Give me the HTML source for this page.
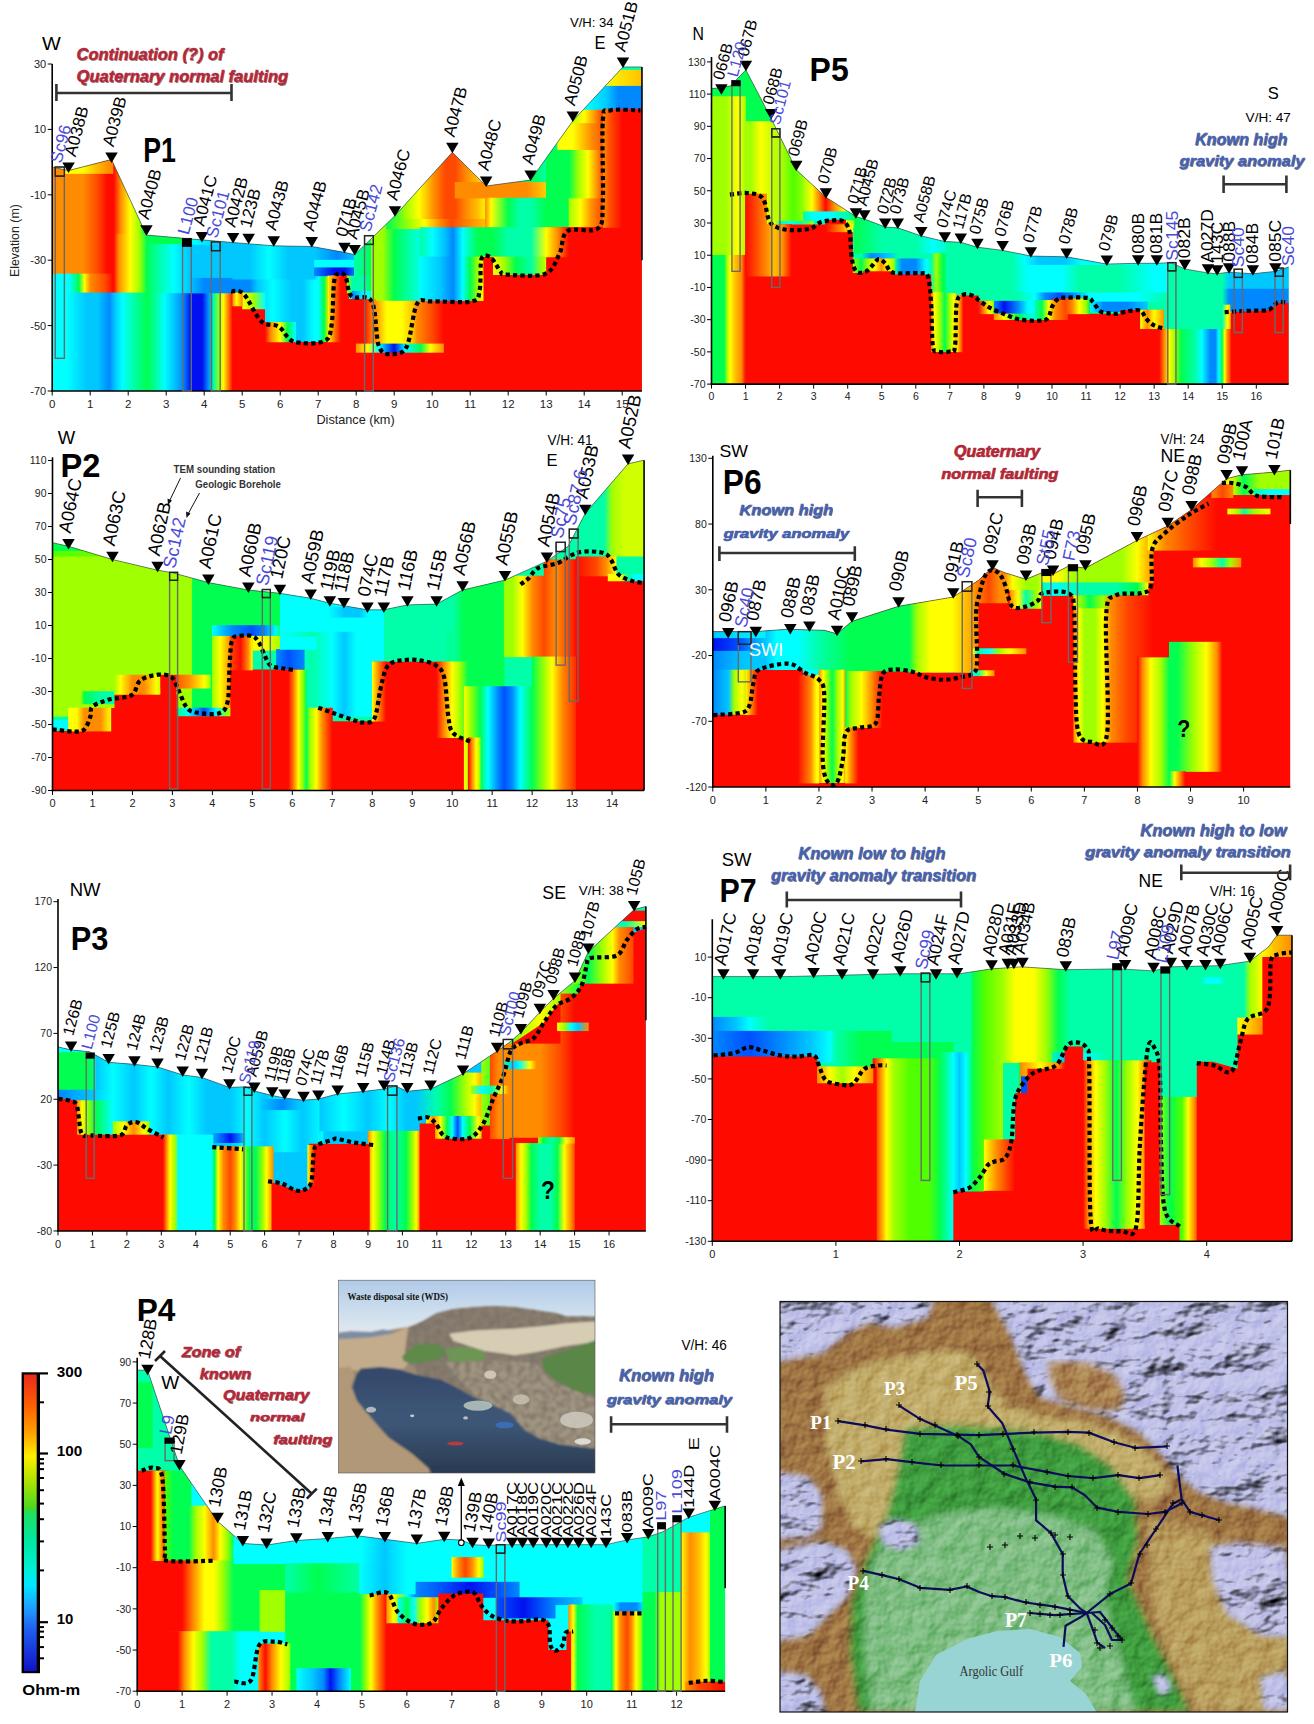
<!DOCTYPE html>
<html><head><meta charset="utf-8"><style>
html,body{margin:0;padding:0;background:#fff;}
body{width:1314px;height:1724px;overflow:hidden;}
svg{display:block;}
text{font-family:"Liberation Sans",sans-serif;}
</style></head><body>
<svg width="1314" height="1724" viewBox="0 0 1314 1724">
<rect width="1314" height="1724" fill="#fff"/>
<defs><linearGradient id="p1_g1" gradientUnits="userSpaceOnUse" x1="52.20" y1="0" x2="144.16" y2="0"><stop offset="0.0000" stop-color="#ff8c00"/><stop offset="0.3306" stop-color="#ff8c00"/><stop offset="0.4959" stop-color="#ff4800"/><stop offset="0.5992" stop-color="#ff0a00"/><stop offset="0.6694" stop-color="#ff0a00"/><stop offset="0.7438" stop-color="#ff8c00"/><stop offset="0.8471" stop-color="#ffff00"/><stop offset="0.9504" stop-color="#a0ff00"/><stop offset="1.0000" stop-color="#00ff50"/></linearGradient><linearGradient id="p1_g2" gradientUnits="userSpaceOnUse" x1="65.50" y1="0" x2="109.20" y2="0"><stop offset="0.0000" stop-color="#ffff00"/><stop offset="0.3913" stop-color="#ffff00"/><stop offset="0.6957" stop-color="#ffc000"/><stop offset="1.0000" stop-color="#ff8c00"/></linearGradient><linearGradient id="p1_g3" gradientUnits="userSpaceOnUse" x1="52.20" y1="0" x2="113.76" y2="0"><stop offset="0.0000" stop-color="#ff8c00"/><stop offset="0.4938" stop-color="#ff8c00"/><stop offset="0.7407" stop-color="#ff4800"/><stop offset="0.8951" stop-color="#ff0a00"/><stop offset="1.0000" stop-color="#ff0a00"/></linearGradient><linearGradient id="p1_g4" gradientUnits="userSpaceOnUse" x1="113.76" y1="0" x2="147.20" y2="0"><stop offset="0.0000" stop-color="#ff0a00"/><stop offset="0.1477" stop-color="#ff8c00"/><stop offset="0.4886" stop-color="#ffff00"/><stop offset="0.7727" stop-color="#a0ff00"/><stop offset="1.0000" stop-color="#00ff50"/></linearGradient><linearGradient id="p1_g5" gradientUnits="userSpaceOnUse" x1="52.20" y1="0" x2="113.00" y2="0"><stop offset="0.0000" stop-color="#00ffff"/><stop offset="0.2812" stop-color="#00ffff"/><stop offset="0.4375" stop-color="#00ff50"/><stop offset="0.5312" stop-color="#ffff00"/><stop offset="0.6250" stop-color="#ff8c00"/><stop offset="0.8750" stop-color="#ff4800"/><stop offset="1.0000" stop-color="#ff0a00"/></linearGradient><linearGradient id="p1_g6" gradientUnits="userSpaceOnUse" x1="52.20" y1="0" x2="232.70" y2="0"><stop offset="0.0000" stop-color="#00ffff"/><stop offset="0.0842" stop-color="#00ffff"/><stop offset="0.1895" stop-color="#00c8ff"/><stop offset="0.2526" stop-color="#00c8ff"/><stop offset="0.3158" stop-color="#0088ff"/><stop offset="0.3474" stop-color="#00c8ff"/><stop offset="0.3895" stop-color="#00ffff"/><stop offset="0.4526" stop-color="#00ffa8"/><stop offset="0.5263" stop-color="#00ff50"/><stop offset="0.5789" stop-color="#00ffa8"/><stop offset="0.6211" stop-color="#00ffff"/><stop offset="0.6737" stop-color="#00c8ff"/><stop offset="0.7263" stop-color="#0088ff"/><stop offset="0.7684" stop-color="#0010f0"/><stop offset="0.8316" stop-color="#0010f0"/><stop offset="0.8632" stop-color="#0088ff"/><stop offset="0.8947" stop-color="#00ffa8"/><stop offset="0.9263" stop-color="#a0ff00"/><stop offset="0.9474" stop-color="#ffff00"/><stop offset="0.9726" stop-color="#ff8c00"/><stop offset="1.0000" stop-color="#ff0a00"/></linearGradient><linearGradient id="p1_g7" gradientUnits="userSpaceOnUse" x1="146.44" y1="0" x2="192.80" y2="0"><stop offset="0.0000" stop-color="#00ff50"/><stop offset="0.7541" stop-color="#00ff50"/><stop offset="1.0000" stop-color="#00ffa8"/></linearGradient><linearGradient id="p1_g8" gradientUnits="userSpaceOnUse" x1="146.44" y1="0" x2="232.70" y2="0"><stop offset="0.0000" stop-color="#00ff50"/><stop offset="0.1410" stop-color="#00ffa8"/><stop offset="0.3172" stop-color="#00ffff"/><stop offset="0.4934" stop-color="#00c8ff"/><stop offset="0.7577" stop-color="#00c8ff"/><stop offset="1.0000" stop-color="#00c8ff"/></linearGradient><linearGradient id="p1_g9" gradientUnits="userSpaceOnUse" x1="189.00" y1="0" x2="232.70" y2="0"><stop offset="0.0000" stop-color="#00c8ff"/><stop offset="0.3478" stop-color="#0088ff"/><stop offset="1.0000" stop-color="#0088ff"/></linearGradient><linearGradient id="p1_g10" gradientUnits="userSpaceOnUse" x1="192.80" y1="0" x2="318.20" y2="0"><stop offset="0.0000" stop-color="#00ffff"/><stop offset="0.2424" stop-color="#00c8ff"/><stop offset="0.5455" stop-color="#00c8ff"/><stop offset="0.8485" stop-color="#00c8ff"/><stop offset="1.0000" stop-color="#0088ff"/></linearGradient><linearGradient id="p1_g11" gradientUnits="userSpaceOnUse" x1="232.70" y1="0" x2="318.20" y2="0"><stop offset="0.0000" stop-color="#00c8ff"/><stop offset="0.2000" stop-color="#00c8ff"/><stop offset="0.4222" stop-color="#00ffff"/><stop offset="0.6444" stop-color="#00c8ff"/><stop offset="0.9556" stop-color="#00c8ff"/><stop offset="1.0000" stop-color="#00ffff"/></linearGradient><linearGradient id="p1_g12" gradientUnits="userSpaceOnUse" x1="232.70" y1="0" x2="257.40" y2="0"><stop offset="0.0000" stop-color="#0088ff"/><stop offset="0.6923" stop-color="#0088ff"/><stop offset="1.0000" stop-color="#00c8ff"/></linearGradient><linearGradient id="p1_g13" gradientUnits="userSpaceOnUse" x1="257.40" y1="0" x2="318.20" y2="0"><stop offset="0.0000" stop-color="#00c8ff"/><stop offset="0.2500" stop-color="#00ffff"/><stop offset="0.5625" stop-color="#00c8ff"/><stop offset="0.7500" stop-color="#00c8ff"/><stop offset="0.9375" stop-color="#00ffff"/><stop offset="1.0000" stop-color="#00ffff"/></linearGradient><linearGradient id="p1_g14" gradientUnits="userSpaceOnUse" x1="232.70" y1="0" x2="265.00" y2="0"><stop offset="0.0000" stop-color="#ff0a00"/><stop offset="0.1176" stop-color="#ff8c00"/><stop offset="0.2941" stop-color="#ffff00"/><stop offset="0.6471" stop-color="#a0ff00"/><stop offset="1.0000" stop-color="#00ffff"/></linearGradient><linearGradient id="p1_g15" gradientUnits="userSpaceOnUse" x1="261.20" y1="0" x2="295.40" y2="0"><stop offset="0.0000" stop-color="#ff8c00"/><stop offset="0.3333" stop-color="#ffff00"/><stop offset="0.6667" stop-color="#00ff50"/><stop offset="1.0000" stop-color="#00ffff"/></linearGradient><linearGradient id="p1_g16" gradientUnits="userSpaceOnUse" x1="318.20" y1="0" x2="331.50" y2="0"><stop offset="0.0000" stop-color="#00ffff"/><stop offset="0.4286" stop-color="#00ff50"/><stop offset="0.7143" stop-color="#a0ff00"/><stop offset="1.0000" stop-color="#ffff00"/></linearGradient><linearGradient id="p1_g17" gradientUnits="userSpaceOnUse" x1="314.40" y1="0" x2="356.20" y2="0"><stop offset="0.0000" stop-color="#00c8ff"/><stop offset="0.5455" stop-color="#0088ff"/><stop offset="1.0000" stop-color="#00c8ff"/></linearGradient><linearGradient id="p1_g18" gradientUnits="userSpaceOnUse" x1="314.40" y1="0" x2="371.40" y2="0"><stop offset="0.0000" stop-color="#00ffff"/><stop offset="0.6667" stop-color="#00ffff"/><stop offset="0.8000" stop-color="#00ffa8"/><stop offset="1.0000" stop-color="#00ffa8"/></linearGradient><linearGradient id="p1_g19" gradientUnits="userSpaceOnUse" x1="314.40" y1="0" x2="356.20" y2="0"><stop offset="0.0000" stop-color="#0088ff"/><stop offset="0.4545" stop-color="#0010f0"/><stop offset="0.7273" stop-color="#0010f0"/><stop offset="1.0000" stop-color="#0088ff"/></linearGradient><linearGradient id="p1_g20" gradientUnits="userSpaceOnUse" x1="354.30" y1="0" x2="373.30" y2="0"><stop offset="0.0000" stop-color="#00ffa8"/><stop offset="1.0000" stop-color="#00ff50"/></linearGradient><linearGradient id="p1_g21" gradientUnits="userSpaceOnUse" x1="331.50" y1="0" x2="348.60" y2="0"><stop offset="0.0000" stop-color="#ffff00"/><stop offset="0.2222" stop-color="#ff8c00"/><stop offset="0.5556" stop-color="#ff0a00"/><stop offset="1.0000" stop-color="#ff0a00"/></linearGradient><linearGradient id="p1_g22" gradientUnits="userSpaceOnUse" x1="346.70" y1="0" x2="373.30" y2="0"><stop offset="0.0000" stop-color="#a0ff00"/><stop offset="0.2143" stop-color="#00ffa8"/><stop offset="0.6429" stop-color="#00ffa8"/><stop offset="1.0000" stop-color="#00ff50"/></linearGradient><linearGradient id="p1_g23" gradientUnits="userSpaceOnUse" x1="352.40" y1="0" x2="373.30" y2="0"><stop offset="0.0000" stop-color="#0088ff"/><stop offset="0.5455" stop-color="#00ffff"/><stop offset="1.0000" stop-color="#00ffff"/></linearGradient><linearGradient id="p1_g24" gradientUnits="userSpaceOnUse" x1="371.40" y1="0" x2="485.40" y2="0"><stop offset="0.0000" stop-color="#a0ff00"/><stop offset="0.1000" stop-color="#a0ff00"/><stop offset="0.2000" stop-color="#00ff50"/><stop offset="0.3333" stop-color="#00ffa8"/><stop offset="0.4667" stop-color="#00ffff"/><stop offset="0.5667" stop-color="#00c8ff"/><stop offset="0.6833" stop-color="#0088ff"/><stop offset="0.7833" stop-color="#00ffff"/><stop offset="0.8667" stop-color="#00ff50"/><stop offset="0.9500" stop-color="#a0ff00"/><stop offset="1.0000" stop-color="#ffff00"/></linearGradient><linearGradient id="p1_g25" gradientUnits="userSpaceOnUse" x1="386.60" y1="0" x2="485.40" y2="0"><stop offset="0.0000" stop-color="#00ff50"/><stop offset="0.2308" stop-color="#a0ff00"/><stop offset="0.3846" stop-color="#ffff00"/><stop offset="0.5385" stop-color="#ff8c00"/><stop offset="0.6538" stop-color="#ff4800"/><stop offset="0.8462" stop-color="#ff8c00"/><stop offset="1.0000" stop-color="#ffc000"/></linearGradient><linearGradient id="p1_g26" gradientUnits="userSpaceOnUse" x1="371.40" y1="0" x2="487.30" y2="0"><stop offset="0.0000" stop-color="#a0ff00"/><stop offset="0.1639" stop-color="#00ff50"/><stop offset="0.2951" stop-color="#a0ff00"/><stop offset="0.4098" stop-color="#ffff00"/><stop offset="0.5410" stop-color="#ff8c00"/><stop offset="0.6393" stop-color="#ff4800"/><stop offset="0.7213" stop-color="#ff4800"/><stop offset="0.8197" stop-color="#ff8c00"/><stop offset="0.9180" stop-color="#ffc000"/><stop offset="1.0000" stop-color="#ffff00"/></linearGradient><linearGradient id="p1_g27" gradientUnits="userSpaceOnUse" x1="485.40" y1="0" x2="569.00" y2="0"><stop offset="0.0000" stop-color="#a0ff00"/><stop offset="0.2727" stop-color="#00ff50"/><stop offset="0.5455" stop-color="#00ff50"/><stop offset="0.7273" stop-color="#00ffa8"/><stop offset="1.0000" stop-color="#00ff50"/></linearGradient><linearGradient id="p1_g28" gradientUnits="userSpaceOnUse" x1="455.00" y1="0" x2="567.86" y2="0"><stop offset="0.0000" stop-color="#ff8c00"/><stop offset="0.6397" stop-color="#ff8c00"/><stop offset="0.7744" stop-color="#ffc000"/><stop offset="0.9091" stop-color="#ffff00"/><stop offset="1.0000" stop-color="#a0ff00"/></linearGradient><linearGradient id="p1_g29" gradientUnits="userSpaceOnUse" x1="485.40" y1="0" x2="580.40" y2="0"><stop offset="0.0000" stop-color="#ff8c00"/><stop offset="0.0600" stop-color="#ffff00"/><stop offset="0.2400" stop-color="#00ff50"/><stop offset="0.3600" stop-color="#00ffa8"/><stop offset="0.4800" stop-color="#00ffa8"/><stop offset="0.6400" stop-color="#00ff50"/><stop offset="0.8800" stop-color="#00ff50"/><stop offset="1.0000" stop-color="#a0ff00"/></linearGradient><linearGradient id="p1_g30" gradientUnits="userSpaceOnUse" x1="569.00" y1="0" x2="603.20" y2="0"><stop offset="0.0000" stop-color="#a0ff00"/><stop offset="0.3333" stop-color="#ffff00"/><stop offset="0.6667" stop-color="#ff8c00"/><stop offset="1.0000" stop-color="#ff4800"/></linearGradient><linearGradient id="p1_g31" gradientUnits="userSpaceOnUse" x1="546.20" y1="0" x2="607.00" y2="0"><stop offset="0.0000" stop-color="#00ff50"/><stop offset="0.3750" stop-color="#00ff50"/><stop offset="0.5312" stop-color="#a0ff00"/><stop offset="0.6875" stop-color="#ffff00"/><stop offset="0.8438" stop-color="#ff8c00"/><stop offset="1.0000" stop-color="#ff0a00"/></linearGradient><linearGradient id="p1_g32" gradientUnits="userSpaceOnUse" x1="557.60" y1="0" x2="622.20" y2="0"><stop offset="0.0000" stop-color="#ffff00"/><stop offset="0.2353" stop-color="#ffff00"/><stop offset="0.5294" stop-color="#ff8c00"/><stop offset="0.7647" stop-color="#ff4800"/><stop offset="1.0000" stop-color="#ff0a00"/></linearGradient><linearGradient id="p1_g33" gradientUnits="userSpaceOnUse" x1="569.00" y1="0" x2="607.00" y2="0"><stop offset="0.0000" stop-color="#a0ff00"/><stop offset="0.4000" stop-color="#ffff00"/><stop offset="0.7000" stop-color="#ff8c00"/><stop offset="1.0000" stop-color="#ff0a00"/></linearGradient><linearGradient id="p1_g34" gradientUnits="userSpaceOnUse" x1="576.60" y1="0" x2="641.96" y2="0"><stop offset="0.0000" stop-color="#00ffa8"/><stop offset="0.1744" stop-color="#00ffff"/><stop offset="0.4651" stop-color="#00c8ff"/><stop offset="0.6395" stop-color="#0088ff"/><stop offset="1.0000" stop-color="#0088ff"/></linearGradient><linearGradient id="p1_g35" gradientUnits="userSpaceOnUse" x1="603.20" y1="0" x2="641.96" y2="0"><stop offset="0.0000" stop-color="#ffff00"/><stop offset="1.0000" stop-color="#ffc000"/></linearGradient><linearGradient id="p1_g36" gradientUnits="userSpaceOnUse" x1="420.04" y1="0" x2="569.00" y2="0"><stop offset="0.0000" stop-color="#00ffa8"/><stop offset="0.0816" stop-color="#00ffff"/><stop offset="0.1582" stop-color="#00c8ff"/><stop offset="0.2219" stop-color="#0088ff"/><stop offset="0.2857" stop-color="#00ffff"/><stop offset="0.3878" stop-color="#00ff50"/><stop offset="0.4898" stop-color="#00ff50"/><stop offset="0.5918" stop-color="#00ffa8"/><stop offset="0.7449" stop-color="#00ffa8"/><stop offset="0.8469" stop-color="#ffff00"/><stop offset="0.9490" stop-color="#ff8c00"/><stop offset="1.0000" stop-color="#ff0a00"/></linearGradient><linearGradient id="p1_g37" gradientUnits="userSpaceOnUse" x1="420.04" y1="0" x2="483.50" y2="0"><stop offset="0.0000" stop-color="#00ffff"/><stop offset="0.3114" stop-color="#00c8ff"/><stop offset="0.5210" stop-color="#0088ff"/><stop offset="0.6707" stop-color="#00ffff"/><stop offset="0.7904" stop-color="#00ff50"/><stop offset="0.9102" stop-color="#a0ff00"/><stop offset="1.0000" stop-color="#ffff00"/></linearGradient><linearGradient id="p1_g38" gradientUnits="userSpaceOnUse" x1="483.50" y1="0" x2="561.40" y2="0"><stop offset="0.0000" stop-color="#ff8c00"/><stop offset="0.1220" stop-color="#ffff00"/><stop offset="0.2683" stop-color="#a0ff00"/><stop offset="0.4146" stop-color="#00ff50"/><stop offset="0.6098" stop-color="#00ffa8"/><stop offset="0.7561" stop-color="#a0ff00"/><stop offset="0.8537" stop-color="#ffff00"/><stop offset="1.0000" stop-color="#ff8c00"/></linearGradient><linearGradient id="p1_g39" gradientUnits="userSpaceOnUse" x1="232.70" y1="0" x2="242.20" y2="0"><stop offset="0.0000" stop-color="#ff8c00"/><stop offset="0.4000" stop-color="#ffff00"/><stop offset="1.0000" stop-color="#ff8c00"/></linearGradient><linearGradient id="p1_g40" gradientUnits="userSpaceOnUse" x1="327.70" y1="0" x2="341.00" y2="0"><stop offset="0.0000" stop-color="#ffff00"/><stop offset="0.4286" stop-color="#ff8c00"/><stop offset="1.0000" stop-color="#ff0a00"/></linearGradient><linearGradient id="p1_g41" gradientUnits="userSpaceOnUse" x1="265.00" y1="0" x2="295.40" y2="0"><stop offset="0.0000" stop-color="#ff0a00"/><stop offset="0.1875" stop-color="#ff8c00"/><stop offset="0.5000" stop-color="#ffff00"/><stop offset="0.7500" stop-color="#00ff50"/><stop offset="1.0000" stop-color="#00ffff"/></linearGradient><linearGradient id="p1_g42" gradientUnits="userSpaceOnUse" x1="346.70" y1="0" x2="375.20" y2="0"><stop offset="0.0000" stop-color="#ff0a00"/><stop offset="0.6000" stop-color="#ff0a00"/><stop offset="0.9333" stop-color="#ff8c00"/><stop offset="1.0000" stop-color="#ff8c00"/></linearGradient><linearGradient id="p1_g43" gradientUnits="userSpaceOnUse" x1="375.20" y1="0" x2="417.00" y2="0"><stop offset="0.0000" stop-color="#ff8c00"/><stop offset="0.2727" stop-color="#ffff00"/><stop offset="0.6364" stop-color="#ffff00"/><stop offset="0.9091" stop-color="#ffc000"/><stop offset="1.0000" stop-color="#ff8c00"/></linearGradient><linearGradient id="p1_g44" gradientUnits="userSpaceOnUse" x1="417.00" y1="0" x2="443.60" y2="0"><stop offset="0.0000" stop-color="#ff8c00"/><stop offset="0.5714" stop-color="#ff4800"/><stop offset="1.0000" stop-color="#ff0a00"/></linearGradient><linearGradient id="p1_g45" gradientUnits="userSpaceOnUse" x1="356.20" y1="0" x2="443.60" y2="0"><stop offset="0.0000" stop-color="#ff8c00"/><stop offset="0.1304" stop-color="#ffff00"/><stop offset="0.2609" stop-color="#00ffff"/><stop offset="0.4348" stop-color="#0010f0"/><stop offset="0.5652" stop-color="#00ffff"/><stop offset="0.7391" stop-color="#00ff50"/><stop offset="0.8478" stop-color="#ffff00"/><stop offset="1.0000" stop-color="#ff8c00"/></linearGradient><linearGradient id="p1_g46" gradientUnits="userSpaceOnUse" x1="546.20" y1="0" x2="569.00" y2="0"><stop offset="0.0000" stop-color="#ffff00"/><stop offset="0.5000" stop-color="#ff8c00"/><stop offset="1.0000" stop-color="#ff0a00"/></linearGradient><linearGradient id="p1_g47" gradientUnits="userSpaceOnUse" x1="603.20" y1="0" x2="622.20" y2="0"><stop offset="0.0000" stop-color="#ff8c00"/><stop offset="0.4000" stop-color="#ff4800"/><stop offset="1.0000" stop-color="#ff0a00"/></linearGradient><clipPath id="p1_clip"><polygon points="52.20,391.00 52.20,167.00 68.54,170.60 111.48,159.48 146.44,235.02 187.10,238.62 233.08,242.54 273.74,245.81 311.74,246.47 344.42,252.35 354.68,254.64 394.96,215.73 452.34,152.29 486.16,185.97 530.62,180.08 572.80,120.90 622.96,66.94 641.96,66.94 641.96,391.00"/></clipPath></defs><g clip-path="url(#p1_clip)"><rect x="51.90" y="47.35" width="590.36" height="343.95" fill="#00ffff"/><rect x="51.90" y="47.35" width="95.60" height="186.99" fill="url(#p1_g1)"/><rect x="65.20" y="47.35" width="48.10" height="126.50" fill="url(#p1_g2)"/><rect x="51.90" y="233.74" width="62.16" height="40.49" fill="url(#p1_g3)"/><rect x="113.46" y="233.74" width="34.04" height="59.46" fill="url(#p1_g4)"/><rect x="51.90" y="273.63" width="62.16" height="19.57" fill="url(#p1_g5)"/><rect x="51.90" y="292.60" width="181.10" height="98.70" fill="url(#p1_g6)"/><rect x="146.14" y="233.74" width="46.96" height="11.06" fill="url(#p1_g7)"/><rect x="146.14" y="244.20" width="86.86" height="49.00" fill="url(#p1_g8)"/><rect x="188.70" y="277.88" width="44.30" height="15.31" fill="url(#p1_g9)"/><rect x="192.50" y="227.20" width="126.00" height="17.60" fill="url(#p1_g10)"/><rect x="232.40" y="244.20" width="86.10" height="35.92" fill="url(#p1_g11)"/><rect x="232.40" y="279.52" width="25.30" height="13.68" fill="url(#p1_g12)"/><rect x="257.10" y="279.52" width="61.40" height="62.73" fill="url(#p1_g13)"/><rect x="232.40" y="292.60" width="32.90" height="30.03" fill="url(#p1_g14)"/><rect x="260.90" y="322.03" width="34.80" height="20.22" fill="url(#p1_g15)"/><rect x="317.90" y="272.98" width="13.90" height="69.27" fill="url(#p1_g16)"/><rect x="314.10" y="233.74" width="42.40" height="26.76" fill="url(#p1_g17)"/><rect x="314.10" y="259.90" width="57.60" height="8.12" fill="url(#p1_g18)"/><rect x="314.10" y="267.42" width="42.40" height="8.77" fill="url(#p1_g19)"/><rect x="354.00" y="227.20" width="19.60" height="66.00" fill="url(#p1_g20)"/><rect x="331.20" y="275.60" width="17.70" height="24.14" fill="url(#p1_g21)"/><rect x="346.40" y="275.60" width="27.20" height="17.60" fill="url(#p1_g22)"/><rect x="352.10" y="290.96" width="21.50" height="8.78" fill="url(#p1_g23)"/><rect x="371.10" y="220.01" width="114.60" height="81.37" fill="url(#p1_g24)"/><rect x="386.30" y="218.37" width="99.40" height="10.74" fill="url(#p1_g25)"/><rect x="371.10" y="47.35" width="116.50" height="171.62" fill="url(#p1_g26)"/><rect x="485.10" y="47.35" width="84.20" height="135.32" fill="url(#p1_g27)"/><rect x="454.70" y="182.07" width="113.46" height="16.30" fill="url(#p1_g28)"/><rect x="485.10" y="197.77" width="95.60" height="30.03" fill="url(#p1_g29)"/><rect x="568.70" y="197.77" width="34.80" height="30.03" fill="url(#p1_g30)"/><rect x="545.90" y="149.37" width="96.36" height="49.00" fill="url(#p1_g31)"/><rect x="557.30" y="122.56" width="84.96" height="27.41" fill="url(#p1_g32)"/><rect x="568.70" y="109.15" width="73.56" height="14.01" fill="url(#p1_g33)"/><rect x="576.30" y="85.28" width="65.96" height="24.47" fill="url(#p1_g34)"/><rect x="602.90" y="69.26" width="39.36" height="16.62" fill="url(#p1_g35)"/><rect x="602.90" y="47.35" width="39.36" height="22.51" fill="#00ffa8"/><rect x="419.74" y="227.20" width="149.56" height="30.03" fill="url(#p1_g36)"/><rect x="419.74" y="256.63" width="65.96" height="44.09" fill="url(#p1_g37)"/><rect x="483.20" y="256.63" width="63.30" height="18.58" fill="url(#p1_g38)"/><polygon points="232.70,292.90 242.20,292.90 242.20,309.25 265.00,309.25 265.00,341.95 327.70,341.95 327.70,275.90 346.70,275.90 346.70,299.44 375.20,299.44 375.20,351.76 413.20,351.76 413.20,301.07 483.50,301.07 483.50,256.93 493.00,256.93 493.00,274.91 546.20,274.91 546.20,227.50 603.20,227.50 603.20,109.45 641.96,109.45 641.96,391.00 232.70,391.00" fill="#ff0a00"/><rect x="232.40" y="292.60" width="10.10" height="13.68" fill="url(#p1_g39)"/><rect x="327.40" y="275.60" width="13.90" height="66.65" fill="url(#p1_g40)"/><rect x="264.70" y="322.03" width="31.00" height="20.22" fill="url(#p1_g41)"/><rect x="346.40" y="299.14" width="29.10" height="45.07" fill="url(#p1_g42)"/><rect x="374.90" y="300.77" width="42.40" height="43.44" fill="url(#p1_g43)"/><rect x="416.70" y="300.77" width="27.20" height="43.44" fill="url(#p1_g44)"/><rect x="355.90" y="343.61" width="88.00" height="9.10" fill="url(#p1_g45)"/><rect x="545.90" y="227.20" width="57.60" height="30.03" fill="url(#p1_g46)"/><rect x="602.90" y="109.15" width="39.36" height="118.65" fill="url(#p1_g47)"/></g><path d="M231.18,291.26 C233.27,291.70 238.72,288.87 243.72,293.88 C248.72,298.89 255.37,315.90 261.20,321.35 C267.03,326.80 273.23,323.20 278.68,326.58 C284.13,329.96 286.34,339.17 293.88,341.62 C301.42,344.08 317.63,343.97 323.90,341.30 C330.17,338.63 329.79,335.57 331.50,325.60 C333.21,315.63 332.89,290.18 334.16,281.46 C335.43,272.74 337.20,274.10 339.10,273.28 C341.00,272.46 343.47,272.74 345.56,276.55 C347.65,280.37 347.27,292.03 351.64,296.17 C356.01,300.31 367.22,293.01 371.78,301.40 C376.34,309.80 375.64,337.75 379.00,346.53 C382.36,355.30 387.30,354.05 391.92,354.05 C396.54,354.05 402.56,354.87 406.74,346.53 C410.92,338.19 412.82,311.54 417.00,304.02 C421.18,296.50 422.64,301.84 431.82,301.40 C441.00,300.97 464.12,303.36 472.10,301.40 C480.08,299.44 478.12,296.77 479.70,289.63 C481.28,282.49 479.70,263.85 481.60,258.56 C483.50,253.28 487.93,255.73 491.10,257.91 C494.27,260.09 498.07,268.87 500.60,271.64 C503.13,274.42 498.89,274.21 506.30,274.59 C513.71,274.97 536.19,277.42 545.06,273.93 C553.93,270.45 555.76,260.80 559.50,253.66 C563.24,246.52 561.08,235.29 567.48,231.10 C573.88,226.90 591.99,233.44 597.88,228.48 C603.77,223.52 602.00,219.32 602.82,201.34 C603.64,183.36 601.62,135.72 602.82,120.57 C604.02,105.42 603.77,112.12 610.04,110.43 C616.31,108.74 635.37,110.43 640.44,110.43" fill="none" stroke="#000" stroke-width="4.2" stroke-dasharray="4.2 3.2"/><polyline points="52.20,167.00 68.54,170.60 111.48,159.48 146.44,235.02 187.10,238.62 233.08,242.54 273.74,245.81 311.74,246.47 344.42,252.35 354.68,254.64 394.96,215.73 452.34,152.29 486.16,185.97 530.62,180.08 572.80,120.90 622.96,66.94 641.96,66.94" fill="none" stroke="#333" stroke-width="0.6"/><line x1="52.20" y1="64.00" x2="52.20" y2="391.80" stroke="#000" stroke-width="1.6"/><line x1="51.40" y1="391.00" x2="641.96" y2="391.00" stroke="#000" stroke-width="1.6"/><line x1="641.96" y1="66.94" x2="641.96" y2="260.20" stroke="#000" stroke-width="1.6"/><line x1="47.70" y1="64.00" x2="52.20" y2="64.00" stroke="#000" stroke-width="1"/><text x="46.20" y="67.96" font-size="11.00" text-anchor="end" fill="#222" font-weight="normal" >30</text><line x1="47.70" y1="129.40" x2="52.20" y2="129.40" stroke="#000" stroke-width="1"/><text x="46.20" y="133.36" font-size="11.00" text-anchor="end" fill="#222" font-weight="normal" >10</text><line x1="47.70" y1="194.80" x2="52.20" y2="194.80" stroke="#000" stroke-width="1"/><text x="46.20" y="198.76" font-size="11.00" text-anchor="end" fill="#222" font-weight="normal" >-10</text><line x1="47.70" y1="260.20" x2="52.20" y2="260.20" stroke="#000" stroke-width="1"/><text x="46.20" y="264.16" font-size="11.00" text-anchor="end" fill="#222" font-weight="normal" >-30</text><line x1="47.70" y1="325.60" x2="52.20" y2="325.60" stroke="#000" stroke-width="1"/><text x="46.20" y="329.56" font-size="11.00" text-anchor="end" fill="#222" font-weight="normal" >-50</text><line x1="47.70" y1="391.00" x2="52.20" y2="391.00" stroke="#000" stroke-width="1"/><text x="46.20" y="394.96" font-size="11.00" text-anchor="end" fill="#222" font-weight="normal" >-70</text><line x1="52.20" y1="391.00" x2="52.20" y2="395.50" stroke="#000" stroke-width="1"/><text x="52.20" y="408.03" font-size="11.50" text-anchor="middle" fill="#222" font-weight="normal" >0</text><line x1="90.20" y1="391.00" x2="90.20" y2="395.50" stroke="#000" stroke-width="1"/><text x="90.20" y="408.03" font-size="11.50" text-anchor="middle" fill="#222" font-weight="normal" >1</text><line x1="128.20" y1="391.00" x2="128.20" y2="395.50" stroke="#000" stroke-width="1"/><text x="128.20" y="408.03" font-size="11.50" text-anchor="middle" fill="#222" font-weight="normal" >2</text><line x1="166.20" y1="391.00" x2="166.20" y2="395.50" stroke="#000" stroke-width="1"/><text x="166.20" y="408.03" font-size="11.50" text-anchor="middle" fill="#222" font-weight="normal" >3</text><line x1="204.20" y1="391.00" x2="204.20" y2="395.50" stroke="#000" stroke-width="1"/><text x="204.20" y="408.03" font-size="11.50" text-anchor="middle" fill="#222" font-weight="normal" >4</text><line x1="242.20" y1="391.00" x2="242.20" y2="395.50" stroke="#000" stroke-width="1"/><text x="242.20" y="408.03" font-size="11.50" text-anchor="middle" fill="#222" font-weight="normal" >5</text><line x1="280.20" y1="391.00" x2="280.20" y2="395.50" stroke="#000" stroke-width="1"/><text x="280.20" y="408.03" font-size="11.50" text-anchor="middle" fill="#222" font-weight="normal" >6</text><line x1="318.20" y1="391.00" x2="318.20" y2="395.50" stroke="#000" stroke-width="1"/><text x="318.20" y="408.03" font-size="11.50" text-anchor="middle" fill="#222" font-weight="normal" >7</text><line x1="356.20" y1="391.00" x2="356.20" y2="395.50" stroke="#000" stroke-width="1"/><text x="356.20" y="408.03" font-size="11.50" text-anchor="middle" fill="#222" font-weight="normal" >8</text><line x1="394.20" y1="391.00" x2="394.20" y2="395.50" stroke="#000" stroke-width="1"/><text x="394.20" y="408.03" font-size="11.50" text-anchor="middle" fill="#222" font-weight="normal" >9</text><line x1="432.20" y1="391.00" x2="432.20" y2="395.50" stroke="#000" stroke-width="1"/><text x="432.20" y="408.03" font-size="11.50" text-anchor="middle" fill="#222" font-weight="normal" >10</text><line x1="470.20" y1="391.00" x2="470.20" y2="395.50" stroke="#000" stroke-width="1"/><text x="470.20" y="408.03" font-size="11.50" text-anchor="middle" fill="#222" font-weight="normal" >11</text><line x1="508.20" y1="391.00" x2="508.20" y2="395.50" stroke="#000" stroke-width="1"/><text x="508.20" y="408.03" font-size="11.50" text-anchor="middle" fill="#222" font-weight="normal" >12</text><line x1="546.20" y1="391.00" x2="546.20" y2="395.50" stroke="#000" stroke-width="1"/><text x="546.20" y="408.03" font-size="11.50" text-anchor="middle" fill="#222" font-weight="normal" >13</text><line x1="584.20" y1="391.00" x2="584.20" y2="395.50" stroke="#000" stroke-width="1"/><text x="584.20" y="408.03" font-size="11.50" text-anchor="middle" fill="#222" font-weight="normal" >14</text><line x1="622.20" y1="391.00" x2="622.20" y2="395.50" stroke="#000" stroke-width="1"/><text x="622.20" y="408.03" font-size="11.50" text-anchor="middle" fill="#222" font-weight="normal" >15</text><rect x="55.24" y="167.00" width="9.12" height="191.30" fill="none" stroke="#6a6a6a" stroke-width="1.4"/><line x1="55.24" y1="176.12" x2="64.36" y2="176.12" stroke="#222" stroke-width="1.3"/><rect x="55.24" y="167.00" width="9.12" height="9.12" fill="none" stroke="#222" stroke-width="1.3"/><rect x="182.54" y="238.62" width="8.74" height="152.38" fill="none" stroke="#6a6a6a" stroke-width="1.4"/><rect x="182.04" y="238.12" width="9.74" height="8.74" fill="#000"/><rect x="211.42" y="241.89" width="8.74" height="149.11" fill="none" stroke="#6a6a6a" stroke-width="1.4"/><line x1="211.42" y1="250.63" x2="220.16" y2="250.63" stroke="#222" stroke-width="1.3"/><rect x="211.42" y="241.89" width="8.74" height="8.74" fill="none" stroke="#222" stroke-width="1.3"/><rect x="364.56" y="235.68" width="8.74" height="155.32" fill="none" stroke="#6a6a6a" stroke-width="1.4"/><line x1="364.56" y1="244.41" x2="373.30" y2="244.41" stroke="#222" stroke-width="1.3"/><rect x="364.56" y="235.68" width="8.74" height="8.74" fill="none" stroke="#222" stroke-width="1.3"/><polygon points="62.29,162.39 74.79,162.39 68.54,172.89" fill="#000"/><text transform="translate(75.54 157.39) scale(1 1.000) rotate(-75.0)" font-size="17.00" font-weight="normal" fill="#000" text-anchor="start">A038B</text><polygon points="105.23,152.58 117.73,152.58 111.48,163.08" fill="#000"/><text transform="translate(113.48 147.58) scale(1 1.000) rotate(-75.0)" font-size="17.00" font-weight="normal" fill="#000" text-anchor="start">A039B</text><polygon points="140.19,225.18 152.69,225.18 146.44,235.68" fill="#000"/><text transform="translate(148.44 220.18) scale(1 1.000) rotate(-75.0)" font-size="17.00" font-weight="normal" fill="#000" text-anchor="start">A040B</text><polygon points="195.67,232.04 208.17,232.04 201.92,242.54" fill="#000"/><text transform="translate(203.92 227.04) scale(1 1.000) rotate(-75.0)" font-size="17.00" font-weight="normal" fill="#000" text-anchor="start">A041C</text><polygon points="226.83,233.02 239.33,233.02 233.08,243.52" fill="#000"/><text transform="translate(235.08 228.02) scale(1 1.000) rotate(-75.0)" font-size="17.00" font-weight="normal" fill="#000" text-anchor="start">A042B</text><polygon points="242.41,233.68 254.91,233.68 248.66,244.18" fill="#000"/><text transform="translate(250.66 228.68) scale(1 1.000) rotate(-75.0)" font-size="17.00" font-weight="normal" fill="#000" text-anchor="start">123B</text><polygon points="267.49,236.29 279.99,236.29 273.74,246.79" fill="#000"/><text transform="translate(275.74 231.29) scale(1 1.000) rotate(-75.0)" font-size="17.00" font-weight="normal" fill="#000" text-anchor="start">A043B</text><polygon points="305.49,236.95 317.99,236.95 311.74,247.45" fill="#000"/><text transform="translate(313.74 231.95) scale(1 1.000) rotate(-75.0)" font-size="17.00" font-weight="normal" fill="#000" text-anchor="start">A044B</text><polygon points="338.17,242.83 350.67,242.83 344.42,253.33" fill="#000"/><text transform="translate(346.42 237.83) scale(1 1.000) rotate(-75.0)" font-size="17.00" font-weight="normal" fill="#000" text-anchor="start">071B</text><polygon points="348.43,245.12 360.93,245.12 354.68,255.62" fill="#000"/><text transform="translate(356.68 240.12) scale(1 1.000) rotate(-75.0)" font-size="17.00" font-weight="normal" fill="#000" text-anchor="start">A045B</text><polygon points="388.71,206.21 401.21,206.21 394.96,216.71" fill="#000"/><text transform="translate(396.96 201.21) scale(1 1.000) rotate(-75.0)" font-size="17.00" font-weight="normal" fill="#000" text-anchor="start">A046C</text><polygon points="446.09,142.77 458.59,142.77 452.34,153.27" fill="#000"/><text transform="translate(454.34 137.77) scale(1 1.000) rotate(-75.0)" font-size="17.00" font-weight="normal" fill="#000" text-anchor="start">A047B</text><polygon points="479.91,176.45 492.41,176.45 486.16,186.95" fill="#000"/><text transform="translate(488.16 171.45) scale(1 1.000) rotate(-75.0)" font-size="17.00" font-weight="normal" fill="#000" text-anchor="start">A048C</text><polygon points="524.37,170.40 536.87,170.40 530.62,180.90" fill="#000"/><text transform="translate(532.62 165.40) scale(1 1.000) rotate(-75.0)" font-size="17.00" font-weight="normal" fill="#000" text-anchor="start">A049B</text><polygon points="566.55,111.38 579.05,111.38 572.80,121.88" fill="#000"/><text transform="translate(574.80 106.38) scale(1 1.000) rotate(-75.0)" font-size="17.00" font-weight="normal" fill="#000" text-anchor="start">A050B</text><polygon points="616.71,57.42 629.21,57.42 622.96,67.92" fill="#000"/><text transform="translate(624.96 52.42) scale(1 1.000) rotate(-75.0)" font-size="17.00" font-weight="normal" fill="#000" text-anchor="start">A051B</text><text transform="translate(61.30 164.00) scale(1 1.000) rotate(-75.0)" font-size="17.00" font-weight="normal" fill="#4a4ad8" text-anchor="start">Sc96</text><text transform="translate(188.60 235.62) scale(1 1.000) rotate(-75.0)" font-size="17.00" font-weight="normal" fill="#4a4ad8" text-anchor="start">L100</text><text transform="translate(217.10 238.89) scale(1 1.000) rotate(-75.0)" font-size="17.00" font-weight="normal" fill="#4a4ad8" text-anchor="start">Sc101</text><text transform="translate(370.24 232.68) scale(1 1.000) rotate(-75.0)" font-size="17.00" font-weight="normal" fill="#4a4ad8" text-anchor="start">Sc142</text><text transform="translate(42.00 49.80) scale(1.0724 1)" font-size="18.55" font-weight="normal" fill="#000">W</text><text transform="translate(594.50 49.30) scale(0.9279 1)" font-size="17.83" font-weight="normal" fill="#000">E</text><text transform="translate(569.90 27.40) scale(0.9918 1)" font-size="13.24" font-weight="normal" fill="#000">V/H: 34</text><text transform="translate(143.20 161.60) scale(0.7518 1)" font-size="35.51" font-weight="bold" fill="#000">P1</text><text opacity="0.45" transform="translate(77.40 60.50) scale(0.9687 1)" font-size="16.97" font-weight="bold" font-style="italic" fill="#000">Continuation (?) of</text><text stroke="#b3263c" stroke-width="0.5" transform="translate(76.60 59.70) scale(0.9687 1)" font-size="16.97" font-weight="bold" font-style="italic" fill="#b3263c">Continuation (?) of</text><text opacity="0.45" transform="translate(77.40 82.60) scale(1.0309 1)" font-size="16.00" font-weight="bold" font-style="italic" fill="#000">Quaternary normal faulting</text><text stroke="#b3263c" stroke-width="0.5" transform="translate(76.60 81.80) scale(1.0309 1)" font-size="16.00" font-weight="bold" font-style="italic" fill="#b3263c">Quaternary normal faulting</text><path d="M56.4,84 V101 M56.4,93 H231.5 M231.5,84 V101" stroke="#333" stroke-width="2.6" fill="none"/><text transform="translate(316.40 423.60) scale(0.9729 1)" font-size="13.04" font-weight="normal" fill="#222">Distance (km)</text><text x="19.30" y="240.60" font-size="12.40" text-anchor="middle" fill="#222" font-weight="normal" transform="rotate(-90.0 19.30 240.60)" >Elevation (m)</text>
<defs><linearGradient id="p5_g1" gradientUnits="userSpaceOnUse" x1="725.80" y1="0" x2="745.55" y2="0"><stop offset="0.0000" stop-color="#a0ff00"/><stop offset="0.3103" stop-color="#d0ff00"/><stop offset="0.5690" stop-color="#ffff00"/><stop offset="0.8276" stop-color="#d0ff00"/><stop offset="1.0000" stop-color="#a0ff00"/></linearGradient><linearGradient id="p5_g2" gradientUnits="userSpaceOnUse" x1="711.50" y1="0" x2="745.55" y2="0"><stop offset="0.0000" stop-color="#00ff50"/><stop offset="0.3800" stop-color="#00ff50"/><stop offset="0.4500" stop-color="#a0ff00"/><stop offset="0.5500" stop-color="#ffff00"/><stop offset="0.7000" stop-color="#ffc000"/><stop offset="0.8800" stop-color="#ff8c00"/><stop offset="1.0000" stop-color="#ff0a00"/></linearGradient><linearGradient id="p5_g3" gradientUnits="userSpaceOnUse" x1="745.55" y1="0" x2="805.14" y2="0"><stop offset="0.0000" stop-color="#a0ff00"/><stop offset="0.0857" stop-color="#a0ff00"/><stop offset="0.2571" stop-color="#ffff00"/><stop offset="0.4000" stop-color="#d0ff00"/><stop offset="0.6286" stop-color="#a0ff00"/><stop offset="0.8000" stop-color="#50ff00"/><stop offset="1.0000" stop-color="#a0ff00"/></linearGradient><linearGradient id="p5_g4" gradientUnits="userSpaceOnUse" x1="803.43" y1="0" x2="857.91" y2="0"><stop offset="0.0000" stop-color="#a0ff00"/><stop offset="0.1563" stop-color="#ffff00"/><stop offset="0.2812" stop-color="#ff8c00"/><stop offset="0.4063" stop-color="#ff0a00"/><stop offset="0.5625" stop-color="#ff8c00"/><stop offset="0.7500" stop-color="#ffff00"/><stop offset="0.9375" stop-color="#a0ff00"/><stop offset="1.0000" stop-color="#00ff50"/></linearGradient><linearGradient id="p5_g5" gradientUnits="userSpaceOnUse" x1="774.49" y1="0" x2="813.65" y2="0"><stop offset="0.0000" stop-color="#ffff00"/><stop offset="0.1304" stop-color="#00ffa8"/><stop offset="0.3913" stop-color="#00ffff"/><stop offset="0.6522" stop-color="#00ffa8"/><stop offset="1.0000" stop-color="#a0ff00"/></linearGradient><linearGradient id="p5_g6" gradientUnits="userSpaceOnUse" x1="803.43" y1="0" x2="856.21" y2="0"><stop offset="0.0000" stop-color="#00ffa8"/><stop offset="0.1935" stop-color="#00ffff"/><stop offset="0.5161" stop-color="#00ffff"/><stop offset="0.8387" stop-color="#00ffa8"/><stop offset="1.0000" stop-color="#00ff50"/></linearGradient><linearGradient id="p5_g7" gradientUnits="userSpaceOnUse" x1="825.57" y1="0" x2="854.51" y2="0"><stop offset="0.0000" stop-color="#ff0a00"/><stop offset="0.2941" stop-color="#ff8c00"/><stop offset="0.6471" stop-color="#ffff00"/><stop offset="1.0000" stop-color="#a0ff00"/></linearGradient><linearGradient id="p5_g8" gradientUnits="userSpaceOnUse" x1="825.57" y1="0" x2="856.21" y2="0"><stop offset="0.0000" stop-color="#ffff00"/><stop offset="0.3889" stop-color="#a0ff00"/><stop offset="0.7222" stop-color="#00ffff"/><stop offset="1.0000" stop-color="#00ffa8"/></linearGradient><linearGradient id="p5_g9" gradientUnits="userSpaceOnUse" x1="854.51" y1="0" x2="956.66" y2="0"><stop offset="0.0000" stop-color="#00ff50"/><stop offset="0.2667" stop-color="#00ffa8"/><stop offset="0.6000" stop-color="#00ffa8"/><stop offset="0.7667" stop-color="#00ffff"/><stop offset="1.0000" stop-color="#00ffa8"/></linearGradient><linearGradient id="p5_g10" gradientUnits="userSpaceOnUse" x1="861.32" y1="0" x2="898.77" y2="0"><stop offset="0.0000" stop-color="#00ffa8"/><stop offset="0.2727" stop-color="#0088ff"/><stop offset="0.7273" stop-color="#00c8ff"/><stop offset="1.0000" stop-color="#00ffa8"/></linearGradient><linearGradient id="p5_g11" gradientUnits="userSpaceOnUse" x1="852.81" y1="0" x2="898.77" y2="0"><stop offset="0.0000" stop-color="#a0ff00"/><stop offset="0.1852" stop-color="#00ff50"/><stop offset="0.3333" stop-color="#a0ff00"/><stop offset="0.4815" stop-color="#ffff00"/><stop offset="0.6296" stop-color="#ff8c00"/><stop offset="0.7407" stop-color="#ffff00"/><stop offset="0.8889" stop-color="#a0ff00"/><stop offset="1.0000" stop-color="#00ff50"/></linearGradient><linearGradient id="p5_g12" gradientUnits="userSpaceOnUse" x1="895.37" y1="0" x2="932.83" y2="0"><stop offset="0.0000" stop-color="#00ffa8"/><stop offset="0.1818" stop-color="#0088ff"/><stop offset="0.5455" stop-color="#0088ff"/><stop offset="0.8182" stop-color="#00ffff"/><stop offset="1.0000" stop-color="#00ffa8"/></linearGradient><linearGradient id="p5_g13" gradientUnits="userSpaceOnUse" x1="931.12" y1="0" x2="960.06" y2="0"><stop offset="0.0000" stop-color="#00ffa8"/><stop offset="0.1765" stop-color="#a0ff00"/><stop offset="0.4118" stop-color="#00ff50"/><stop offset="0.6471" stop-color="#00ffa8"/><stop offset="1.0000" stop-color="#00ffa8"/></linearGradient><linearGradient id="p5_g14" gradientUnits="userSpaceOnUse" x1="931.12" y1="0" x2="958.36" y2="0"><stop offset="0.0000" stop-color="#ff8c00"/><stop offset="0.1250" stop-color="#ffff00"/><stop offset="0.3125" stop-color="#a0ff00"/><stop offset="0.5000" stop-color="#00ff50"/><stop offset="0.6875" stop-color="#a0ff00"/><stop offset="0.8375" stop-color="#ffff00"/><stop offset="1.0000" stop-color="#ff8c00"/></linearGradient><linearGradient id="p5_g15" gradientUnits="userSpaceOnUse" x1="946.44" y1="0" x2="1171.17" y2="0"><stop offset="0.0000" stop-color="#00ffa8"/><stop offset="0.2879" stop-color="#00ffa8"/><stop offset="0.3485" stop-color="#00ffff"/><stop offset="0.4091" stop-color="#00c8ff"/><stop offset="0.5303" stop-color="#00c8ff"/><stop offset="0.6061" stop-color="#00ffff"/><stop offset="0.8485" stop-color="#00ffff"/><stop offset="1.0000" stop-color="#00ffff"/></linearGradient><linearGradient id="p5_g16" gradientUnits="userSpaceOnUse" x1="946.44" y1="0" x2="1167.77" y2="0"><stop offset="0.0000" stop-color="#00ffa8"/><stop offset="0.2923" stop-color="#00ffa8"/><stop offset="0.3692" stop-color="#00ffff"/><stop offset="0.5231" stop-color="#00ffff"/><stop offset="0.6000" stop-color="#00ffa8"/><stop offset="0.7846" stop-color="#00ffa8"/><stop offset="0.9385" stop-color="#00ffff"/><stop offset="1.0000" stop-color="#00ffff"/></linearGradient><linearGradient id="p5_g17" gradientUnits="userSpaceOnUse" x1="956.66" y1="0" x2="1034.97" y2="0"><stop offset="0.0000" stop-color="#00ffa8"/><stop offset="0.7826" stop-color="#00ffa8"/><stop offset="1.0000" stop-color="#00ffff"/></linearGradient><linearGradient id="p5_g18" gradientUnits="userSpaceOnUse" x1="1034.97" y1="0" x2="1089.45" y2="0"><stop offset="0.0000" stop-color="#00ffff"/><stop offset="0.1875" stop-color="#0088ff"/><stop offset="0.4375" stop-color="#0050ff"/><stop offset="0.6875" stop-color="#0088ff"/><stop offset="1.0000" stop-color="#00ffff"/></linearGradient><linearGradient id="p5_g19" gradientUnits="userSpaceOnUse" x1="1089.45" y1="0" x2="1167.77" y2="0"><stop offset="0.0000" stop-color="#00ffff"/><stop offset="0.6087" stop-color="#00ffff"/><stop offset="1.0000" stop-color="#00ffa8"/></linearGradient><linearGradient id="p5_g20" gradientUnits="userSpaceOnUse" x1="1089.45" y1="0" x2="1147.34" y2="0"><stop offset="0.0000" stop-color="#00ffff"/><stop offset="0.2353" stop-color="#0088ff"/><stop offset="0.6471" stop-color="#0088ff"/><stop offset="1.0000" stop-color="#00c8ff"/></linearGradient><linearGradient id="p5_g21" gradientUnits="userSpaceOnUse" x1="745.55" y1="0" x2="766.66" y2="0"><stop offset="0.0000" stop-color="#ff0a00"/><stop offset="0.4839" stop-color="#ff4800"/><stop offset="1.0000" stop-color="#ff8c00"/></linearGradient><linearGradient id="p5_g22" gradientUnits="userSpaceOnUse" x1="766.66" y1="0" x2="791.52" y2="0"><stop offset="0.0000" stop-color="#ff8c00"/><stop offset="0.3151" stop-color="#ffc000"/><stop offset="0.6575" stop-color="#ff8c00"/><stop offset="1.0000" stop-color="#ff0a00"/></linearGradient><linearGradient id="p5_g23" gradientUnits="userSpaceOnUse" x1="825.57" y1="0" x2="852.81" y2="0"><stop offset="0.0000" stop-color="#ff0a00"/><stop offset="0.5625" stop-color="#ff8c00"/><stop offset="1.0000" stop-color="#ffff00"/></linearGradient><linearGradient id="p5_g24" gradientUnits="userSpaceOnUse" x1="956.66" y1="0" x2="963.47" y2="0"><stop offset="0.0000" stop-color="#ffff00"/><stop offset="0.5000" stop-color="#ff8c00"/><stop offset="1.0000" stop-color="#ff0a00"/></linearGradient><linearGradient id="p5_g25" gradientUnits="userSpaceOnUse" x1="978.79" y1="0" x2="994.12" y2="0"><stop offset="0.0000" stop-color="#ff0a00"/><stop offset="0.3333" stop-color="#ff8c00"/><stop offset="0.6667" stop-color="#ffff00"/><stop offset="1.0000" stop-color="#a0ff00"/></linearGradient><linearGradient id="p5_g26" gradientUnits="userSpaceOnUse" x1="994.12" y1="0" x2="1036.68" y2="0"><stop offset="0.0000" stop-color="#0088ff"/><stop offset="0.2400" stop-color="#0010f0"/><stop offset="0.5600" stop-color="#0088ff"/><stop offset="0.8000" stop-color="#00ffff"/><stop offset="1.0000" stop-color="#00ffff"/></linearGradient><linearGradient id="p5_g27" gradientUnits="userSpaceOnUse" x1="994.12" y1="0" x2="1034.97" y2="0"><stop offset="0.0000" stop-color="#ff8c00"/><stop offset="0.2500" stop-color="#ffff00"/><stop offset="0.5833" stop-color="#00ff50"/><stop offset="1.0000" stop-color="#00ffff"/></linearGradient><linearGradient id="p5_g28" gradientUnits="userSpaceOnUse" x1="1034.97" y1="0" x2="1067.32" y2="0"><stop offset="0.0000" stop-color="#00ffa8"/><stop offset="0.2105" stop-color="#00ff50"/><stop offset="0.4211" stop-color="#ffff00"/><stop offset="0.6316" stop-color="#ff8c00"/><stop offset="0.9474" stop-color="#ff4800"/><stop offset="1.0000" stop-color="#ff4800"/></linearGradient><linearGradient id="p5_g29" gradientUnits="userSpaceOnUse" x1="1065.62" y1="0" x2="1089.45" y2="0"><stop offset="0.0000" stop-color="#ff4800"/><stop offset="0.2857" stop-color="#ff8c00"/><stop offset="0.5714" stop-color="#ffff00"/><stop offset="0.8571" stop-color="#a0ff00"/><stop offset="1.0000" stop-color="#00ff50"/></linearGradient><linearGradient id="p5_g30" gradientUnits="userSpaceOnUse" x1="1140.53" y1="0" x2="1164.37" y2="0"><stop offset="0.0000" stop-color="#ffff00"/><stop offset="0.2857" stop-color="#ff8c00"/><stop offset="0.5714" stop-color="#ffff00"/><stop offset="1.0000" stop-color="#ff8c00"/></linearGradient><linearGradient id="p5_g31" gradientUnits="userSpaceOnUse" x1="1164.37" y1="0" x2="1232.47" y2="0"><stop offset="0.0000" stop-color="#00ffa8"/><stop offset="0.3500" stop-color="#00ffa8"/><stop offset="0.8500" stop-color="#00ffa8"/><stop offset="0.9250" stop-color="#ffff00"/><stop offset="1.0000" stop-color="#ff8c00"/></linearGradient><linearGradient id="p5_g32" gradientUnits="userSpaceOnUse" x1="1159.26" y1="0" x2="1232.47" y2="0"><stop offset="0.0000" stop-color="#ff0a00"/><stop offset="0.0698" stop-color="#ff8c00"/><stop offset="0.1395" stop-color="#ffff00"/><stop offset="0.2093" stop-color="#a0ff00"/><stop offset="0.3023" stop-color="#00ff50"/><stop offset="0.4884" stop-color="#00ffa8"/><stop offset="0.5814" stop-color="#00ffff"/><stop offset="0.6977" stop-color="#0088ff"/><stop offset="0.7674" stop-color="#0088ff"/><stop offset="0.8140" stop-color="#00ffff"/><stop offset="0.8605" stop-color="#00ff50"/><stop offset="0.8930" stop-color="#ffff00"/><stop offset="0.9302" stop-color="#ff8c00"/><stop offset="1.0000" stop-color="#ff0a00"/></linearGradient><linearGradient id="p5_g33" gradientUnits="userSpaceOnUse" x1="1222.25" y1="0" x2="1288.65" y2="0"><stop offset="0.0000" stop-color="#00ffa8"/><stop offset="0.1026" stop-color="#00c8ff"/><stop offset="1.0000" stop-color="#00c8ff"/></linearGradient><linearGradient id="p5_g34" gradientUnits="userSpaceOnUse" x1="1222.25" y1="0" x2="1288.65" y2="0"><stop offset="0.0000" stop-color="#00ffa8"/><stop offset="0.1026" stop-color="#0088ff"/><stop offset="1.0000" stop-color="#0088ff"/></linearGradient><linearGradient id="p5_g35" gradientUnits="userSpaceOnUse" x1="1230.76" y1="0" x2="1288.65" y2="0"><stop offset="0.0000" stop-color="#0088ff"/><stop offset="1.0000" stop-color="#0088ff"/></linearGradient><clipPath id="p5_clip"><polygon points="711.50,384.10 711.50,88.80 730.23,86.06 745.89,69.95 771.09,118.28 796.28,169.84 825.91,197.22 855.87,216.56 864.38,218.97 885.15,227.03 897.75,227.83 921.25,235.89 944.74,241.53 960.75,242.33 977.43,247.16 1002.63,250.39 1030.89,256.03 1066.64,256.83 1106.82,264.08 1138.15,263.27 1156.87,263.27 1171.17,262.63 1184.80,268.91 1207.95,272.94 1217.14,273.75 1229.06,272.14 1252.89,273.75 1275.37,271.33 1288.65,266.98 1288.65,384.10"/></clipPath></defs><g clip-path="url(#p5_clip)"><rect x="711.20" y="45.49" width="577.75" height="338.91" fill="#00ffa8"/><rect x="711.20" y="45.49" width="68.70" height="76.32" fill="#00ff50"/><rect x="711.20" y="96.24" width="14.90" height="159.28" fill="#a0ff00"/><rect x="725.50" y="96.24" width="20.35" height="159.28" fill="url(#p5_g1)"/><rect x="711.20" y="254.92" width="34.65" height="129.48" fill="url(#p5_g2)"/><rect x="745.25" y="121.21" width="60.19" height="103.70" fill="url(#p5_g3)"/><rect x="803.13" y="142.15" width="55.08" height="69.87" fill="url(#p5_g4)"/><rect x="774.19" y="221.09" width="39.76" height="10.27" fill="url(#p5_g5)"/><rect x="803.13" y="211.42" width="53.38" height="9.46" fill="url(#p5_g6)"/><rect x="825.27" y="220.28" width="29.54" height="7.85" fill="url(#p5_g7)"/><rect x="825.27" y="227.53" width="31.24" height="4.63" fill="url(#p5_g8)"/><rect x="854.21" y="206.59" width="102.75" height="47.00" fill="url(#p5_g9)"/><rect x="861.02" y="252.99" width="38.05" height="6.08" fill="url(#p5_g10)"/><rect x="852.51" y="258.46" width="46.57" height="18.00" fill="url(#p5_g11)"/><rect x="895.07" y="258.46" width="38.05" height="18.00" fill="url(#p5_g12)"/><rect x="930.82" y="252.99" width="29.54" height="39.59" fill="url(#p5_g13)"/><rect x="930.82" y="291.97" width="27.84" height="60.21" fill="url(#p5_g14)"/><rect x="946.14" y="230.75" width="225.33" height="34.75" fill="url(#p5_g15)"/><rect x="946.14" y="264.91" width="221.92" height="28.15" fill="url(#p5_g16)"/><rect x="956.36" y="292.46" width="78.91" height="8.98" fill="url(#p5_g17)"/><rect x="1034.67" y="292.46" width="55.08" height="8.17" fill="url(#p5_g18)"/><rect x="1089.15" y="292.46" width="78.91" height="9.78" fill="url(#p5_g19)"/><rect x="1089.15" y="301.64" width="58.48" height="10.27" fill="url(#p5_g20)"/><polygon points="745.55,194.00 766.66,194.00 766.66,224.61 825.57,224.61 825.57,219.78 846.00,219.78 846.00,231.86 852.81,231.86 852.81,272.94 863.02,272.94 863.02,271.33 891.96,271.33 891.96,274.55 931.12,274.55 931.12,351.88 956.66,351.88 956.66,295.50 978.79,295.50 978.79,313.86 1004.33,313.86 1004.33,319.66 1052.00,319.66 1052.00,298.72 1089.45,298.72 1089.45,313.86 1120.10,313.86 1120.10,309.99 1140.53,309.99 1140.53,328.68 1164.37,328.68 1164.37,384.10 745.55,384.10" fill="#ff0a00"/><polygon points="1230.76,384.10 1230.76,311.60 1273.32,308.38 1273.32,302.74 1288.65,302.74 1288.65,384.10" fill="#ff0a00"/><rect x="745.25" y="193.70" width="21.71" height="82.76" fill="url(#p5_g21)"/><rect x="766.36" y="224.31" width="25.46" height="52.15" fill="url(#p5_g22)"/><rect x="825.27" y="224.31" width="27.84" height="7.85" fill="url(#p5_g23)"/><rect x="956.36" y="295.19" width="7.41" height="56.99" fill="url(#p5_g24)"/><rect x="978.49" y="300.83" width="15.92" height="13.33" fill="url(#p5_g25)"/><rect x="993.82" y="300.83" width="43.16" height="13.33" fill="url(#p5_g26)"/><rect x="993.82" y="313.56" width="41.46" height="6.40" fill="url(#p5_g27)"/><rect x="1034.67" y="300.03" width="32.95" height="19.93" fill="url(#p5_g28)"/><rect x="1065.32" y="298.42" width="24.43" height="15.74" fill="url(#p5_g29)"/><rect x="1140.23" y="309.69" width="24.43" height="19.29" fill="url(#p5_g30)"/><rect x="1164.07" y="301.64" width="68.70" height="27.99" fill="url(#p5_g31)"/><rect x="1158.96" y="329.03" width="73.81" height="55.37" fill="url(#p5_g32)"/><rect x="1221.95" y="258.14" width="67.00" height="31.21" fill="url(#p5_g33)"/><rect x="1221.95" y="288.75" width="67.00" height="15.90" fill="url(#p5_g34)"/><rect x="1230.46" y="304.06" width="58.49" height="7.85" fill="url(#p5_g35)"/><polygon points="1230.76,384.10 1230.76,312.41 1269.92,309.99 1276.73,302.74 1288.65,302.74 1288.65,384.10" fill="#ff0a00"/></g><path d="M729.89,194.65 C732.84,194.38 742.14,192.47 747.59,193.04 C753.04,193.60 759.11,193.84 762.58,198.03 C766.04,202.22 766.38,213.47 768.36,218.17 C770.35,222.87 770.92,224.24 774.49,226.22 C778.07,228.21 783.86,229.69 789.81,230.09 C795.77,230.49 805.14,229.95 810.25,228.64 C815.35,227.32 817.06,223.54 820.46,222.19 C823.87,220.85 826.99,220.77 830.67,220.58 C834.36,220.40 839.47,219.32 842.59,221.07 C845.71,222.81 847.87,224.83 849.40,231.06 C850.93,237.28 850.65,251.73 851.79,258.44 C852.92,265.15 854.06,269.05 856.21,271.33 C858.37,273.61 862.17,272.94 864.73,272.14 C867.28,271.33 869.26,268.64 871.53,266.50 C873.80,264.35 876.08,259.78 878.35,259.25 C880.62,258.71 883.17,261.26 885.15,263.27 C887.14,265.29 887.99,269.67 890.26,271.33 C892.53,272.99 893.95,272.94 898.77,273.26 C903.60,273.59 914.38,272.78 919.20,273.26 C924.03,273.75 925.73,271.12 927.72,276.16 C929.70,281.21 930.27,292.00 931.12,303.55 C931.97,315.10 931.69,337.43 932.83,345.44 C933.96,353.44 935.10,350.54 937.93,351.56 C940.77,352.58 947.01,352.31 949.85,351.56 C952.69,350.81 953.82,355.05 954.96,347.05 C956.09,339.05 955.35,312.25 956.66,303.55 C957.97,294.85 960.24,296.19 962.79,294.85 C965.34,293.51 968.97,294.34 971.98,295.50 C974.99,296.65 977.83,299.71 980.84,301.78 C983.84,303.85 986.23,305.89 990.03,307.90 C993.83,309.91 998.83,311.95 1003.65,313.86 C1008.47,315.77 1013.41,318.18 1018.97,319.34 C1024.53,320.49 1032.25,320.92 1037.02,320.79 C1041.79,320.65 1045.02,320.95 1047.57,318.53 C1050.13,316.12 1050.52,309.59 1052.34,306.29 C1054.16,302.99 1056.09,300.17 1058.47,298.72 C1060.85,297.27 1061.76,297.72 1066.64,297.59 C1071.52,297.46 1083.38,297.19 1087.75,297.91 C1092.12,298.64 1090.87,299.79 1092.86,301.94 C1094.85,304.09 1097.40,308.97 1099.67,310.80 C1101.94,312.63 1103.76,312.38 1106.48,312.89 C1109.20,313.40 1112.16,314.18 1116.01,313.86 C1119.87,313.54 1125.55,311.50 1129.63,310.96 C1133.72,310.42 1137.75,309.32 1140.53,310.64 C1143.31,311.95 1144.05,316.38 1146.32,318.85 C1148.59,321.32 1151.03,323.82 1154.15,325.46 C1157.27,327.10 1163.23,328.14 1165.05,328.68" fill="none" stroke="#000" stroke-width="4.2" stroke-dasharray="4.2 3.2"/><path d="M1224.63,312.25 C1226.79,312.09 1232.86,311.55 1237.57,311.28 C1242.28,311.01 1247.67,310.91 1252.89,310.64 C1258.12,310.37 1264.76,311.07 1268.90,309.67 C1273.04,308.28 1274.74,303.42 1277.75,302.26 C1280.76,301.11 1285.41,302.66 1286.94,302.74" fill="none" stroke="#000" stroke-width="4.2" stroke-dasharray="4.2 3.2"/><polyline points="711.50,88.80 730.23,86.06 745.89,69.95 771.09,118.28 796.28,169.84 825.91,197.22 855.87,216.56 864.38,218.97 885.15,227.03 897.75,227.83 921.25,235.89 944.74,241.53 960.75,242.33 977.43,247.16 1002.63,250.39 1030.89,256.03 1066.64,256.83 1106.82,264.08 1138.15,263.27 1156.87,263.27 1171.17,262.63 1184.80,268.91 1207.95,272.94 1217.14,273.75 1229.06,272.14 1252.89,273.75 1275.37,271.33 1288.65,266.98" fill="none" stroke="#333" stroke-width="0.6"/><line x1="711.50" y1="57.07" x2="711.50" y2="384.90" stroke="#000" stroke-width="1.6"/><line x1="710.70" y1="384.10" x2="1288.65" y2="384.10" stroke="#000" stroke-width="1.6"/><line x1="707.00" y1="61.90" x2="711.50" y2="61.90" stroke="#000" stroke-width="1"/><text x="705.50" y="65.68" font-size="10.50" text-anchor="end" fill="#222" font-weight="normal" >130</text><line x1="707.00" y1="94.12" x2="711.50" y2="94.12" stroke="#000" stroke-width="1"/><text x="705.50" y="97.90" font-size="10.50" text-anchor="end" fill="#222" font-weight="normal" >110</text><line x1="707.00" y1="126.34" x2="711.50" y2="126.34" stroke="#000" stroke-width="1"/><text x="705.50" y="130.12" font-size="10.50" text-anchor="end" fill="#222" font-weight="normal" >90</text><line x1="707.00" y1="158.56" x2="711.50" y2="158.56" stroke="#000" stroke-width="1"/><text x="705.50" y="162.34" font-size="10.50" text-anchor="end" fill="#222" font-weight="normal" >70</text><line x1="707.00" y1="190.78" x2="711.50" y2="190.78" stroke="#000" stroke-width="1"/><text x="705.50" y="194.56" font-size="10.50" text-anchor="end" fill="#222" font-weight="normal" >50</text><line x1="707.00" y1="223.00" x2="711.50" y2="223.00" stroke="#000" stroke-width="1"/><text x="705.50" y="226.78" font-size="10.50" text-anchor="end" fill="#222" font-weight="normal" >30</text><line x1="707.00" y1="255.22" x2="711.50" y2="255.22" stroke="#000" stroke-width="1"/><text x="705.50" y="259.00" font-size="10.50" text-anchor="end" fill="#222" font-weight="normal" >10</text><line x1="707.00" y1="287.44" x2="711.50" y2="287.44" stroke="#000" stroke-width="1"/><text x="705.50" y="291.22" font-size="10.50" text-anchor="end" fill="#222" font-weight="normal" >-10</text><line x1="707.00" y1="319.66" x2="711.50" y2="319.66" stroke="#000" stroke-width="1"/><text x="705.50" y="323.44" font-size="10.50" text-anchor="end" fill="#222" font-weight="normal" >-30</text><line x1="707.00" y1="351.88" x2="711.50" y2="351.88" stroke="#000" stroke-width="1"/><text x="705.50" y="355.66" font-size="10.50" text-anchor="end" fill="#222" font-weight="normal" >-50</text><line x1="707.00" y1="384.10" x2="711.50" y2="384.10" stroke="#000" stroke-width="1"/><text x="705.50" y="387.88" font-size="10.50" text-anchor="end" fill="#222" font-weight="normal" >-70</text><line x1="711.50" y1="384.10" x2="711.50" y2="388.60" stroke="#000" stroke-width="1"/><text x="711.50" y="400.18" font-size="10.50" text-anchor="middle" fill="#222" font-weight="normal" >0</text><line x1="745.55" y1="384.10" x2="745.55" y2="388.60" stroke="#000" stroke-width="1"/><text x="745.55" y="400.18" font-size="10.50" text-anchor="middle" fill="#222" font-weight="normal" >1</text><line x1="779.60" y1="384.10" x2="779.60" y2="388.60" stroke="#000" stroke-width="1"/><text x="779.60" y="400.18" font-size="10.50" text-anchor="middle" fill="#222" font-weight="normal" >2</text><line x1="813.65" y1="384.10" x2="813.65" y2="388.60" stroke="#000" stroke-width="1"/><text x="813.65" y="400.18" font-size="10.50" text-anchor="middle" fill="#222" font-weight="normal" >3</text><line x1="847.70" y1="384.10" x2="847.70" y2="388.60" stroke="#000" stroke-width="1"/><text x="847.70" y="400.18" font-size="10.50" text-anchor="middle" fill="#222" font-weight="normal" >4</text><line x1="881.75" y1="384.10" x2="881.75" y2="388.60" stroke="#000" stroke-width="1"/><text x="881.75" y="400.18" font-size="10.50" text-anchor="middle" fill="#222" font-weight="normal" >5</text><line x1="915.80" y1="384.10" x2="915.80" y2="388.60" stroke="#000" stroke-width="1"/><text x="915.80" y="400.18" font-size="10.50" text-anchor="middle" fill="#222" font-weight="normal" >6</text><line x1="949.85" y1="384.10" x2="949.85" y2="388.60" stroke="#000" stroke-width="1"/><text x="949.85" y="400.18" font-size="10.50" text-anchor="middle" fill="#222" font-weight="normal" >7</text><line x1="983.90" y1="384.10" x2="983.90" y2="388.60" stroke="#000" stroke-width="1"/><text x="983.90" y="400.18" font-size="10.50" text-anchor="middle" fill="#222" font-weight="normal" >8</text><line x1="1017.95" y1="384.10" x2="1017.95" y2="388.60" stroke="#000" stroke-width="1"/><text x="1017.95" y="400.18" font-size="10.50" text-anchor="middle" fill="#222" font-weight="normal" >9</text><line x1="1052.00" y1="384.10" x2="1052.00" y2="388.60" stroke="#000" stroke-width="1"/><text x="1052.00" y="400.18" font-size="10.50" text-anchor="middle" fill="#222" font-weight="normal" >10</text><line x1="1086.05" y1="384.10" x2="1086.05" y2="388.60" stroke="#000" stroke-width="1"/><text x="1086.05" y="400.18" font-size="10.50" text-anchor="middle" fill="#222" font-weight="normal" >11</text><line x1="1120.10" y1="384.10" x2="1120.10" y2="388.60" stroke="#000" stroke-width="1"/><text x="1120.10" y="400.18" font-size="10.50" text-anchor="middle" fill="#222" font-weight="normal" >12</text><line x1="1154.15" y1="384.10" x2="1154.15" y2="388.60" stroke="#000" stroke-width="1"/><text x="1154.15" y="400.18" font-size="10.50" text-anchor="middle" fill="#222" font-weight="normal" >13</text><line x1="1188.20" y1="384.10" x2="1188.20" y2="388.60" stroke="#000" stroke-width="1"/><text x="1188.20" y="400.18" font-size="10.50" text-anchor="middle" fill="#222" font-weight="normal" >14</text><line x1="1222.25" y1="384.10" x2="1222.25" y2="388.60" stroke="#000" stroke-width="1"/><text x="1222.25" y="400.18" font-size="10.50" text-anchor="middle" fill="#222" font-weight="normal" >15</text><line x1="1256.30" y1="384.10" x2="1256.30" y2="388.60" stroke="#000" stroke-width="1"/><text x="1256.30" y="400.18" font-size="10.50" text-anchor="middle" fill="#222" font-weight="normal" >16</text><rect x="731.93" y="80.75" width="8.17" height="190.58" fill="none" stroke="#6a6a6a" stroke-width="1.4"/><rect x="731.43" y="80.25" width="9.17" height="6.00" fill="#000"/><rect x="771.77" y="128.76" width="8.17" height="158.68" fill="none" stroke="#6a6a6a" stroke-width="1.4"/><line x1="771.77" y1="136.93" x2="779.94" y2="136.93" stroke="#222" stroke-width="1.3"/><rect x="771.77" y="128.76" width="8.17" height="8.17" fill="none" stroke="#222" stroke-width="1.3"/><rect x="1167.77" y="262.63" width="8.17" height="121.47" fill="none" stroke="#6a6a6a" stroke-width="1.4"/><line x1="1167.77" y1="270.80" x2="1175.94" y2="270.80" stroke="#222" stroke-width="1.3"/><rect x="1167.77" y="262.63" width="8.17" height="8.17" fill="none" stroke="#222" stroke-width="1.3"/><rect x="1234.17" y="269.24" width="8.17" height="63.31" fill="none" stroke="#6a6a6a" stroke-width="1.4"/><line x1="1234.17" y1="277.41" x2="1242.34" y2="277.41" stroke="#222" stroke-width="1.3"/><rect x="1234.17" y="269.24" width="8.17" height="8.17" fill="none" stroke="#222" stroke-width="1.3"/><rect x="1275.03" y="268.11" width="8.17" height="64.44" fill="none" stroke="#6a6a6a" stroke-width="1.4"/><line x1="1275.03" y1="276.28" x2="1283.20" y2="276.28" stroke="#222" stroke-width="1.3"/><rect x="1275.03" y="268.11" width="8.17" height="8.17" fill="none" stroke="#222" stroke-width="1.3"/><polygon points="715.12,84.26 727.62,84.26 721.37,94.76" fill="#000"/><text transform="translate(723.37 80.76) scale(1 1.000) rotate(-75.0)" font-size="16.00" font-weight="normal" fill="#000" text-anchor="start">066B</text><polygon points="739.64,60.74 752.14,60.74 745.89,71.24" fill="#000"/><text transform="translate(747.89 57.24) scale(1 1.000) rotate(-75.0)" font-size="16.00" font-weight="normal" fill="#000" text-anchor="start">067B</text><polygon points="764.84,108.91 777.34,108.91 771.09,119.41" fill="#000"/><text transform="translate(773.09 105.41) scale(1 1.000) rotate(-75.0)" font-size="16.00" font-weight="normal" fill="#000" text-anchor="start">068B</text><polygon points="790.03,160.63 802.53,160.63 796.28,171.13" fill="#000"/><text transform="translate(798.28 157.13) scale(1 1.000) rotate(-75.0)" font-size="16.00" font-weight="normal" fill="#000" text-anchor="start">069B</text><polygon points="819.66,188.17 832.16,188.17 825.91,198.67" fill="#000"/><text transform="translate(827.91 184.67) scale(1 1.000) rotate(-75.0)" font-size="16.00" font-weight="normal" fill="#000" text-anchor="start">070B</text><polygon points="849.62,208.15 862.12,208.15 855.87,218.65" fill="#000"/><text transform="translate(857.87 204.65) scale(1 1.000) rotate(-75.0)" font-size="16.00" font-weight="normal" fill="#000" text-anchor="start">071B</text><polygon points="858.13,210.24 870.63,210.24 864.38,220.74" fill="#000"/><text transform="translate(866.38 206.74) scale(1 1.000) rotate(-75.0)" font-size="16.00" font-weight="normal" fill="#000" text-anchor="start">A045B</text><polygon points="878.90,218.46 891.40,218.46 885.15,228.96" fill="#000"/><text transform="translate(887.15 214.96) scale(1 1.000) rotate(-75.0)" font-size="16.00" font-weight="normal" fill="#000" text-anchor="start">072B</text><polygon points="891.50,218.46 904.00,218.46 897.75,228.96" fill="#000"/><text transform="translate(899.75 214.96) scale(1 1.000) rotate(-75.0)" font-size="16.00" font-weight="normal" fill="#000" text-anchor="start">073B</text><polygon points="915.00,227.00 927.50,227.00 921.25,237.50" fill="#000"/><text transform="translate(923.25 223.50) scale(1 1.000) rotate(-75.0)" font-size="16.00" font-weight="normal" fill="#000" text-anchor="start">A058B</text><polygon points="938.49,232.15 950.99,232.15 944.74,242.65" fill="#000"/><text transform="translate(946.74 228.65) scale(1 1.000) rotate(-75.0)" font-size="16.00" font-weight="normal" fill="#000" text-anchor="start">074C</text><polygon points="954.50,233.44 967.00,233.44 960.75,243.94" fill="#000"/><text transform="translate(962.75 229.94) scale(1 1.000) rotate(-75.0)" font-size="16.00" font-weight="normal" fill="#000" text-anchor="start">117B</text><polygon points="971.18,238.76 983.68,238.76 977.43,249.26" fill="#000"/><text transform="translate(979.43 235.26) scale(1 1.000) rotate(-75.0)" font-size="16.00" font-weight="normal" fill="#000" text-anchor="start">075B</text><polygon points="996.38,241.01 1008.88,241.01 1002.63,251.51" fill="#000"/><text transform="translate(1004.63 237.51) scale(1 1.000) rotate(-75.0)" font-size="16.00" font-weight="normal" fill="#000" text-anchor="start">076B</text><polygon points="1024.64,247.14 1037.14,247.14 1030.89,257.64" fill="#000"/><text transform="translate(1032.89 243.64) scale(1 1.000) rotate(-75.0)" font-size="16.00" font-weight="normal" fill="#000" text-anchor="start">077B</text><polygon points="1060.39,248.59 1072.89,248.59 1066.64,259.09" fill="#000"/><text transform="translate(1068.64 245.09) scale(1 1.000) rotate(-75.0)" font-size="16.00" font-weight="normal" fill="#000" text-anchor="start">078B</text><polygon points="1100.57,255.51 1113.07,255.51 1106.82,266.01" fill="#000"/><text transform="translate(1108.82 252.01) scale(1 1.000) rotate(-75.0)" font-size="16.00" font-weight="normal" fill="#000" text-anchor="start">079B</text><polygon points="1131.90,255.35 1144.40,255.35 1138.15,265.85" fill="#000"/><text transform="translate(1143.65 253.85) scale(1 1.100) rotate(-90.0)" font-size="16.00" font-weight="normal" fill="#000" text-anchor="start">080B</text><polygon points="1150.62,255.35 1163.12,255.35 1156.87,265.85" fill="#000"/><text transform="translate(1162.37 253.85) scale(1 1.100) rotate(-90.0)" font-size="16.00" font-weight="normal" fill="#000" text-anchor="start">081B</text><polygon points="1178.55,259.86 1191.05,259.86 1184.80,270.36" fill="#000"/><text transform="translate(1190.30 258.36) scale(1 1.100) rotate(-90.0)" font-size="16.00" font-weight="normal" fill="#000" text-anchor="start">082B</text><polygon points="1201.70,264.21 1214.20,264.21 1207.95,274.71" fill="#000"/><text transform="translate(1213.45 262.71) scale(1 1.100) rotate(-90.0)" font-size="16.00" font-weight="normal" fill="#000" text-anchor="start">A027D</text><polygon points="1210.89,265.34 1223.39,265.34 1217.14,275.84" fill="#000"/><text transform="translate(1222.64 263.84) scale(1 1.100) rotate(-90.0)" font-size="16.00" font-weight="normal" fill="#000" text-anchor="start">143C</text><polygon points="1222.81,263.25 1235.31,263.25 1229.06,273.75" fill="#000"/><text transform="translate(1234.56 261.75) scale(1 1.100) rotate(-90.0)" font-size="16.00" font-weight="normal" fill="#000" text-anchor="start">088B</text><polygon points="1246.64,265.34 1259.14,265.34 1252.89,275.84" fill="#000"/><text transform="translate(1258.39 263.84) scale(1 1.100) rotate(-90.0)" font-size="16.00" font-weight="normal" fill="#000" text-anchor="start">084B</text><polygon points="1269.12,263.25 1281.62,263.25 1275.37,273.75" fill="#000"/><text transform="translate(1280.87 261.75) scale(1 1.100) rotate(-90.0)" font-size="16.00" font-weight="normal" fill="#000" text-anchor="start">085C</text><text transform="translate(737.52 77.75) scale(1 1.000) rotate(-75.0)" font-size="16.00" font-weight="normal" fill="#4a4ad8" text-anchor="start">L120</text><text transform="translate(779.40 125.76) scale(1 1.000) rotate(-75.0)" font-size="16.00" font-weight="normal" fill="#4a4ad8" text-anchor="start">Sc101</text><text transform="translate(1177.88 260.63) scale(1 1.100) rotate(-90.0)" font-size="16.00" font-weight="normal" fill="#4a4ad8" text-anchor="start">Sc145</text><text transform="translate(1244.28 267.24) scale(1 1.100) rotate(-90.0)" font-size="16.00" font-weight="normal" fill="#4a4ad8" text-anchor="start">Sc40</text><text transform="translate(1293.65 266.11) scale(1 1.100) rotate(-90.0)" font-size="16.00" font-weight="normal" fill="#4a4ad8" text-anchor="start">Sc40</text><text transform="translate(692.40 39.80) scale(0.8810 1)" font-size="17.97" font-weight="normal" fill="#000">N</text><text transform="translate(809.60 80.70) scale(0.9876 1)" font-size="32.32" font-weight="bold" fill="#000">P5</text><text transform="translate(1267.70 99.40) scale(0.9569 1)" font-size="17.29" font-weight="normal" fill="#000">S</text><text transform="translate(1245.60 121.90) scale(1.0566 1)" font-size="12.83" font-weight="normal" fill="#000">V/H: 47</text><text opacity="0.45" transform="translate(1195.70 146.00) scale(1.0118 1)" font-size="16.00" font-weight="bold" font-style="italic" fill="#000">Known high</text><text stroke="#4262b4" stroke-width="0.5" transform="translate(1194.90 145.20) scale(1.0118 1)" font-size="16.00" font-weight="bold" font-style="italic" fill="#4262b4">Known high</text><text opacity="0.45" transform="translate(1180.38 166.80) scale(1.0899 1)" font-size="15.03" font-weight="bold" font-style="italic" fill="#000">gravity anomaly</text><text stroke="#4262b4" stroke-width="0.5" transform="translate(1179.58 166.00) scale(1.0899 1)" font-size="15.03" font-weight="bold" font-style="italic" fill="#4262b4">gravity anomaly</text><path d="M1223.6,175.5 V193.1 M1223.6,184.3 H1286.4 M1286.4,175.5 V193.1" stroke="#333" stroke-width="2.6" fill="none"/>
<defs><linearGradient id="p2_g1" gradientUnits="userSpaceOnUse" x1="52.50" y1="0" x2="194.39" y2="0"><stop offset="0.0000" stop-color="#00ff50"/><stop offset="1.0000" stop-color="#00ff50"/></linearGradient><linearGradient id="p2_g2" gradientUnits="userSpaceOnUse" x1="52.50" y1="0" x2="194.39" y2="0"><stop offset="0.0000" stop-color="#50ff00"/><stop offset="1.0000" stop-color="#a0ff00"/></linearGradient><linearGradient id="p2_g3" gradientUnits="userSpaceOnUse" x1="280.33" y1="0" x2="384.25" y2="0"><stop offset="0.0000" stop-color="#00ffff"/><stop offset="0.3077" stop-color="#00ffa8"/><stop offset="0.5000" stop-color="#00ffff"/><stop offset="0.6154" stop-color="#00c8ff"/><stop offset="0.7308" stop-color="#00ffff"/><stop offset="1.0000" stop-color="#00ffff"/></linearGradient><linearGradient id="p2_g4" gradientUnits="userSpaceOnUse" x1="328.29" y1="0" x2="368.26" y2="0"><stop offset="0.0000" stop-color="#00ffff"/><stop offset="0.4000" stop-color="#00c8ff"/><stop offset="0.8000" stop-color="#00c8ff"/><stop offset="1.0000" stop-color="#00ffff"/></linearGradient><linearGradient id="p2_g5" gradientUnits="userSpaceOnUse" x1="384.25" y1="0" x2="468.19" y2="0"><stop offset="0.0000" stop-color="#00ffa8"/><stop offset="0.7143" stop-color="#00ffa8"/><stop offset="1.0000" stop-color="#00ff50"/></linearGradient><linearGradient id="p2_g6" gradientUnits="userSpaceOnUse" x1="452.20" y1="0" x2="504.16" y2="0"><stop offset="0.0000" stop-color="#00ffa8"/><stop offset="0.2308" stop-color="#00ff50"/><stop offset="1.0000" stop-color="#00ff50"/></linearGradient><linearGradient id="p2_g7" gradientUnits="userSpaceOnUse" x1="192.39" y1="0" x2="216.38" y2="0"><stop offset="0.0000" stop-color="#00ff50"/><stop offset="0.8333" stop-color="#00ff50"/><stop offset="1.0000" stop-color="#a0ff00"/></linearGradient><linearGradient id="p2_g8" gradientUnits="userSpaceOnUse" x1="212.38" y1="0" x2="276.33" y2="0"><stop offset="0.0000" stop-color="#00ffff"/><stop offset="0.3125" stop-color="#0088ff"/><stop offset="0.6250" stop-color="#0050ff"/><stop offset="0.8125" stop-color="#0088ff"/><stop offset="1.0000" stop-color="#00ffff"/></linearGradient><linearGradient id="p2_g9" gradientUnits="userSpaceOnUse" x1="212.38" y1="0" x2="252.35" y2="0"><stop offset="0.0000" stop-color="#a0ff00"/><stop offset="0.2000" stop-color="#ffff00"/><stop offset="0.4500" stop-color="#ff8c00"/><stop offset="0.7000" stop-color="#ff4800"/><stop offset="0.8500" stop-color="#ff8c00"/><stop offset="1.0000" stop-color="#ffff00"/></linearGradient><linearGradient id="p2_g10" gradientUnits="userSpaceOnUse" x1="252.35" y1="0" x2="280.33" y2="0"><stop offset="0.0000" stop-color="#ffff00"/><stop offset="0.4286" stop-color="#ffff00"/><stop offset="1.0000" stop-color="#a0ff00"/></linearGradient><linearGradient id="p2_g11" gradientUnits="userSpaceOnUse" x1="276.33" y1="0" x2="304.31" y2="0"><stop offset="0.0000" stop-color="#0088ff"/><stop offset="0.4286" stop-color="#0050ff"/><stop offset="1.0000" stop-color="#0088ff"/></linearGradient><linearGradient id="p2_g12" gradientUnits="userSpaceOnUse" x1="280.33" y1="0" x2="316.30" y2="0"><stop offset="0.0000" stop-color="#00ffff"/><stop offset="1.0000" stop-color="#00ffff"/></linearGradient><linearGradient id="p2_g13" gradientUnits="userSpaceOnUse" x1="52.50" y1="0" x2="74.48" y2="0"><stop offset="0.0000" stop-color="#00ffff"/><stop offset="0.7273" stop-color="#00ffff"/><stop offset="1.0000" stop-color="#a0ff00"/></linearGradient><linearGradient id="p2_g14" gradientUnits="userSpaceOnUse" x1="80.48" y1="0" x2="130.44" y2="0"><stop offset="0.0000" stop-color="#a0ff00"/><stop offset="0.0800" stop-color="#00ff50"/><stop offset="0.4000" stop-color="#00ffa8"/><stop offset="0.7200" stop-color="#00ffa8"/><stop offset="1.0000" stop-color="#00ff50"/></linearGradient><linearGradient id="p2_g15" gradientUnits="userSpaceOnUse" x1="114.45" y1="0" x2="162.42" y2="0"><stop offset="0.0000" stop-color="#a0ff00"/><stop offset="0.1250" stop-color="#ffff00"/><stop offset="0.3750" stop-color="#ff8c00"/><stop offset="0.6250" stop-color="#ff8c00"/><stop offset="0.8750" stop-color="#ffff00"/><stop offset="1.0000" stop-color="#a0ff00"/></linearGradient><linearGradient id="p2_g16" gradientUnits="userSpaceOnUse" x1="160.42" y1="0" x2="210.38" y2="0"><stop offset="0.0000" stop-color="#ff8c00"/><stop offset="0.2400" stop-color="#ff4800"/><stop offset="0.5600" stop-color="#ff8c00"/><stop offset="0.8800" stop-color="#ffff00"/><stop offset="1.0000" stop-color="#a0ff00"/></linearGradient><linearGradient id="p2_g17" gradientUnits="userSpaceOnUse" x1="160.42" y1="0" x2="248.35" y2="0"><stop offset="0.0000" stop-color="#ffff00"/><stop offset="0.1364" stop-color="#00ff50"/><stop offset="0.3182" stop-color="#00ffff"/><stop offset="0.5000" stop-color="#0050ff"/><stop offset="0.6364" stop-color="#00ffff"/><stop offset="0.7727" stop-color="#a0ff00"/><stop offset="0.9091" stop-color="#ffff00"/><stop offset="1.0000" stop-color="#a0ff00"/></linearGradient><linearGradient id="p2_g18" gradientUnits="userSpaceOnUse" x1="68.49" y1="0" x2="110.86" y2="0"><stop offset="0.0000" stop-color="#ffff00"/><stop offset="0.1887" stop-color="#ffff00"/><stop offset="0.3774" stop-color="#ff8c00"/><stop offset="0.5660" stop-color="#ff8c00"/><stop offset="0.7547" stop-color="#ff8c00"/><stop offset="1.0000" stop-color="#ffff00"/></linearGradient><linearGradient id="p2_g19" gradientUnits="userSpaceOnUse" x1="160.42" y1="0" x2="176.41" y2="0"><stop offset="0.0000" stop-color="#ff0a00"/><stop offset="1.0000" stop-color="#ff0a00"/></linearGradient><linearGradient id="p2_g20" gradientUnits="userSpaceOnUse" x1="230.37" y1="0" x2="252.35" y2="0"><stop offset="0.0000" stop-color="#ff4800"/><stop offset="0.4545" stop-color="#ff0a00"/><stop offset="0.8182" stop-color="#ff8c00"/><stop offset="1.0000" stop-color="#ffff00"/></linearGradient><linearGradient id="p2_g21" gradientUnits="userSpaceOnUse" x1="288.32" y1="0" x2="306.31" y2="0"><stop offset="0.0000" stop-color="#ff0a00"/><stop offset="0.3333" stop-color="#ff8c00"/><stop offset="0.5556" stop-color="#ffff00"/><stop offset="0.7778" stop-color="#a0ff00"/><stop offset="1.0000" stop-color="#00ff50"/></linearGradient><linearGradient id="p2_g22" gradientUnits="userSpaceOnUse" x1="306.31" y1="0" x2="332.29" y2="0"><stop offset="0.0000" stop-color="#00ff50"/><stop offset="0.1538" stop-color="#a0ff00"/><stop offset="0.3846" stop-color="#ffff00"/><stop offset="0.6154" stop-color="#ff8c00"/><stop offset="1.0000" stop-color="#ff0a00"/></linearGradient><linearGradient id="p2_g23" gradientUnits="userSpaceOnUse" x1="372.26" y1="0" x2="386.25" y2="0"><stop offset="0.0000" stop-color="#ffff00"/><stop offset="0.4286" stop-color="#ff8c00"/><stop offset="1.0000" stop-color="#ff0a00"/></linearGradient><linearGradient id="p2_g24" gradientUnits="userSpaceOnUse" x1="436.21" y1="0" x2="468.19" y2="0"><stop offset="0.0000" stop-color="#ff0a00"/><stop offset="0.2500" stop-color="#ff8c00"/><stop offset="0.5000" stop-color="#ffff00"/><stop offset="0.7500" stop-color="#a0ff00"/><stop offset="1.0000" stop-color="#00ff50"/></linearGradient><linearGradient id="p2_g25" gradientUnits="userSpaceOnUse" x1="464.19" y1="0" x2="544.13" y2="0"><stop offset="0.0000" stop-color="#ffff00"/><stop offset="0.0750" stop-color="#a0ff00"/><stop offset="0.2000" stop-color="#00ff50"/><stop offset="0.3000" stop-color="#00ffff"/><stop offset="0.4250" stop-color="#0088ff"/><stop offset="0.5000" stop-color="#0050ff"/><stop offset="0.6000" stop-color="#0088ff"/><stop offset="0.7000" stop-color="#00ffff"/><stop offset="0.8500" stop-color="#00ff50"/><stop offset="1.0000" stop-color="#a0ff00"/></linearGradient><linearGradient id="p2_g26" gradientUnits="userSpaceOnUse" x1="468.19" y1="0" x2="480.18" y2="0"><stop offset="0.0000" stop-color="#ff0a00"/><stop offset="0.3333" stop-color="#ff8c00"/><stop offset="0.6667" stop-color="#ffff00"/><stop offset="1.0000" stop-color="#a0ff00"/></linearGradient><linearGradient id="p2_g27" gradientUnits="userSpaceOnUse" x1="504.16" y1="0" x2="544.13" y2="0"><stop offset="0.0000" stop-color="#a0ff00"/><stop offset="0.2000" stop-color="#a0ff00"/><stop offset="0.4500" stop-color="#ffff00"/><stop offset="0.7000" stop-color="#ff8c00"/><stop offset="1.0000" stop-color="#ff4800"/></linearGradient><linearGradient id="p2_g28" gradientUnits="userSpaceOnUse" x1="544.13" y1="0" x2="576.11" y2="0"><stop offset="0.0000" stop-color="#ff4800"/><stop offset="0.3750" stop-color="#ff8c00"/><stop offset="0.7500" stop-color="#ff4800"/><stop offset="1.0000" stop-color="#ff0a00"/></linearGradient><linearGradient id="p2_g29" gradientUnits="userSpaceOnUse" x1="532.14" y1="0" x2="580.10" y2="0"><stop offset="0.0000" stop-color="#00ff50"/><stop offset="0.2500" stop-color="#a0ff00"/><stop offset="0.4167" stop-color="#ffff00"/><stop offset="0.6250" stop-color="#ff8c00"/><stop offset="0.8333" stop-color="#ff4800"/><stop offset="1.0000" stop-color="#ff0a00"/></linearGradient><linearGradient id="p2_g30" gradientUnits="userSpaceOnUse" x1="576.11" y1="0" x2="616.08" y2="0"><stop offset="0.0000" stop-color="#ff0a00"/><stop offset="0.5000" stop-color="#ff4800"/><stop offset="0.7500" stop-color="#ff8c00"/><stop offset="1.0000" stop-color="#ffff00"/></linearGradient><linearGradient id="p2_g31" gradientUnits="userSpaceOnUse" x1="556.12" y1="0" x2="644.06" y2="0"><stop offset="0.0000" stop-color="#00ffa8"/><stop offset="0.5455" stop-color="#00ffa8"/><stop offset="0.6364" stop-color="#a0ff00"/><stop offset="0.7727" stop-color="#d0ff00"/><stop offset="1.0000" stop-color="#d0ff00"/></linearGradient><linearGradient id="p2_g32" gradientUnits="userSpaceOnUse" x1="608.08" y1="0" x2="644.06" y2="0"><stop offset="0.0000" stop-color="#ffff00"/><stop offset="0.3333" stop-color="#ffff00"/><stop offset="0.5556" stop-color="#00ffa8"/><stop offset="0.7778" stop-color="#00ffff"/><stop offset="1.0000" stop-color="#00ffff"/></linearGradient><clipPath id="p2_clip"><polygon points="52.50,790.50 52.50,542.67 68.49,546.30 112.45,559.50 157.62,570.23 172.41,572.70 208.38,582.60 248.35,590.02 279.93,593.33 310.71,598.27 329.89,603.23 343.88,605.70 367.46,609.83 383.85,609.83 407.43,604.88 436.61,604.05 462.59,590.02 504.96,580.12 546.93,561.15 568.11,546.30 585.30,513.30 628.07,463.80 644.06,460.17 644.06,790.50"/></clipPath></defs><g clip-path="url(#p2_clip)"><rect x="52.20" y="443.70" width="592.16" height="347.10" fill="#00ffa8"/><rect x="52.20" y="443.70" width="142.49" height="272.85" fill="#a0ff00"/><rect x="52.20" y="443.70" width="142.49" height="107.85" fill="url(#p2_g1)"/><rect x="52.20" y="550.95" width="142.49" height="5.55" fill="url(#p2_g2)"/><rect x="192.09" y="443.70" width="88.53" height="182.10" fill="#00ff50"/><rect x="280.03" y="443.70" width="104.52" height="272.85" fill="#00ffff"/><rect x="280.03" y="631.80" width="104.52" height="84.75" fill="url(#p2_g3)"/><rect x="327.99" y="607.05" width="40.57" height="10.50" fill="url(#p2_g4)"/><rect x="383.95" y="443.70" width="84.54" height="188.70" fill="#00ffa8"/><rect x="383.95" y="631.80" width="84.54" height="30.30" fill="url(#p2_g5)"/><rect x="451.90" y="443.70" width="52.56" height="243.15" fill="url(#p2_g6)"/><rect x="192.09" y="625.20" width="24.58" height="83.10" fill="url(#p2_g7)"/><rect x="212.08" y="625.20" width="64.55" height="11.32" fill="url(#p2_g8)"/><rect x="212.08" y="635.93" width="40.57" height="72.37" fill="url(#p2_g9)"/><rect x="252.05" y="635.93" width="28.58" height="14.62" fill="url(#p2_g10)"/><rect x="276.03" y="649.12" width="28.58" height="20.56" fill="url(#p2_g11)"/><rect x="280.03" y="636.75" width="36.57" height="12.97" fill="url(#p2_g12)"/><rect x="52.20" y="720.08" width="22.58" height="9.67" fill="url(#p2_g13)"/><rect x="80.18" y="691.20" width="50.56" height="12.97" fill="url(#p2_g14)"/><rect x="114.15" y="674.70" width="48.56" height="20.40" fill="url(#p2_g15)"/><rect x="160.12" y="674.70" width="50.56" height="13.80" fill="url(#p2_g16)"/><rect x="160.12" y="707.70" width="88.53" height="8.85" fill="url(#p2_g17)"/><polygon points="52.50,731.10 110.86,731.10 110.86,708.00 114.45,708.00 114.45,694.80 160.42,694.80 160.42,675.00 176.41,675.00 176.41,716.25 230.37,716.25 230.37,636.23 252.35,636.23 252.35,669.39 304.31,669.39 304.31,708.00 332.29,708.00 332.29,721.20 372.26,721.20 372.26,661.80 436.21,661.80 436.21,737.70 468.19,737.70 468.19,790.50 52.50,790.50" fill="#ff0a00"/><rect x="68.19" y="707.70" width="42.97" height="23.70" fill="url(#p2_g18)"/><rect x="160.12" y="694.50" width="16.59" height="22.05" fill="url(#p2_g19)"/><rect x="230.07" y="635.93" width="22.58" height="34.42" fill="url(#p2_g20)"/><rect x="288.02" y="669.75" width="18.59" height="121.05" fill="url(#p2_g21)"/><rect x="306.01" y="707.70" width="26.58" height="83.10" fill="url(#p2_g22)"/><rect x="371.96" y="661.50" width="14.59" height="60.00" fill="url(#p2_g23)"/><rect x="435.91" y="661.50" width="32.58" height="76.50" fill="url(#p2_g24)"/><rect x="463.89" y="686.25" width="80.54" height="104.55" fill="url(#p2_g25)"/><rect x="467.89" y="737.40" width="12.59" height="53.40" fill="url(#p2_g26)"/><rect x="503.86" y="575.70" width="40.57" height="81.45" fill="url(#p2_g27)"/><rect x="543.83" y="559.20" width="32.58" height="97.95" fill="url(#p2_g28)"/><rect x="531.84" y="656.55" width="48.56" height="134.25" fill="url(#p2_g29)"/><polygon points="576.11,790.50 576.11,556.20 608.08,556.20 608.08,576.00 644.06,576.00 644.06,790.50" fill="#ff0a00"/><rect x="575.81" y="555.90" width="40.57" height="20.40" fill="url(#p2_g30)"/><rect x="555.82" y="443.70" width="88.53" height="112.80" fill="url(#p2_g31)"/><rect x="607.78" y="574.05" width="36.57" height="7.20" fill="url(#p2_g32)"/></g><path d="M52.50,729.28 C56.16,729.67 69.15,731.60 74.48,731.60 C79.81,731.60 81.81,731.84 84.48,729.28 C87.14,726.73 89.14,720.04 90.47,716.25 C91.80,712.46 89.41,709.29 92.47,706.51 C95.53,703.74 102.33,701.48 108.86,699.59 C115.39,697.69 126.38,698.35 131.64,695.13 C136.90,691.91 135.97,683.69 140.43,680.28 C144.90,676.87 153.29,675.22 158.42,674.67 C163.55,674.12 168.15,675.08 171.21,676.98 C174.28,678.88 174.34,681.13 176.81,686.05 C179.27,690.98 182.94,702.14 186.00,706.51 C189.06,710.89 189.80,711.13 195.19,712.29 C200.59,713.44 212.98,715.15 218.38,713.44 C223.77,711.74 225.70,710.03 227.57,702.06 C229.43,694.08 228.83,675.85 229.57,665.60 C230.30,655.34 230.43,645.44 231.97,640.51 C233.50,635.59 235.36,636.80 238.76,636.06 C242.16,635.32 248.95,634.93 252.35,636.06 C255.75,637.19 257.01,639.42 259.14,642.83 C261.28,646.24 263.21,652.73 265.14,656.52 C267.07,660.31 267.94,663.64 270.74,665.60 C273.53,667.55 277.80,667.47 281.93,668.24 C286.06,669.00 293.25,669.88 295.52,670.21" fill="none" stroke="#000" stroke-width="4.2" stroke-dasharray="4.2 3.2"/><path d="M318.30,707.67 C321.10,708.69 329.43,711.79 335.09,713.77 C340.75,715.75 347.68,718.09 352.27,719.55 C356.87,721.01 359.00,722.66 362.67,722.52 C366.33,722.38 371.33,724.11 374.26,718.72 C377.19,713.33 378.39,698.29 380.25,690.18 C382.12,682.07 383.45,674.64 385.45,670.05 C387.45,665.46 389.31,664.27 392.25,662.62 C395.18,660.98 398.71,660.56 403.04,660.15 C407.37,659.74 412.83,659.32 418.23,660.15 C423.62,660.98 431.08,662.19 435.41,665.10 C439.74,668.01 442.07,669.25 444.21,677.64 C446.34,686.03 446.74,706.21 448.20,715.42 C449.67,724.64 449.27,728.54 453.00,732.91 C456.73,737.29 467.66,740.20 470.59,741.66" fill="none" stroke="#000" stroke-width="4.2" stroke-dasharray="4.2 3.2"/><path d="M520.55,584.41 C521.81,583.48 525.21,581.53 528.14,578.80 C531.07,576.08 533.14,570.72 538.14,568.08 C543.13,565.44 552.66,565.08 558.12,562.97 C563.58,560.85 566.71,557.27 570.91,555.38 C575.11,553.48 577.91,551.99 583.30,551.58 C588.70,551.17 598.69,551.58 603.29,552.90 C607.88,554.22 608.35,555.92 610.88,559.50 C613.41,563.08 615.08,570.83 618.48,574.35 C621.87,577.87 627.00,579.13 631.27,580.62 C635.53,582.11 641.92,582.82 644.06,583.26" fill="none" stroke="#000" stroke-width="4.2" stroke-dasharray="4.2 3.2"/><polyline points="52.50,542.67 68.49,546.30 112.45,559.50 157.62,570.23 172.41,572.70 208.38,582.60 248.35,590.02 279.93,593.33 310.71,598.27 329.89,603.23 343.88,605.70 367.46,609.83 383.85,609.83 407.43,604.88 436.61,604.05 462.59,590.02 504.96,580.12 546.93,561.15 568.11,546.30 585.30,513.30 628.07,463.80 644.06,460.17" fill="none" stroke="#333" stroke-width="0.6"/><line x1="52.50" y1="457.20" x2="52.50" y2="791.30" stroke="#000" stroke-width="1.6"/><line x1="51.70" y1="790.50" x2="644.06" y2="790.50" stroke="#000" stroke-width="1.6"/><line x1="644.06" y1="460.17" x2="644.06" y2="790.50" stroke="#000" stroke-width="1.6"/><line x1="48.00" y1="460.50" x2="52.50" y2="460.50" stroke="#000" stroke-width="1"/><text x="46.50" y="464.28" font-size="10.50" text-anchor="end" fill="#222" font-weight="normal" >110</text><line x1="48.00" y1="493.50" x2="52.50" y2="493.50" stroke="#000" stroke-width="1"/><text x="46.50" y="497.28" font-size="10.50" text-anchor="end" fill="#222" font-weight="normal" >90</text><line x1="48.00" y1="526.50" x2="52.50" y2="526.50" stroke="#000" stroke-width="1"/><text x="46.50" y="530.28" font-size="10.50" text-anchor="end" fill="#222" font-weight="normal" >70</text><line x1="48.00" y1="559.50" x2="52.50" y2="559.50" stroke="#000" stroke-width="1"/><text x="46.50" y="563.28" font-size="10.50" text-anchor="end" fill="#222" font-weight="normal" >50</text><line x1="48.00" y1="592.50" x2="52.50" y2="592.50" stroke="#000" stroke-width="1"/><text x="46.50" y="596.28" font-size="10.50" text-anchor="end" fill="#222" font-weight="normal" >30</text><line x1="48.00" y1="625.50" x2="52.50" y2="625.50" stroke="#000" stroke-width="1"/><text x="46.50" y="629.28" font-size="10.50" text-anchor="end" fill="#222" font-weight="normal" >10</text><line x1="48.00" y1="658.50" x2="52.50" y2="658.50" stroke="#000" stroke-width="1"/><text x="46.50" y="662.28" font-size="10.50" text-anchor="end" fill="#222" font-weight="normal" >-10</text><line x1="48.00" y1="691.50" x2="52.50" y2="691.50" stroke="#000" stroke-width="1"/><text x="46.50" y="695.28" font-size="10.50" text-anchor="end" fill="#222" font-weight="normal" >-30</text><line x1="48.00" y1="724.50" x2="52.50" y2="724.50" stroke="#000" stroke-width="1"/><text x="46.50" y="728.28" font-size="10.50" text-anchor="end" fill="#222" font-weight="normal" >-50</text><line x1="48.00" y1="757.50" x2="52.50" y2="757.50" stroke="#000" stroke-width="1"/><text x="46.50" y="761.28" font-size="10.50" text-anchor="end" fill="#222" font-weight="normal" >-70</text><line x1="48.00" y1="790.50" x2="52.50" y2="790.50" stroke="#000" stroke-width="1"/><text x="46.50" y="794.28" font-size="10.50" text-anchor="end" fill="#222" font-weight="normal" >-90</text><line x1="52.50" y1="790.50" x2="52.50" y2="795.00" stroke="#000" stroke-width="1"/><text x="52.50" y="807.05" font-size="11.00" text-anchor="middle" fill="#222" font-weight="normal" >0</text><line x1="92.47" y1="790.50" x2="92.47" y2="795.00" stroke="#000" stroke-width="1"/><text x="92.47" y="807.05" font-size="11.00" text-anchor="middle" fill="#222" font-weight="normal" >1</text><line x1="132.44" y1="790.50" x2="132.44" y2="795.00" stroke="#000" stroke-width="1"/><text x="132.44" y="807.05" font-size="11.00" text-anchor="middle" fill="#222" font-weight="normal" >2</text><line x1="172.41" y1="790.50" x2="172.41" y2="795.00" stroke="#000" stroke-width="1"/><text x="172.41" y="807.05" font-size="11.00" text-anchor="middle" fill="#222" font-weight="normal" >3</text><line x1="212.38" y1="790.50" x2="212.38" y2="795.00" stroke="#000" stroke-width="1"/><text x="212.38" y="807.05" font-size="11.00" text-anchor="middle" fill="#222" font-weight="normal" >4</text><line x1="252.35" y1="790.50" x2="252.35" y2="795.00" stroke="#000" stroke-width="1"/><text x="252.35" y="807.05" font-size="11.00" text-anchor="middle" fill="#222" font-weight="normal" >5</text><line x1="292.32" y1="790.50" x2="292.32" y2="795.00" stroke="#000" stroke-width="1"/><text x="292.32" y="807.05" font-size="11.00" text-anchor="middle" fill="#222" font-weight="normal" >6</text><line x1="332.29" y1="790.50" x2="332.29" y2="795.00" stroke="#000" stroke-width="1"/><text x="332.29" y="807.05" font-size="11.00" text-anchor="middle" fill="#222" font-weight="normal" >7</text><line x1="372.26" y1="790.50" x2="372.26" y2="795.00" stroke="#000" stroke-width="1"/><text x="372.26" y="807.05" font-size="11.00" text-anchor="middle" fill="#222" font-weight="normal" >8</text><line x1="412.23" y1="790.50" x2="412.23" y2="795.00" stroke="#000" stroke-width="1"/><text x="412.23" y="807.05" font-size="11.00" text-anchor="middle" fill="#222" font-weight="normal" >9</text><line x1="452.20" y1="790.50" x2="452.20" y2="795.00" stroke="#000" stroke-width="1"/><text x="452.20" y="807.05" font-size="11.00" text-anchor="middle" fill="#222" font-weight="normal" >10</text><line x1="492.17" y1="790.50" x2="492.17" y2="795.00" stroke="#000" stroke-width="1"/><text x="492.17" y="807.05" font-size="11.00" text-anchor="middle" fill="#222" font-weight="normal" >11</text><line x1="532.14" y1="790.50" x2="532.14" y2="795.00" stroke="#000" stroke-width="1"/><text x="532.14" y="807.05" font-size="11.00" text-anchor="middle" fill="#222" font-weight="normal" >12</text><line x1="572.11" y1="790.50" x2="572.11" y2="795.00" stroke="#000" stroke-width="1"/><text x="572.11" y="807.05" font-size="11.00" text-anchor="middle" fill="#222" font-weight="normal" >13</text><line x1="612.08" y1="790.50" x2="612.08" y2="795.00" stroke="#000" stroke-width="1"/><text x="612.08" y="807.05" font-size="11.00" text-anchor="middle" fill="#222" font-weight="normal" >14</text><rect x="169.61" y="572.37" width="7.99" height="216.48" fill="none" stroke="#6a6a6a" stroke-width="1.4"/><line x1="169.61" y1="580.36" x2="177.61" y2="580.36" stroke="#222" stroke-width="1.3"/><rect x="169.61" y="572.37" width="7.99" height="7.99" fill="none" stroke="#222" stroke-width="1.3"/><rect x="262.34" y="589.53" width="7.99" height="199.32" fill="none" stroke="#6a6a6a" stroke-width="1.4"/><line x1="262.34" y1="597.52" x2="270.34" y2="597.52" stroke="#222" stroke-width="1.3"/><rect x="262.34" y="589.53" width="7.99" height="7.99" fill="none" stroke="#222" stroke-width="1.3"/><rect x="556.12" y="542.34" width="9.19" height="122.76" fill="none" stroke="#6a6a6a" stroke-width="1.4"/><line x1="556.12" y1="551.53" x2="565.32" y2="551.53" stroke="#222" stroke-width="1.3"/><rect x="556.12" y="542.34" width="9.19" height="9.19" fill="none" stroke="#222" stroke-width="1.3"/><rect x="569.31" y="529.14" width="8.79" height="172.26" fill="none" stroke="#6a6a6a" stroke-width="1.4"/><line x1="569.31" y1="537.93" x2="578.11" y2="537.93" stroke="#222" stroke-width="1.3"/><rect x="569.31" y="529.14" width="8.79" height="8.79" fill="none" stroke="#222" stroke-width="1.3"/><polygon points="62.24,539.10 74.74,539.10 68.49,549.60" fill="#000"/><text transform="translate(70.49 534.10) scale(1 1.000) rotate(-78.0)" font-size="18.20" font-weight="normal" fill="#000" text-anchor="start">A064C</text><polygon points="106.20,551.64 118.70,551.64 112.45,562.14" fill="#000"/><text transform="translate(114.45 546.64) scale(1 1.000) rotate(-78.0)" font-size="18.20" font-weight="normal" fill="#000" text-anchor="start">A063C</text><polygon points="151.37,561.87 163.87,561.87 157.62,572.37" fill="#000"/><text transform="translate(159.62 556.87) scale(1 1.000) rotate(-78.0)" font-size="18.20" font-weight="normal" fill="#000" text-anchor="start">A062B</text><polygon points="202.13,574.58 214.63,574.58 208.38,585.08" fill="#000"/><text transform="translate(210.38 569.58) scale(1 1.000) rotate(-78.0)" font-size="18.20" font-weight="normal" fill="#000" text-anchor="start">A061C</text><polygon points="242.10,582.50 254.60,582.50 248.35,593.00" fill="#000"/><text transform="translate(250.35 577.50) scale(1 1.000) rotate(-78.0)" font-size="18.20" font-weight="normal" fill="#000" text-anchor="start">A060B</text><polygon points="273.68,584.81 286.18,584.81 279.93,595.31" fill="#000"/><text transform="translate(281.93 579.81) scale(1 1.000) rotate(-78.0)" font-size="18.20" font-weight="normal" fill="#000" text-anchor="start">120C</text><polygon points="304.46,589.42 316.96,589.42 310.71,599.92" fill="#000"/><text transform="translate(312.71 584.42) scale(1 1.000) rotate(-78.0)" font-size="18.20" font-weight="normal" fill="#000" text-anchor="start">A059B</text><polygon points="323.64,596.19 336.14,596.19 329.89,606.69" fill="#000"/><text transform="translate(331.89 591.19) scale(1 1.000) rotate(-78.0)" font-size="18.20" font-weight="normal" fill="#000" text-anchor="start">119B</text><polygon points="337.63,598.00 350.13,598.00 343.88,608.50" fill="#000"/><text transform="translate(345.88 593.00) scale(1 1.000) rotate(-78.0)" font-size="18.20" font-weight="normal" fill="#000" text-anchor="start">118B</text><polygon points="361.21,602.62 373.71,602.62 367.46,613.12" fill="#000"/><text transform="translate(369.46 597.62) scale(1 1.000) rotate(-78.0)" font-size="18.20" font-weight="normal" fill="#000" text-anchor="start">074C</text><polygon points="377.60,602.62 390.10,602.62 383.85,613.12" fill="#000"/><text transform="translate(385.85 597.62) scale(1 1.000) rotate(-78.0)" font-size="18.20" font-weight="normal" fill="#000" text-anchor="start">117B</text><polygon points="401.18,596.19 413.68,596.19 407.43,606.69" fill="#000"/><text transform="translate(409.43 591.19) scale(1 1.000) rotate(-78.0)" font-size="18.20" font-weight="normal" fill="#000" text-anchor="start">116B</text><polygon points="430.36,596.19 442.86,596.19 436.61,606.69" fill="#000"/><text transform="translate(438.61 591.19) scale(1 1.000) rotate(-78.0)" font-size="18.20" font-weight="normal" fill="#000" text-anchor="start">115B</text><polygon points="456.34,581.17 468.84,581.17 462.59,591.67" fill="#000"/><text transform="translate(464.59 576.17) scale(1 1.000) rotate(-78.0)" font-size="18.20" font-weight="normal" fill="#000" text-anchor="start">A056B</text><polygon points="498.71,571.11 511.21,571.11 504.96,581.61" fill="#000"/><text transform="translate(506.96 566.11) scale(1 1.000) rotate(-78.0)" font-size="18.20" font-weight="normal" fill="#000" text-anchor="start">A055B</text><polygon points="540.68,552.47 553.18,552.47 546.93,562.97" fill="#000"/><text transform="translate(548.93 547.47) scale(1 1.000) rotate(-78.0)" font-size="18.20" font-weight="normal" fill="#000" text-anchor="start">A054B</text><polygon points="579.05,504.78 591.55,504.78 585.30,515.28" fill="#000"/><text transform="translate(587.30 499.78) scale(1 1.000) rotate(-78.0)" font-size="18.20" font-weight="normal" fill="#000" text-anchor="start">A053B</text><polygon points="621.82,454.62 634.32,454.62 628.07,465.12" fill="#000"/><text transform="translate(630.07 449.62) scale(1 1.000) rotate(-78.0)" font-size="18.20" font-weight="normal" fill="#000" text-anchor="start">A052B</text><text transform="translate(175.11 569.37) scale(1 1.000) rotate(-78.0)" font-size="18.20" font-weight="normal" fill="#4a4ad8" text-anchor="start">Sc142</text><text transform="translate(267.84 586.53) scale(1 1.000) rotate(-78.0)" font-size="18.20" font-weight="normal" fill="#4a4ad8" text-anchor="start">Sc119</text><text transform="translate(562.42 539.34) scale(1 1.000) rotate(-78.0)" font-size="18.20" font-weight="normal" fill="#4a4ad8" text-anchor="start">Sc75</text><text transform="translate(575.21 526.14) scale(1 1.000) rotate(-78.0)" font-size="18.20" font-weight="normal" fill="#4a4ad8" text-anchor="start">Sc87.6</text><text transform="translate(57.80 443.50) scale(0.9829 1)" font-size="18.84" font-weight="normal" fill="#000">W</text><text transform="translate(60.50 476.50) scale(1.0025 1)" font-size="32.57" font-weight="bold" fill="#000">P2</text><text transform="translate(546.50 466.00) scale(0.9511 1)" font-size="17.39" font-weight="normal" fill="#000">E</text><text transform="translate(547.50 445.00) scale(0.9826 1)" font-size="13.79" font-weight="normal" fill="#000">V/H: 41</text><text transform="translate(173.60 473.10) scale(0.9194 1)" font-size="10.58" font-weight="bold" fill="#333">TEM sounding station</text><text transform="translate(195.30 487.50) scale(0.9493 1)" font-size="10.14" font-weight="bold" fill="#333">Geologic Borehole</text><path d="M180.5,478 L169,502" stroke="#111" stroke-width="1" fill="none"/><polygon points="168,505 167.5,498.5 172,500.5" fill="#111"/><path d="M199.5,493 L187.5,515" stroke="#111" stroke-width="1" fill="none"/><polygon points="186.5,518 186,511.5 190.5,513.5" fill="#111"/>
<defs><linearGradient id="p6_g1" gradientUnits="userSpaceOnUse" x1="712.80" y1="0" x2="776.50" y2="0"><stop offset="0.0000" stop-color="#00c8ff"/><stop offset="1.0000" stop-color="#00ffff"/></linearGradient><linearGradient id="p6_g2" gradientUnits="userSpaceOnUse" x1="712.80" y1="0" x2="765.88" y2="0"><stop offset="0.0000" stop-color="#0010f0"/><stop offset="0.5000" stop-color="#0050ff"/><stop offset="0.7000" stop-color="#0088ff"/><stop offset="1.0000" stop-color="#00c8ff"/></linearGradient><linearGradient id="p6_g3" gradientUnits="userSpaceOnUse" x1="712.80" y1="0" x2="765.88" y2="0"><stop offset="0.0000" stop-color="#0088ff"/><stop offset="0.6000" stop-color="#00c8ff"/><stop offset="1.0000" stop-color="#00c8ff"/></linearGradient><linearGradient id="p6_g4" gradientUnits="userSpaceOnUse" x1="765.88" y1="0" x2="818.96" y2="0"><stop offset="0.0000" stop-color="#00c8ff"/><stop offset="0.2000" stop-color="#00ffff"/><stop offset="0.6000" stop-color="#00ffff"/><stop offset="1.0000" stop-color="#00ffa8"/></linearGradient><linearGradient id="p6_g5" gradientUnits="userSpaceOnUse" x1="712.80" y1="0" x2="728.72" y2="0"><stop offset="0.0000" stop-color="#0088ff"/><stop offset="1.0000" stop-color="#00c8ff"/></linearGradient><linearGradient id="p6_g6" gradientUnits="userSpaceOnUse" x1="728.72" y1="0" x2="755.26" y2="0"><stop offset="0.0000" stop-color="#00c8ff"/><stop offset="0.2000" stop-color="#a0ff00"/><stop offset="0.5000" stop-color="#ffff00"/><stop offset="0.7000" stop-color="#a0ff00"/><stop offset="1.0000" stop-color="#00ff50"/></linearGradient><linearGradient id="p6_g7" gradientUnits="userSpaceOnUse" x1="818.96" y1="0" x2="911.85" y2="0"><stop offset="0.0000" stop-color="#00ffa8"/><stop offset="0.3429" stop-color="#00ff50"/><stop offset="0.5714" stop-color="#00ff50"/><stop offset="0.8571" stop-color="#00ff50"/><stop offset="1.0000" stop-color="#00ff50"/></linearGradient><linearGradient id="p6_g8" gradientUnits="userSpaceOnUse" x1="909.20" y1="0" x2="978.20" y2="0"><stop offset="0.0000" stop-color="#00ff50"/><stop offset="0.1154" stop-color="#a0ff00"/><stop offset="0.3077" stop-color="#ffff00"/><stop offset="0.6154" stop-color="#ffff00"/><stop offset="0.8077" stop-color="#ffc000"/><stop offset="1.0000" stop-color="#ff8c00"/></linearGradient><linearGradient id="p6_g9" gradientUnits="userSpaceOnUse" x1="803.04" y1="0" x2="824.27" y2="0"><stop offset="0.0000" stop-color="#00ffff"/><stop offset="0.7500" stop-color="#00ffff"/><stop offset="1.0000" stop-color="#00ff50"/></linearGradient><linearGradient id="p6_g10" gradientUnits="userSpaceOnUse" x1="818.96" y1="0" x2="845.50" y2="0"><stop offset="0.0000" stop-color="#ff8c00"/><stop offset="0.1600" stop-color="#ffff00"/><stop offset="0.3000" stop-color="#a0ff00"/><stop offset="0.5000" stop-color="#00ff50"/><stop offset="0.7000" stop-color="#a0ff00"/><stop offset="0.9000" stop-color="#ffff00"/><stop offset="1.0000" stop-color="#ff8c00"/></linearGradient><linearGradient id="p6_g11" gradientUnits="userSpaceOnUse" x1="845.50" y1="0" x2="882.66" y2="0"><stop offset="0.0000" stop-color="#00ff50"/><stop offset="0.1429" stop-color="#a0ff00"/><stop offset="0.4286" stop-color="#ffff00"/><stop offset="0.7143" stop-color="#ff8c00"/><stop offset="1.0000" stop-color="#ff0a00"/></linearGradient><linearGradient id="p6_g12" gradientUnits="userSpaceOnUse" x1="911.85" y1="0" x2="972.89" y2="0"><stop offset="0.0000" stop-color="#ff8c00"/><stop offset="0.3913" stop-color="#ffff00"/><stop offset="0.6522" stop-color="#00ffff"/><stop offset="0.9130" stop-color="#a0ff00"/><stop offset="1.0000" stop-color="#ff8c00"/></linearGradient><linearGradient id="p6_g13" gradientUnits="userSpaceOnUse" x1="975.55" y1="0" x2="1007.39" y2="0"><stop offset="0.0000" stop-color="#ff8c00"/><stop offset="0.4167" stop-color="#ff4800"/><stop offset="0.7500" stop-color="#ff8c00"/><stop offset="1.0000" stop-color="#ff8c00"/></linearGradient><linearGradient id="p6_g14" gradientUnits="userSpaceOnUse" x1="1004.74" y1="0" x2="1047.20" y2="0"><stop offset="0.0000" stop-color="#ff8c00"/><stop offset="0.1875" stop-color="#ffff00"/><stop offset="0.5000" stop-color="#a0ff00"/><stop offset="0.7500" stop-color="#a0ff00"/><stop offset="1.0000" stop-color="#ffff00"/></linearGradient><linearGradient id="p6_g15" gradientUnits="userSpaceOnUse" x1="1010.05" y1="0" x2="1041.90" y2="0"><stop offset="0.0000" stop-color="#ff8c00"/><stop offset="0.2500" stop-color="#ffff00"/><stop offset="0.5000" stop-color="#00ffa8"/><stop offset="0.8333" stop-color="#a0ff00"/><stop offset="1.0000" stop-color="#ffff00"/></linearGradient><linearGradient id="p6_g16" gradientUnits="userSpaceOnUse" x1="1041.90" y1="0" x2="1153.36" y2="0"><stop offset="0.0000" stop-color="#ffff00"/><stop offset="0.1429" stop-color="#ffff00"/><stop offset="0.2857" stop-color="#a0ff00"/><stop offset="0.5238" stop-color="#a0ff00"/><stop offset="0.7143" stop-color="#a0ff00"/><stop offset="0.8571" stop-color="#ffff00"/><stop offset="1.0000" stop-color="#ff8c00"/></linearGradient><linearGradient id="p6_g17" gradientUnits="userSpaceOnUse" x1="1041.90" y1="0" x2="1148.06" y2="0"><stop offset="0.0000" stop-color="#00ffa8"/><stop offset="0.1000" stop-color="#00ffff"/><stop offset="0.4000" stop-color="#00ffa8"/><stop offset="0.7000" stop-color="#00ffa8"/><stop offset="0.9000" stop-color="#00ff50"/><stop offset="1.0000" stop-color="#ffff00"/></linearGradient><linearGradient id="p6_g18" gradientUnits="userSpaceOnUse" x1="1073.74" y1="0" x2="1110.90" y2="0"><stop offset="0.0000" stop-color="#ffff00"/><stop offset="0.1429" stop-color="#a0ff00"/><stop offset="0.4286" stop-color="#00ff50"/><stop offset="0.7857" stop-color="#a0ff00"/><stop offset="1.0000" stop-color="#ff8c00"/></linearGradient><linearGradient id="p6_g19" gradientUnits="userSpaceOnUse" x1="1073.74" y1="0" x2="1110.90" y2="0"><stop offset="0.0000" stop-color="#ff8c00"/><stop offset="0.1429" stop-color="#ffff00"/><stop offset="0.2857" stop-color="#a0ff00"/><stop offset="0.5714" stop-color="#a0ff00"/><stop offset="0.7857" stop-color="#ffff00"/><stop offset="1.0000" stop-color="#ff8c00"/></linearGradient><linearGradient id="p6_g20" gradientUnits="userSpaceOnUse" x1="1110.90" y1="0" x2="1153.36" y2="0"><stop offset="0.0000" stop-color="#ff8c00"/><stop offset="0.3750" stop-color="#ff4800"/><stop offset="1.0000" stop-color="#ff0a00"/></linearGradient><linearGradient id="p6_g21" gradientUnits="userSpaceOnUse" x1="1148.06" y1="0" x2="1217.06" y2="0"><stop offset="0.0000" stop-color="#ffff00"/><stop offset="0.2308" stop-color="#ff8c00"/><stop offset="0.6154" stop-color="#ff4800"/><stop offset="1.0000" stop-color="#ff0a00"/></linearGradient><linearGradient id="p6_g22" gradientUnits="userSpaceOnUse" x1="1193.17" y1="0" x2="1240.95" y2="0"><stop offset="0.0000" stop-color="#ff8c00"/><stop offset="0.1667" stop-color="#ffff00"/><stop offset="0.3889" stop-color="#a0ff00"/><stop offset="0.6111" stop-color="#00ffa8"/><stop offset="0.7778" stop-color="#a0ff00"/><stop offset="1.0000" stop-color="#ff8c00"/></linearGradient><linearGradient id="p6_g23" gradientUnits="userSpaceOnUse" x1="1137.44" y1="0" x2="1169.29" y2="0"><stop offset="0.0000" stop-color="#ff0a00"/><stop offset="0.1667" stop-color="#ff8c00"/><stop offset="0.4167" stop-color="#ffff00"/><stop offset="0.7500" stop-color="#a0ff00"/><stop offset="1.0000" stop-color="#00ff50"/></linearGradient><linearGradient id="p6_g24" gradientUnits="userSpaceOnUse" x1="1169.29" y1="0" x2="1222.37" y2="0"><stop offset="0.0000" stop-color="#00ff50"/><stop offset="0.1500" stop-color="#00ff50"/><stop offset="0.4500" stop-color="#a0ff00"/><stop offset="0.7000" stop-color="#ffff00"/><stop offset="0.9000" stop-color="#ff8c00"/><stop offset="1.0000" stop-color="#ff0a00"/></linearGradient><linearGradient id="p6_g25" gradientUnits="userSpaceOnUse" x1="1169.29" y1="0" x2="1185.21" y2="0"><stop offset="0.0000" stop-color="#00ff50"/><stop offset="0.3333" stop-color="#ffff00"/><stop offset="0.6667" stop-color="#ff8c00"/><stop offset="1.0000" stop-color="#ff0a00"/></linearGradient><linearGradient id="p6_g26" gradientUnits="userSpaceOnUse" x1="972.89" y1="0" x2="1025.97" y2="0"><stop offset="0.0000" stop-color="#ffff00"/><stop offset="0.1000" stop-color="#00ffa8"/><stop offset="0.3000" stop-color="#00ffff"/><stop offset="0.5000" stop-color="#a0ff00"/><stop offset="0.7000" stop-color="#ffff00"/><stop offset="1.0000" stop-color="#ff8c00"/></linearGradient><linearGradient id="p6_g27" gradientUnits="userSpaceOnUse" x1="970.24" y1="0" x2="994.12" y2="0"><stop offset="0.0000" stop-color="#00ffff"/><stop offset="0.3333" stop-color="#00ffa8"/><stop offset="0.6667" stop-color="#ffff00"/><stop offset="1.0000" stop-color="#ff8c00"/></linearGradient><linearGradient id="p6_g28" gradientUnits="userSpaceOnUse" x1="1217.06" y1="0" x2="1290.31" y2="0"><stop offset="0.0000" stop-color="#ff8c00"/><stop offset="0.1449" stop-color="#ffff00"/><stop offset="0.2536" stop-color="#a0ff00"/><stop offset="0.3623" stop-color="#00ff50"/><stop offset="0.5797" stop-color="#a0ff00"/><stop offset="1.0000" stop-color="#a0ff00"/></linearGradient><linearGradient id="p6_g29" gradientUnits="userSpaceOnUse" x1="1254.22" y1="0" x2="1290.31" y2="0"><stop offset="0.0000" stop-color="#00ffa8"/><stop offset="0.4412" stop-color="#00ffff"/><stop offset="1.0000" stop-color="#00ffff"/></linearGradient><linearGradient id="p6_g30" gradientUnits="userSpaceOnUse" x1="1227.68" y1="0" x2="1270.14" y2="0"><stop offset="0.0000" stop-color="#ffff00"/><stop offset="0.2500" stop-color="#a0ff00"/><stop offset="0.3750" stop-color="#00ffa8"/><stop offset="0.6250" stop-color="#a0ff00"/><stop offset="1.0000" stop-color="#ffff00"/></linearGradient><linearGradient id="p6_g31" gradientUnits="userSpaceOnUse" x1="1211.75" y1="0" x2="1232.98" y2="0"><stop offset="0.0000" stop-color="#ff8c00"/><stop offset="0.5000" stop-color="#ff4800"/><stop offset="1.0000" stop-color="#ff8c00"/></linearGradient><linearGradient id="p6_g32" gradientUnits="userSpaceOnUse" x1="745.71" y1="0" x2="757.92" y2="0"><stop offset="0.0000" stop-color="#ffff00"/><stop offset="0.4348" stop-color="#ff8c00"/><stop offset="1.0000" stop-color="#ff0a00"/></linearGradient><linearGradient id="p6_g33" gradientUnits="userSpaceOnUse" x1="797.73" y1="0" x2="818.96" y2="0"><stop offset="0.0000" stop-color="#ff0a00"/><stop offset="0.6250" stop-color="#ff8c00"/><stop offset="0.8750" stop-color="#ffff00"/><stop offset="1.0000" stop-color="#ffff00"/></linearGradient><linearGradient id="p6_g34" gradientUnits="userSpaceOnUse" x1="845.50" y1="0" x2="858.77" y2="0"><stop offset="0.0000" stop-color="#ffff00"/><stop offset="0.4000" stop-color="#ff8c00"/><stop offset="1.0000" stop-color="#ff0a00"/></linearGradient><clipPath id="p6_clip"><polygon points="712.80,787.05 712.80,631.62 755.26,631.62 787.11,629.25 824.27,630.30 837.01,633.85 851.87,621.36 898.58,606.24 953.25,597.03 978.20,580.60 992.53,567.45 1004.74,572.71 1025.97,579.28 1041.90,572.71 1053.04,574.02 1068.44,566.13 1085.42,568.10 1136.91,540.49 1167.70,526.02 1191.58,509.59 1226.61,478.68 1242.01,474.74 1274.39,472.11 1290.31,470.13 1290.31,787.05"/></clipPath></defs><g clip-path="url(#p6_clip)"><rect x="712.50" y="444.85" width="578.11" height="349.07" fill="#ff0a00"/><rect x="712.50" y="615.80" width="64.30" height="22.95" fill="url(#p6_g1)"/><rect x="712.50" y="638.16" width="53.68" height="13.36" fill="url(#p6_g2)"/><rect x="712.50" y="650.91" width="53.68" height="19.40" fill="url(#p6_g3)"/><rect x="765.58" y="615.80" width="53.68" height="54.51" fill="url(#p6_g4)"/><rect x="712.50" y="669.72" width="16.52" height="46.62" fill="url(#p6_g5)"/><rect x="728.42" y="669.72" width="27.14" height="46.62" fill="url(#p6_g6)"/><rect x="818.66" y="576.35" width="93.49" height="95.28" fill="url(#p6_g7)"/><rect x="908.90" y="576.35" width="69.60" height="96.59" fill="url(#p6_g8)"/><rect x="802.74" y="669.72" width="21.83" height="5.86" fill="url(#p6_g9)"/><rect x="818.66" y="669.72" width="27.14" height="113.69" fill="url(#p6_g10)"/><rect x="845.20" y="671.03" width="37.76" height="57.14" fill="url(#p6_g11)"/><rect x="911.55" y="672.35" width="61.64" height="5.86" fill="url(#p6_g12)"/><rect x="975.25" y="550.05" width="32.45" height="53.20" fill="url(#p6_g13)"/><rect x="1004.44" y="565.83" width="43.06" height="24.80" fill="url(#p6_g14)"/><rect x="1009.75" y="590.03" width="32.45" height="18.75" fill="url(#p6_g15)"/><rect x="1041.60" y="523.75" width="112.07" height="59.25" fill="url(#p6_g16)"/><rect x="1041.60" y="582.40" width="106.76" height="13.49" fill="url(#p6_g17)"/><rect x="1073.44" y="595.29" width="37.76" height="13.49" fill="url(#p6_g18)"/><rect x="1073.44" y="608.17" width="37.76" height="134.47" fill="url(#p6_g19)"/><rect x="1110.60" y="595.29" width="43.06" height="147.35" fill="url(#p6_g20)"/><rect x="1147.76" y="497.45" width="80.22" height="53.20" fill="url(#p6_g21)"/><rect x="1192.87" y="557.81" width="48.37" height="9.54" fill="url(#p6_g22)"/><rect x="1137.14" y="657.35" width="32.45" height="136.57" fill="url(#p6_g23)"/><rect x="1168.99" y="641.84" width="53.68" height="130.00" fill="url(#p6_g24)"/><rect x="1168.99" y="771.23" width="16.52" height="22.69" fill="url(#p6_g25)"/><rect x="972.59" y="648.28" width="53.68" height="5.86" fill="url(#p6_g26)"/><rect x="969.94" y="670.24" width="24.49" height="5.86" fill="url(#p6_g27)"/><rect x="1216.76" y="464.57" width="73.85" height="30.45" fill="url(#p6_g28)"/><rect x="1253.92" y="489.17" width="36.69" height="5.86" fill="url(#p6_g29)"/><rect x="1227.38" y="508.63" width="43.06" height="5.73" fill="url(#p6_g30)"/><rect x="1211.45" y="484.30" width="21.83" height="13.75" fill="url(#p6_g31)"/><polygon points="712.80,714.73 745.71,714.73 745.71,670.01 803.04,670.01 803.04,675.27 818.96,675.27 818.96,783.11 845.50,783.11 845.50,727.88 882.66,727.88 882.66,672.64 972.89,672.64 972.89,793.62 712.80,793.62" fill="#ff0a00"/><rect x="745.41" y="669.72" width="12.81" height="45.31" fill="url(#p6_g32)"/><rect x="797.43" y="674.98" width="21.83" height="108.43" fill="url(#p6_g33)"/><rect x="845.20" y="727.58" width="13.87" height="55.83" fill="url(#p6_g34)"/></g><path d="M713.33,715.12 C717.93,714.73 734.92,714.35 740.93,712.75 C746.95,711.15 747.30,710.65 749.43,705.52 C751.55,700.39 751.99,687.99 753.67,681.98 C755.35,675.98 753.67,672.54 759.51,669.49 C765.35,666.44 781.10,663.13 788.70,663.70 C796.31,664.27 800.12,670.23 805.16,672.91 C810.20,675.58 815.78,675.95 818.96,679.75 C822.14,683.54 823.65,682.38 824.27,695.66 C824.89,708.94 822.06,744.97 822.68,759.43 C823.29,773.90 825.59,778.61 827.98,782.45 C830.37,786.28 834.53,786.28 837.01,782.45 C839.48,778.61 841.34,767.81 842.85,759.43 C844.35,751.06 843.20,737.50 846.03,732.21 C848.86,726.93 854.88,729.26 859.83,727.74 C864.79,726.23 872.57,728.09 875.76,723.14 C878.94,718.19 877.79,706.22 878.94,698.02 C880.09,689.83 880.09,678.72 882.66,673.96 C885.22,669.20 889.38,669.86 894.33,669.49 C899.29,669.12 907.07,670.41 912.38,671.72 C917.69,673.04 920.87,676.04 926.18,677.38 C931.49,678.72 938.57,679.75 944.23,679.75 C949.89,679.75 955.20,678.52 960.15,677.38 C965.11,676.24 971.12,675.93 973.95,672.91 C976.78,669.88 976.78,669.14 977.14,659.23 C977.49,649.33 975.72,624.17 976.08,613.47 C976.43,602.77 977.85,601.20 979.26,595.06 C980.68,588.92 982.53,580.81 984.57,576.65 C986.60,572.49 988.99,570.51 991.47,570.08 C993.95,569.64 997.13,571.50 999.43,574.02 C1001.73,576.54 1003.24,579.89 1005.27,585.20 C1007.31,590.50 1008.46,602.23 1011.64,605.84 C1014.83,609.46 1020.04,607.73 1024.38,606.89 C1028.71,606.06 1034.55,603.15 1037.65,600.85 C1040.75,598.54 1037.74,594.31 1042.96,593.09 C1048.18,591.86 1063.75,590.08 1068.97,593.48 C1074.19,596.88 1073.21,597.60 1074.27,613.47 C1075.34,629.34 1074.63,668.81 1075.34,688.69 C1076.04,708.57 1075.87,723.89 1078.52,732.74 C1081.18,741.59 1086.48,741.81 1091.26,741.81 C1096.04,741.81 1104.71,753.67 1107.18,732.74 C1109.66,711.81 1104.80,639.09 1106.12,616.23 C1107.45,593.37 1109.31,599.44 1115.15,595.59 C1120.99,591.73 1135.14,594.82 1141.16,593.09 C1147.17,591.36 1149.38,592.54 1151.24,585.20 C1153.10,577.86 1150.09,557.65 1152.30,549.03 C1154.51,540.42 1158.58,539.13 1164.51,533.52 C1170.44,527.91 1180.52,520.35 1187.87,515.37 C1195.21,510.40 1205.12,505.62 1208.57,503.67" fill="none" stroke="#000" stroke-width="4.2" stroke-dasharray="4.2 3.2"/><path d="M1221.84,483.02 C1223.61,483.02 1228.47,482.39 1232.45,483.02 C1236.43,483.66 1241.57,484.69 1245.72,486.84 C1249.88,488.98 1251.30,494.20 1257.40,495.91 C1263.50,497.62 1278.19,496.90 1282.35,497.09" fill="none" stroke="#000" stroke-width="4.2" stroke-dasharray="4.2 3.2"/><polyline points="712.80,631.62 755.26,631.62 787.11,629.25 824.27,630.30 837.01,633.85 851.87,621.36 898.58,606.24 953.25,597.03 978.20,580.60 992.53,567.45 1004.74,572.71 1025.97,579.28 1041.90,572.71 1053.04,574.02 1068.44,566.13 1085.42,568.10 1136.91,540.49 1167.70,526.02 1191.58,509.59 1226.61,478.68 1242.01,474.74 1274.39,472.11 1290.31,470.13" fill="none" stroke="#333" stroke-width="0.6"/><line x1="712.80" y1="455.67" x2="712.80" y2="787.85" stroke="#000" stroke-width="1.6"/><line x1="712.00" y1="787.05" x2="1290.31" y2="787.05" stroke="#000" stroke-width="1.6"/><line x1="1290.31" y1="470.13" x2="1290.31" y2="524.05" stroke="#000" stroke-width="1.6"/><line x1="708.30" y1="458.30" x2="712.80" y2="458.30" stroke="#000" stroke-width="1"/><text x="706.80" y="462.08" font-size="10.50" text-anchor="end" fill="#222" font-weight="normal" >130</text><line x1="708.30" y1="524.05" x2="712.80" y2="524.05" stroke="#000" stroke-width="1"/><text x="706.80" y="527.83" font-size="10.50" text-anchor="end" fill="#222" font-weight="normal" >80</text><line x1="708.30" y1="589.80" x2="712.80" y2="589.80" stroke="#000" stroke-width="1"/><text x="706.80" y="593.58" font-size="10.50" text-anchor="end" fill="#222" font-weight="normal" >30</text><line x1="708.30" y1="655.55" x2="712.80" y2="655.55" stroke="#000" stroke-width="1"/><text x="706.80" y="659.33" font-size="10.50" text-anchor="end" fill="#222" font-weight="normal" >-20</text><line x1="708.30" y1="721.30" x2="712.80" y2="721.30" stroke="#000" stroke-width="1"/><text x="706.80" y="725.08" font-size="10.50" text-anchor="end" fill="#222" font-weight="normal" >-70</text><line x1="708.30" y1="787.05" x2="712.80" y2="787.05" stroke="#000" stroke-width="1"/><text x="706.80" y="790.83" font-size="10.50" text-anchor="end" fill="#222" font-weight="normal" >-120</text><line x1="712.80" y1="787.05" x2="712.80" y2="791.55" stroke="#000" stroke-width="1"/><text x="712.80" y="803.60" font-size="11.00" text-anchor="middle" fill="#222" font-weight="normal" >0</text><line x1="765.88" y1="787.05" x2="765.88" y2="791.55" stroke="#000" stroke-width="1"/><text x="765.88" y="803.60" font-size="11.00" text-anchor="middle" fill="#222" font-weight="normal" >1</text><line x1="818.96" y1="787.05" x2="818.96" y2="791.55" stroke="#000" stroke-width="1"/><text x="818.96" y="803.60" font-size="11.00" text-anchor="middle" fill="#222" font-weight="normal" >2</text><line x1="872.04" y1="787.05" x2="872.04" y2="791.55" stroke="#000" stroke-width="1"/><text x="872.04" y="803.60" font-size="11.00" text-anchor="middle" fill="#222" font-weight="normal" >3</text><line x1="925.12" y1="787.05" x2="925.12" y2="791.55" stroke="#000" stroke-width="1"/><text x="925.12" y="803.60" font-size="11.00" text-anchor="middle" fill="#222" font-weight="normal" >4</text><line x1="978.20" y1="787.05" x2="978.20" y2="791.55" stroke="#000" stroke-width="1"/><text x="978.20" y="803.60" font-size="11.00" text-anchor="middle" fill="#222" font-weight="normal" >5</text><line x1="1031.28" y1="787.05" x2="1031.28" y2="791.55" stroke="#000" stroke-width="1"/><text x="1031.28" y="803.60" font-size="11.00" text-anchor="middle" fill="#222" font-weight="normal" >6</text><line x1="1084.36" y1="787.05" x2="1084.36" y2="791.55" stroke="#000" stroke-width="1"/><text x="1084.36" y="803.60" font-size="11.00" text-anchor="middle" fill="#222" font-weight="normal" >7</text><line x1="1137.44" y1="787.05" x2="1137.44" y2="791.55" stroke="#000" stroke-width="1"/><text x="1137.44" y="803.60" font-size="11.00" text-anchor="middle" fill="#222" font-weight="normal" >8</text><line x1="1190.52" y1="787.05" x2="1190.52" y2="791.55" stroke="#000" stroke-width="1"/><text x="1190.52" y="803.60" font-size="11.00" text-anchor="middle" fill="#222" font-weight="normal" >9</text><line x1="1243.60" y1="787.05" x2="1243.60" y2="791.55" stroke="#000" stroke-width="1"/><text x="1243.60" y="803.60" font-size="11.00" text-anchor="middle" fill="#222" font-weight="normal" >10</text><rect x="738.28" y="631.62" width="12.74" height="50.23" fill="none" stroke="#6a6a6a" stroke-width="1.4"/><line x1="738.28" y1="644.36" x2="751.02" y2="644.36" stroke="#222" stroke-width="1.3"/><rect x="738.28" y="631.62" width="12.74" height="12.74" fill="none" stroke="#222" stroke-width="1.3"/><rect x="962.28" y="581.65" width="9.55" height="106.78" fill="none" stroke="#6a6a6a" stroke-width="1.4"/><line x1="962.28" y1="591.20" x2="971.83" y2="591.20" stroke="#222" stroke-width="1.3"/><rect x="962.28" y="581.65" width="9.55" height="9.55" fill="none" stroke="#222" stroke-width="1.3"/><rect x="1041.90" y="569.55" width="9.02" height="53.13" fill="none" stroke="#6a6a6a" stroke-width="1.4"/><rect x="1041.40" y="569.05" width="10.02" height="7.00" fill="#000"/><rect x="1068.44" y="564.82" width="9.02" height="97.31" fill="none" stroke="#6a6a6a" stroke-width="1.4"/><rect x="1067.94" y="564.32" width="10.02" height="7.00" fill="#000"/><polygon points="721.94,628.09 734.44,628.09 728.19,638.59" fill="#000"/><text transform="translate(730.19 623.09) scale(1 1.000) rotate(-78.0)" font-size="17.80" font-weight="normal" fill="#000" text-anchor="start">096B</text><polygon points="749.54,626.64 762.04,626.64 755.79,637.14" fill="#000"/><text transform="translate(757.79 621.64) scale(1 1.000) rotate(-78.0)" font-size="17.80" font-weight="normal" fill="#000" text-anchor="start">087B</text><polygon points="784.05,623.88 796.55,623.88 790.30,634.38" fill="#000"/><text transform="translate(792.30 618.88) scale(1 1.000) rotate(-78.0)" font-size="17.80" font-weight="normal" fill="#000" text-anchor="start">088B</text><polygon points="803.16,621.38 815.66,621.38 809.41,631.88" fill="#000"/><text transform="translate(811.41 616.38) scale(1 1.000) rotate(-78.0)" font-size="17.80" font-weight="normal" fill="#000" text-anchor="start">083B</text><polygon points="830.76,625.85 843.26,625.85 837.01,636.35" fill="#000"/><text transform="translate(839.01 620.85) scale(1 1.000) rotate(-78.0)" font-size="17.80" font-weight="normal" fill="#000" text-anchor="start">A010C</text><polygon points="845.62,612.17 858.12,612.17 851.87,622.67" fill="#000"/><text transform="translate(853.87 607.17) scale(1 1.000) rotate(-78.0)" font-size="17.80" font-weight="normal" fill="#000" text-anchor="start">089B</text><polygon points="892.33,597.32 904.83,597.32 898.58,607.82" fill="#000"/><text transform="translate(900.58 592.32) scale(1 1.000) rotate(-78.0)" font-size="17.80" font-weight="normal" fill="#000" text-anchor="start">090B</text><polygon points="947.00,588.24 959.50,588.24 953.25,598.74" fill="#000"/><text transform="translate(955.25 583.24) scale(1 1.000) rotate(-78.0)" font-size="17.80" font-weight="normal" fill="#000" text-anchor="start">091B</text><polygon points="986.28,560.23 998.78,560.23 992.53,570.73" fill="#000"/><text transform="translate(994.53 555.23) scale(1 1.000) rotate(-78.0)" font-size="17.80" font-weight="normal" fill="#000" text-anchor="start">092C</text><polygon points="1019.72,570.62 1032.22,570.62 1025.97,581.12" fill="#000"/><text transform="translate(1027.97 565.62) scale(1 1.000) rotate(-78.0)" font-size="17.80" font-weight="normal" fill="#000" text-anchor="start">093B</text><polygon points="1046.79,565.49 1059.29,565.49 1053.04,575.99" fill="#000"/><text transform="translate(1055.04 560.49) scale(1 1.000) rotate(-78.0)" font-size="17.80" font-weight="normal" fill="#000" text-anchor="start">094B</text><polygon points="1079.17,560.23 1091.67,560.23 1085.42,570.73" fill="#000"/><text transform="translate(1087.42 555.23) scale(1 1.000) rotate(-78.0)" font-size="17.80" font-weight="normal" fill="#000" text-anchor="start">095B</text><polygon points="1130.66,531.96 1143.16,531.96 1136.91,542.46" fill="#000"/><text transform="translate(1138.91 526.96) scale(1 1.000) rotate(-78.0)" font-size="17.80" font-weight="normal" fill="#000" text-anchor="start">096B</text><polygon points="1161.45,517.76 1173.95,517.76 1167.70,528.26" fill="#000"/><text transform="translate(1169.70 512.76) scale(1 1.000) rotate(-78.0)" font-size="17.80" font-weight="normal" fill="#000" text-anchor="start">097C</text><polygon points="1185.33,500.93 1197.83,500.93 1191.58,511.43" fill="#000"/><text transform="translate(1193.58 495.93) scale(1 1.000) rotate(-78.0)" font-size="17.80" font-weight="normal" fill="#000" text-anchor="start">098B</text><polygon points="1220.36,470.02 1232.86,470.02 1226.61,480.52" fill="#000"/><text transform="translate(1228.61 465.02) scale(1 1.000) rotate(-78.0)" font-size="17.80" font-weight="normal" fill="#000" text-anchor="start">099B</text><polygon points="1235.76,466.21 1248.26,466.21 1242.01,476.71" fill="#000"/><text transform="translate(1244.01 461.21) scale(1 1.000) rotate(-78.0)" font-size="17.80" font-weight="normal" fill="#000" text-anchor="start">100A</text><polygon points="1268.14,464.89 1280.64,464.89 1274.39,475.39" fill="#000"/><text transform="translate(1276.39 459.89) scale(1 1.000) rotate(-78.0)" font-size="17.80" font-weight="normal" fill="#000" text-anchor="start">101B</text><text transform="translate(746.15 628.62) scale(1 1.000) rotate(-78.0)" font-size="17.80" font-weight="normal" fill="#4a4ad8" text-anchor="start">Sc40</text><text transform="translate(968.55 578.65) scale(1 1.000) rotate(-78.0)" font-size="17.80" font-weight="normal" fill="#4a4ad8" text-anchor="start">Sc80</text><text transform="translate(1047.64 566.55) scale(1 1.000) rotate(-78.0)" font-size="17.80" font-weight="normal" fill="#4a4ad8" text-anchor="start">St55</text><text transform="translate(1074.18 561.82) scale(1 1.000) rotate(-78.0)" font-size="17.80" font-weight="normal" fill="#4a4ad8" text-anchor="start">F73</text><text transform="translate(749.00 655.80) scale(1.0328 1)" font-size="17.57" font-weight="normal" fill="#ffffff">SWI</text><text transform="translate(1177.30 736.60) scale(0.8987 1)" font-size="23.71" font-weight="bold" fill="#000">?</text><text transform="translate(719.40 457.10) scale(1.0241 1)" font-size="17.29" font-weight="normal" fill="#000">SW</text><text transform="translate(722.80 493.70) scale(0.9238 1)" font-size="34.29" font-weight="bold" fill="#000">P6</text><text opacity="0.45" transform="translate(740.10 515.70) scale(1.1323 1)" font-size="14.48" font-weight="bold" font-style="italic" fill="#000">Known high</text><text stroke="#4262b4" stroke-width="0.5" transform="translate(739.30 514.90) scale(1.1323 1)" font-size="14.48" font-weight="bold" font-style="italic" fill="#4262b4">Known high</text><text opacity="0.45" transform="translate(724.18 538.30) scale(1.2709 1)" font-size="12.97" font-weight="bold" font-style="italic" fill="#000">gravity anomaly</text><text stroke="#4262b4" stroke-width="0.5" transform="translate(723.38 537.50) scale(1.2709 1)" font-size="12.97" font-weight="bold" font-style="italic" fill="#4262b4">gravity anomaly</text><path d="M719.4,546.2 V561 M719.4,553 H854.8 M854.8,546.2 V561" stroke="#333" stroke-width="2.6" fill="none"/><text opacity="0.45" transform="translate(954.50 457.30) scale(1.0302 1)" font-size="15.71" font-weight="bold" font-style="italic" fill="#000">Quaternary</text><text stroke="#b3263c" stroke-width="0.5" transform="translate(953.70 456.50) scale(1.0302 1)" font-size="15.71" font-weight="bold" font-style="italic" fill="#b3263c">Quaternary</text><text opacity="0.45" transform="translate(942.00 479.30) scale(1.0490 1)" font-size="15.45" font-weight="bold" font-style="italic" fill="#000">normal faulting</text><text stroke="#b3263c" stroke-width="0.5" transform="translate(941.20 478.50) scale(1.0490 1)" font-size="15.45" font-weight="bold" font-style="italic" fill="#b3263c">normal faulting</text><path d="M977.6,489.7 V507.1 M977.6,497.2 H1021.9 M1021.9,489.7 V507.1" stroke="#333" stroke-width="2.6" fill="none"/><text transform="translate(1160.50 444.00) scale(0.9565 1)" font-size="13.79" font-weight="normal" fill="#000">V/H: 24</text><text transform="translate(1160.50 462.30) scale(0.9466 1)" font-size="18.70" font-weight="normal" fill="#000">NE</text>
<defs><linearGradient id="p3_g1" gradientUnits="userSpaceOnUse" x1="58.00" y1="0" x2="95.88" y2="0"><stop offset="0.0000" stop-color="#00ff50"/><stop offset="0.8182" stop-color="#00ff50"/><stop offset="1.0000" stop-color="#00ffa8"/></linearGradient><linearGradient id="p3_g2" gradientUnits="userSpaceOnUse" x1="95.88" y1="0" x2="323.19" y2="0"><stop offset="0.0000" stop-color="#00c8ff"/><stop offset="0.0758" stop-color="#00ffff"/><stop offset="0.1667" stop-color="#00c8ff"/><stop offset="0.2424" stop-color="#00ffff"/><stop offset="0.3182" stop-color="#00c8ff"/><stop offset="0.4091" stop-color="#00ffff"/><stop offset="0.4848" stop-color="#00c8ff"/><stop offset="0.5909" stop-color="#00c8ff"/><stop offset="0.6667" stop-color="#00ffff"/><stop offset="0.7424" stop-color="#00c8ff"/><stop offset="0.8333" stop-color="#00ffff"/><stop offset="0.9091" stop-color="#00c8ff"/><stop offset="1.0000" stop-color="#00ffff"/></linearGradient><linearGradient id="p3_g3" gradientUnits="userSpaceOnUse" x1="58.00" y1="0" x2="113.10" y2="0"><stop offset="0.0000" stop-color="#0088ff"/><stop offset="0.6250" stop-color="#00c8ff"/><stop offset="1.0000" stop-color="#00ffff"/></linearGradient><linearGradient id="p3_g4" gradientUnits="userSpaceOnUse" x1="209.54" y1="0" x2="243.98" y2="0"><stop offset="0.0000" stop-color="#00c8ff"/><stop offset="0.4000" stop-color="#0050ff"/><stop offset="0.6000" stop-color="#0010f0"/><stop offset="0.9000" stop-color="#0088ff"/><stop offset="1.0000" stop-color="#00c8ff"/></linearGradient><linearGradient id="p3_g5" gradientUnits="userSpaceOnUse" x1="261.20" y1="0" x2="302.52" y2="0"><stop offset="0.0000" stop-color="#00c8ff"/><stop offset="0.5000" stop-color="#0088ff"/><stop offset="0.9167" stop-color="#00c8ff"/><stop offset="1.0000" stop-color="#00c8ff"/></linearGradient><linearGradient id="p3_g6" gradientUnits="userSpaceOnUse" x1="76.94" y1="0" x2="113.10" y2="0"><stop offset="0.0000" stop-color="#ff8c00"/><stop offset="0.1429" stop-color="#ffff00"/><stop offset="0.2857" stop-color="#a0ff00"/><stop offset="0.5238" stop-color="#00ff50"/><stop offset="1.0000" stop-color="#00ffff"/></linearGradient><linearGradient id="p3_g7" gradientUnits="userSpaceOnUse" x1="113.10" y1="0" x2="149.27" y2="0"><stop offset="0.0000" stop-color="#a0ff00"/><stop offset="0.2857" stop-color="#ffff00"/><stop offset="0.5714" stop-color="#ff8c00"/><stop offset="0.8571" stop-color="#ffff00"/><stop offset="1.0000" stop-color="#a0ff00"/></linearGradient><linearGradient id="p3_g8" gradientUnits="userSpaceOnUse" x1="319.74" y1="0" x2="423.06" y2="0"><stop offset="0.0000" stop-color="#00c8ff"/><stop offset="0.2333" stop-color="#00ffff"/><stop offset="0.4667" stop-color="#00c8ff"/><stop offset="0.6667" stop-color="#00ffff"/><stop offset="0.8333" stop-color="#00c8ff"/><stop offset="1.0000" stop-color="#00c8ff"/></linearGradient><linearGradient id="p3_g9" gradientUnits="userSpaceOnUse" x1="367.96" y1="0" x2="419.62" y2="0"><stop offset="0.0000" stop-color="#ff8c00"/><stop offset="0.1000" stop-color="#ffff00"/><stop offset="0.2000" stop-color="#a0ff00"/><stop offset="0.3333" stop-color="#00ff50"/><stop offset="0.5333" stop-color="#00ffa8"/><stop offset="0.7333" stop-color="#00ff50"/><stop offset="0.8667" stop-color="#a0ff00"/><stop offset="0.9333" stop-color="#ffff00"/><stop offset="1.0000" stop-color="#ff8c00"/></linearGradient><linearGradient id="p3_g10" gradientUnits="userSpaceOnUse" x1="416.18" y1="0" x2="491.94" y2="0"><stop offset="0.0000" stop-color="#00c8ff"/><stop offset="0.2727" stop-color="#00ffa8"/><stop offset="0.4545" stop-color="#00ff50"/><stop offset="0.6364" stop-color="#a0ff00"/><stop offset="0.7727" stop-color="#ffff00"/><stop offset="0.9091" stop-color="#ff8c00"/><stop offset="1.0000" stop-color="#ff8c00"/></linearGradient><linearGradient id="p3_g11" gradientUnits="userSpaceOnUse" x1="426.51" y1="0" x2="485.06" y2="0"><stop offset="0.0000" stop-color="#ffff00"/><stop offset="0.1176" stop-color="#ff8c00"/><stop offset="0.2353" stop-color="#ffff00"/><stop offset="0.3529" stop-color="#00ff50"/><stop offset="0.4412" stop-color="#00ffff"/><stop offset="0.5294" stop-color="#0050ff"/><stop offset="0.6176" stop-color="#00ffff"/><stop offset="0.7353" stop-color="#00ff50"/><stop offset="0.8824" stop-color="#ffff00"/><stop offset="1.0000" stop-color="#ff8c00"/></linearGradient><linearGradient id="p3_g12" gradientUnits="userSpaceOnUse" x1="481.61" y1="0" x2="595.26" y2="0"><stop offset="0.0000" stop-color="#a0ff00"/><stop offset="0.1515" stop-color="#00ff50"/><stop offset="0.3333" stop-color="#a0ff00"/><stop offset="0.5152" stop-color="#ffff00"/><stop offset="0.6970" stop-color="#a0ff00"/><stop offset="0.8788" stop-color="#00ff50"/><stop offset="1.0000" stop-color="#a0ff00"/></linearGradient><linearGradient id="p3_g13" gradientUnits="userSpaceOnUse" x1="163.04" y1="0" x2="178.54" y2="0"><stop offset="0.0000" stop-color="#ff0a00"/><stop offset="0.2222" stop-color="#ff8c00"/><stop offset="0.4444" stop-color="#ffff00"/><stop offset="0.7778" stop-color="#a0ff00"/><stop offset="1.0000" stop-color="#00ffff"/></linearGradient><linearGradient id="p3_g14" gradientUnits="userSpaceOnUse" x1="178.54" y1="0" x2="212.98" y2="0"><stop offset="0.0000" stop-color="#00ffff"/><stop offset="1.0000" stop-color="#00ffff"/></linearGradient><linearGradient id="p3_g15" gradientUnits="userSpaceOnUse" x1="211.26" y1="0" x2="243.98" y2="0"><stop offset="0.0000" stop-color="#00ffff"/><stop offset="0.1053" stop-color="#00ff50"/><stop offset="0.2105" stop-color="#ffff00"/><stop offset="0.3684" stop-color="#ff8c00"/><stop offset="0.5789" stop-color="#ff4800"/><stop offset="0.7368" stop-color="#ff8c00"/><stop offset="0.8947" stop-color="#ffff00"/><stop offset="1.0000" stop-color="#a0ff00"/></linearGradient><linearGradient id="p3_g16" gradientUnits="userSpaceOnUse" x1="243.98" y1="0" x2="273.25" y2="0"><stop offset="0.0000" stop-color="#a0ff00"/><stop offset="0.1765" stop-color="#00ff50"/><stop offset="0.4118" stop-color="#00ff50"/><stop offset="0.6471" stop-color="#a0ff00"/><stop offset="0.7647" stop-color="#ffff00"/><stop offset="1.0000" stop-color="#ff8c00"/></linearGradient><linearGradient id="p3_g17" gradientUnits="userSpaceOnUse" x1="309.41" y1="0" x2="319.74" y2="0"><stop offset="0.0000" stop-color="#ff0a00"/><stop offset="1.0000" stop-color="#ff0a00"/></linearGradient><linearGradient id="p3_g18" gradientUnits="userSpaceOnUse" x1="307.69" y1="0" x2="314.58" y2="0"><stop offset="0.0000" stop-color="#ffff00"/><stop offset="0.5000" stop-color="#ff8c00"/><stop offset="1.0000" stop-color="#ff0a00"/></linearGradient><linearGradient id="p3_g19" gradientUnits="userSpaceOnUse" x1="490.22" y1="0" x2="509.16" y2="0"><stop offset="0.0000" stop-color="#ff4800"/><stop offset="0.4545" stop-color="#ff8c00"/><stop offset="1.0000" stop-color="#ff8c00"/></linearGradient><linearGradient id="p3_g20" gradientUnits="userSpaceOnUse" x1="502.28" y1="0" x2="560.82" y2="0"><stop offset="0.0000" stop-color="#ff8c00"/><stop offset="0.3529" stop-color="#ff8c00"/><stop offset="0.6471" stop-color="#ff8c00"/><stop offset="1.0000" stop-color="#ff4800"/></linearGradient><linearGradient id="p3_g21" gradientUnits="userSpaceOnUse" x1="560.82" y1="0" x2="574.60" y2="0"><stop offset="0.0000" stop-color="#ff4800"/><stop offset="1.0000" stop-color="#ff0a00"/></linearGradient><linearGradient id="p3_g22" gradientUnits="userSpaceOnUse" x1="516.05" y1="0" x2="574.60" y2="0"><stop offset="0.0000" stop-color="#ff8c00"/><stop offset="0.0882" stop-color="#ffff00"/><stop offset="0.1765" stop-color="#a0ff00"/><stop offset="0.2647" stop-color="#00ff50"/><stop offset="0.4118" stop-color="#00ffa8"/><stop offset="0.5882" stop-color="#00ffa8"/><stop offset="0.7059" stop-color="#00ff50"/><stop offset="0.8235" stop-color="#ffff00"/><stop offset="0.9412" stop-color="#ff8c00"/><stop offset="1.0000" stop-color="#ff4800"/></linearGradient><linearGradient id="p3_g23" gradientUnits="userSpaceOnUse" x1="538.44" y1="0" x2="574.60" y2="0"><stop offset="0.0000" stop-color="#a0ff00"/><stop offset="0.1429" stop-color="#00ff50"/><stop offset="0.3810" stop-color="#00ffa8"/><stop offset="0.5714" stop-color="#00ff50"/><stop offset="0.7619" stop-color="#ffff00"/><stop offset="1.0000" stop-color="#ff8c00"/></linearGradient><linearGradient id="p3_g24" gradientUnits="userSpaceOnUse" x1="471.28" y1="0" x2="516.05" y2="0"><stop offset="0.0000" stop-color="#a0ff00"/><stop offset="0.2308" stop-color="#00ffff"/><stop offset="0.4615" stop-color="#00ffa8"/><stop offset="0.6923" stop-color="#ffff00"/><stop offset="0.8462" stop-color="#ff8c00"/><stop offset="1.0000" stop-color="#ff8c00"/></linearGradient><linearGradient id="p3_g25" gradientUnits="userSpaceOnUse" x1="502.28" y1="0" x2="536.72" y2="0"><stop offset="0.0000" stop-color="#ff8c00"/><stop offset="0.1000" stop-color="#00ffa8"/><stop offset="0.3000" stop-color="#00c8ff"/><stop offset="0.5000" stop-color="#00ffff"/><stop offset="0.8000" stop-color="#ffff00"/><stop offset="1.0000" stop-color="#ff8c00"/></linearGradient><linearGradient id="p3_g26" gradientUnits="userSpaceOnUse" x1="557.38" y1="0" x2="588.38" y2="0"><stop offset="0.0000" stop-color="#ffff00"/><stop offset="0.2222" stop-color="#a0ff00"/><stop offset="0.4444" stop-color="#00ffff"/><stop offset="0.6667" stop-color="#00c8ff"/><stop offset="1.0000" stop-color="#ff8c00"/></linearGradient><linearGradient id="p3_g27" gradientUnits="userSpaceOnUse" x1="584.93" y1="0" x2="626.26" y2="0"><stop offset="0.0000" stop-color="#00ffff"/><stop offset="0.1667" stop-color="#00c8ff"/><stop offset="0.4167" stop-color="#00ffa8"/><stop offset="0.5833" stop-color="#a0ff00"/><stop offset="0.7500" stop-color="#ffff00"/><stop offset="1.0000" stop-color="#ff8c00"/></linearGradient><linearGradient id="p3_g28" gradientUnits="userSpaceOnUse" x1="557.38" y1="0" x2="633.15" y2="0"><stop offset="0.0000" stop-color="#ffff00"/><stop offset="0.2273" stop-color="#a0ff00"/><stop offset="0.4091" stop-color="#00ff50"/><stop offset="0.5909" stop-color="#a0ff00"/><stop offset="0.7273" stop-color="#ffff00"/><stop offset="0.8182" stop-color="#ff8c00"/><stop offset="1.0000" stop-color="#ff4800"/></linearGradient><linearGradient id="p3_g29" gradientUnits="userSpaceOnUse" x1="598.71" y1="0" x2="645.89" y2="0"><stop offset="0.0000" stop-color="#00ffff"/><stop offset="0.5839" stop-color="#00ffa8"/><stop offset="1.0000" stop-color="#ffff00"/></linearGradient><clipPath id="p3_clip"><polygon points="58.00,1230.95 58.00,1046.97 71.09,1049.86 89.68,1051.84 108.63,1062.37 134.46,1064.35 157.53,1066.98 182.67,1074.89 201.96,1077.52 229.51,1087.40 245.70,1086.74 254.31,1090.95 272.22,1095.56 284.62,1097.93 303.56,1100.17 318.37,1098.99 337.65,1093.98 363.14,1091.48 384.15,1088.98 395.51,1086.08 407.22,1091.35 430.64,1088.98 463.01,1073.83 497.11,1051.18 510.89,1041.30 520.87,1032.35 539.82,1012.33 553.59,998.50 574.94,980.72 588.38,951.75 634.18,909.60 645.89,906.44 645.89,1230.95"/></clipPath></defs><g clip-path="url(#p3_clip)"><rect x="57.70" y="894.82" width="588.49" height="336.43" fill="#00c8ff"/><rect x="57.70" y="1033.10" width="38.48" height="57.23" fill="url(#p3_g1)"/><rect x="57.70" y="1033.10" width="38.48" height="19.04" fill="#00ffff"/><rect x="95.58" y="1033.10" width="227.90" height="119.13" fill="url(#p3_g2)"/><rect x="57.70" y="1089.73" width="55.70" height="11.14" fill="url(#p3_g3)"/><rect x="209.24" y="1133.19" width="35.04" height="9.82" fill="url(#p3_g4)"/><rect x="260.90" y="1098.95" width="41.93" height="11.14" fill="url(#p3_g5)"/><rect x="76.64" y="1100.27" width="36.76" height="34.84" fill="url(#p3_g6)"/><rect x="112.80" y="1121.34" width="36.76" height="13.77" fill="url(#p3_g7)"/><rect x="319.44" y="1072.61" width="103.92" height="58.81" fill="url(#p3_g8)"/><rect x="367.66" y="1130.82" width="52.26" height="100.43" fill="url(#p3_g9)"/><rect x="415.88" y="1072.61" width="76.37" height="44.06" fill="url(#p3_g10)"/><rect x="426.21" y="1116.07" width="59.15" height="22.99" fill="url(#p3_g11)"/><rect x="481.31" y="894.82" width="114.25" height="244.24" fill="url(#p3_g12)"/><polygon points="58.00,1097.93 76.94,1100.57 76.94,1134.81 164.76,1134.81 164.76,1230.95 58.00,1230.95" fill="#ff0a00"/><polygon points="312.86,1230.95 312.86,1144.03 369.68,1144.03 369.68,1230.95" fill="#ff0a00"/><polygon points="419.62,1230.95 419.62,1123.61 435.12,1123.61 435.12,1138.76 481.61,1138.76 481.61,1125.59 491.94,1125.59 491.94,1066.33 510.89,1043.94 519.50,1038.67 543.60,1022.86 557.38,1004.43 578.04,993.89 584.93,967.55 588.38,958.33 615.93,955.70 629.70,934.62 645.89,928.04 645.89,1230.95" fill="#ff0a00"/><rect x="162.74" y="1134.51" width="16.10" height="96.74" fill="url(#p3_g13)"/><rect x="178.24" y="1134.51" width="35.04" height="96.74" fill="url(#p3_g14)"/><rect x="210.96" y="1146.36" width="33.32" height="84.89" fill="url(#p3_g15)"/><rect x="243.68" y="1146.36" width="29.87" height="84.89" fill="url(#p3_g16)"/><polygon points="271.53,1230.95 271.53,1182.22 295.64,1190.12 311.13,1190.12 311.13,1230.95" fill="#ff0a00"/><rect x="309.11" y="1143.73" width="10.93" height="87.52" fill="url(#p3_g17)"/><rect x="307.39" y="1145.05" width="7.49" height="40.11" fill="url(#p3_g18)"/><rect x="489.92" y="1043.64" width="19.54" height="95.42" fill="url(#p3_g19)"/><rect x="501.98" y="1043.64" width="59.15" height="94.11" fill="url(#p3_g20)"/><rect x="560.52" y="993.59" width="31.60" height="237.66" fill="url(#p3_g21)"/><rect x="515.75" y="1143.07" width="59.15" height="88.18" fill="url(#p3_g22)"/><rect x="538.14" y="1137.14" width="36.76" height="6.53" fill="url(#p3_g23)"/><rect x="470.98" y="1085.65" width="45.37" height="8.24" fill="url(#p3_g24)"/><rect x="501.98" y="1060.76" width="35.04" height="8.50" fill="url(#p3_g25)"/><rect x="557.08" y="1022.56" width="31.60" height="8.50" fill="url(#p3_g26)"/><rect x="584.63" y="972.52" width="41.93" height="8.50" fill="url(#p3_g27)"/><rect x="557.08" y="926.42" width="76.37" height="57.23" fill="url(#p3_g28)"/><rect x="608.74" y="894.82" width="37.45" height="16.40" fill="#00ffa8"/><rect x="608.74" y="910.62" width="37.45" height="11.14" fill="#ff0a00"/><rect x="598.41" y="921.16" width="47.78" height="5.87" fill="url(#p3_g29)"/></g><path d="M58.34,1098.85 C60.30,1099.18 66.95,1099.62 70.05,1100.83 C73.15,1102.04 75.05,1100.72 76.94,1106.10 C78.84,1111.48 79.18,1128.22 81.42,1133.10 C83.66,1137.97 83.94,1134.96 90.37,1135.34 C96.80,1135.71 113.91,1137.05 119.99,1135.34 C126.08,1133.62 124.18,1127.28 126.88,1125.06 C129.58,1122.85 132.73,1121.38 136.18,1122.03 C139.62,1122.69 143.01,1126.42 147.54,1129.01 C152.08,1131.60 160.75,1136.15 163.39,1137.57" fill="none" stroke="#000" stroke-width="4.2" stroke-dasharray="4.2 3.2"/><path d="M212.29,1147.06 C217.46,1147.43 238.12,1148.92 243.29,1149.30" fill="none" stroke="#000" stroke-width="4.2" stroke-dasharray="4.2 3.2"/><path d="M268.08,1181.30 C270.38,1181.67 277.27,1182.02 281.86,1183.54 C286.45,1185.05 291.85,1189.38 295.64,1190.39 C299.42,1191.40 301.95,1191.11 304.59,1189.60 C307.23,1188.08 309.93,1187.66 311.48,1181.30 C313.03,1174.93 312.68,1157.55 313.89,1151.40 C315.09,1145.26 315.73,1146.29 318.71,1144.42 C321.70,1142.56 328.76,1141.15 331.80,1140.21 C334.84,1139.26 333.23,1138.36 336.96,1138.76 C340.69,1139.16 348.04,1141.53 354.18,1142.58 C360.33,1143.63 370.54,1144.66 373.81,1145.08" fill="none" stroke="#000" stroke-width="4.2" stroke-dasharray="4.2 3.2"/><path d="M417.90,1118.61 C419.62,1118.41 425.25,1116.59 428.23,1117.42 C431.21,1118.26 433.34,1120.67 435.81,1123.61 C438.27,1126.56 440.17,1132.55 443.04,1135.07 C445.91,1137.60 448.43,1138.34 453.03,1138.76 C457.62,1139.18 465.54,1140.10 470.59,1137.57 C475.64,1135.05 479.55,1130.11 483.33,1123.61 C487.12,1117.12 489.99,1106.54 493.32,1098.59 C496.65,1090.65 500.38,1083.91 503.31,1075.94 C506.24,1067.97 507.96,1056.23 510.89,1050.78 C513.81,1045.34 517.09,1045.36 520.87,1043.28 C524.66,1041.19 529.83,1041.63 533.62,1038.27 C537.40,1034.91 539.82,1028.57 543.60,1023.13 C547.39,1017.68 551.75,1009.78 556.35,1005.61 C560.94,1001.44 566.97,1001.44 571.16,998.10 C575.35,994.77 578.90,991.01 581.49,985.59 C584.07,980.17 585.16,970.16 586.65,965.57 C588.15,960.99 585.45,959.74 590.44,958.07 C595.44,956.40 610.59,958.48 616.62,955.57 C622.64,952.65 623.28,944.92 626.60,940.55 C629.93,936.18 633.38,931.66 636.59,929.36 C639.81,927.05 644.34,927.16 645.89,926.72" fill="none" stroke="#000" stroke-width="4.2" stroke-dasharray="4.2 3.2"/><polyline points="58.00,1046.97 71.09,1049.86 89.68,1051.84 108.63,1062.37 134.46,1064.35 157.53,1066.98 182.67,1074.89 201.96,1077.52 229.51,1087.40 245.70,1086.74 254.31,1090.95 272.22,1095.56 284.62,1097.93 303.56,1100.17 318.37,1098.99 337.65,1093.98 363.14,1091.48 384.15,1088.98 395.51,1086.08 407.22,1091.35 430.64,1088.98 463.01,1073.83 497.11,1051.18 510.89,1041.30 520.87,1032.35 539.82,1012.33 553.59,998.50 574.94,980.72 588.38,951.75 634.18,909.60 645.89,906.44" fill="none" stroke="#333" stroke-width="0.6"/><line x1="58.00" y1="899.07" x2="58.00" y2="1231.75" stroke="#000" stroke-width="1.6"/><line x1="57.20" y1="1230.95" x2="645.89" y2="1230.95" stroke="#000" stroke-width="1.6"/><line x1="645.89" y1="906.44" x2="645.89" y2="1020.23" stroke="#000" stroke-width="1.6"/><line x1="53.50" y1="901.70" x2="58.00" y2="901.70" stroke="#000" stroke-width="1"/><text x="52.00" y="905.48" font-size="10.50" text-anchor="end" fill="#222" font-weight="normal" >170</text><line x1="53.50" y1="967.55" x2="58.00" y2="967.55" stroke="#000" stroke-width="1"/><text x="52.00" y="971.33" font-size="10.50" text-anchor="end" fill="#222" font-weight="normal" >120</text><line x1="53.50" y1="1033.40" x2="58.00" y2="1033.40" stroke="#000" stroke-width="1"/><text x="52.00" y="1037.18" font-size="10.50" text-anchor="end" fill="#222" font-weight="normal" >70</text><line x1="53.50" y1="1099.25" x2="58.00" y2="1099.25" stroke="#000" stroke-width="1"/><text x="52.00" y="1103.03" font-size="10.50" text-anchor="end" fill="#222" font-weight="normal" >20</text><line x1="53.50" y1="1165.10" x2="58.00" y2="1165.10" stroke="#000" stroke-width="1"/><text x="52.00" y="1168.88" font-size="10.50" text-anchor="end" fill="#222" font-weight="normal" >-30</text><line x1="53.50" y1="1230.95" x2="58.00" y2="1230.95" stroke="#000" stroke-width="1"/><text x="52.00" y="1234.73" font-size="10.50" text-anchor="end" fill="#222" font-weight="normal" >-80</text><line x1="58.00" y1="1230.95" x2="58.00" y2="1235.45" stroke="#000" stroke-width="1"/><text x="58.00" y="1247.50" font-size="11.00" text-anchor="middle" fill="#222" font-weight="normal" >0</text><line x1="92.44" y1="1230.95" x2="92.44" y2="1235.45" stroke="#000" stroke-width="1"/><text x="92.44" y="1247.50" font-size="11.00" text-anchor="middle" fill="#222" font-weight="normal" >1</text><line x1="126.88" y1="1230.95" x2="126.88" y2="1235.45" stroke="#000" stroke-width="1"/><text x="126.88" y="1247.50" font-size="11.00" text-anchor="middle" fill="#222" font-weight="normal" >2</text><line x1="161.32" y1="1230.95" x2="161.32" y2="1235.45" stroke="#000" stroke-width="1"/><text x="161.32" y="1247.50" font-size="11.00" text-anchor="middle" fill="#222" font-weight="normal" >3</text><line x1="195.76" y1="1230.95" x2="195.76" y2="1235.45" stroke="#000" stroke-width="1"/><text x="195.76" y="1247.50" font-size="11.00" text-anchor="middle" fill="#222" font-weight="normal" >4</text><line x1="230.20" y1="1230.95" x2="230.20" y2="1235.45" stroke="#000" stroke-width="1"/><text x="230.20" y="1247.50" font-size="11.00" text-anchor="middle" fill="#222" font-weight="normal" >5</text><line x1="264.64" y1="1230.95" x2="264.64" y2="1235.45" stroke="#000" stroke-width="1"/><text x="264.64" y="1247.50" font-size="11.00" text-anchor="middle" fill="#222" font-weight="normal" >6</text><line x1="299.08" y1="1230.95" x2="299.08" y2="1235.45" stroke="#000" stroke-width="1"/><text x="299.08" y="1247.50" font-size="11.00" text-anchor="middle" fill="#222" font-weight="normal" >7</text><line x1="333.52" y1="1230.95" x2="333.52" y2="1235.45" stroke="#000" stroke-width="1"/><text x="333.52" y="1247.50" font-size="11.00" text-anchor="middle" fill="#222" font-weight="normal" >8</text><line x1="367.96" y1="1230.95" x2="367.96" y2="1235.45" stroke="#000" stroke-width="1"/><text x="367.96" y="1247.50" font-size="11.00" text-anchor="middle" fill="#222" font-weight="normal" >9</text><line x1="402.40" y1="1230.95" x2="402.40" y2="1235.45" stroke="#000" stroke-width="1"/><text x="402.40" y="1247.50" font-size="11.00" text-anchor="middle" fill="#222" font-weight="normal" >10</text><line x1="436.84" y1="1230.95" x2="436.84" y2="1235.45" stroke="#000" stroke-width="1"/><text x="436.84" y="1247.50" font-size="11.00" text-anchor="middle" fill="#222" font-weight="normal" >11</text><line x1="471.28" y1="1230.95" x2="471.28" y2="1235.45" stroke="#000" stroke-width="1"/><text x="471.28" y="1247.50" font-size="11.00" text-anchor="middle" fill="#222" font-weight="normal" >12</text><line x1="505.72" y1="1230.95" x2="505.72" y2="1235.45" stroke="#000" stroke-width="1"/><text x="505.72" y="1247.50" font-size="11.00" text-anchor="middle" fill="#222" font-weight="normal" >13</text><line x1="540.16" y1="1230.95" x2="540.16" y2="1235.45" stroke="#000" stroke-width="1"/><text x="540.16" y="1247.50" font-size="11.00" text-anchor="middle" fill="#222" font-weight="normal" >14</text><line x1="574.60" y1="1230.95" x2="574.60" y2="1235.45" stroke="#000" stroke-width="1"/><text x="574.60" y="1247.50" font-size="11.00" text-anchor="middle" fill="#222" font-weight="normal" >15</text><line x1="609.04" y1="1230.95" x2="609.04" y2="1235.45" stroke="#000" stroke-width="1"/><text x="609.04" y="1247.50" font-size="11.00" text-anchor="middle" fill="#222" font-weight="normal" >16</text><rect x="86.24" y="1053.15" width="7.92" height="125.12" fill="none" stroke="#6a6a6a" stroke-width="1.4"/><rect x="85.74" y="1052.65" width="8.92" height="6.00" fill="#000"/><rect x="243.98" y="1087.40" width="7.92" height="143.55" fill="none" stroke="#6a6a6a" stroke-width="1.4"/><line x1="243.98" y1="1095.32" x2="251.90" y2="1095.32" stroke="#222" stroke-width="1.3"/><rect x="243.98" y="1087.40" width="7.92" height="7.92" fill="none" stroke="#222" stroke-width="1.3"/><rect x="387.59" y="1085.95" width="9.30" height="145.00" fill="none" stroke="#6a6a6a" stroke-width="1.4"/><line x1="387.59" y1="1095.25" x2="396.89" y2="1095.25" stroke="#222" stroke-width="1.3"/><rect x="387.59" y="1085.95" width="9.30" height="9.30" fill="none" stroke="#222" stroke-width="1.3"/><rect x="503.31" y="1039.46" width="9.30" height="138.81" fill="none" stroke="#6a6a6a" stroke-width="1.4"/><line x1="503.31" y1="1048.76" x2="512.61" y2="1048.76" stroke="#222" stroke-width="1.3"/><rect x="503.31" y="1039.46" width="9.30" height="9.30" fill="none" stroke="#222" stroke-width="1.3"/><polygon points="64.84,1041.47 77.34,1041.47 71.09,1051.97" fill="#000"/><text transform="translate(73.09 1036.47) scale(1 1.000) rotate(-75.0)" font-size="15.80" font-weight="normal" fill="#000" text-anchor="start">126B</text><polygon points="102.38,1053.98 114.88,1053.98 108.63,1064.48" fill="#000"/><text transform="translate(110.63 1048.98) scale(1 1.000) rotate(-75.0)" font-size="15.80" font-weight="normal" fill="#000" text-anchor="start">125B</text><polygon points="128.21,1056.22 140.71,1056.22 134.46,1066.72" fill="#000"/><text transform="translate(136.46 1051.22) scale(1 1.000) rotate(-75.0)" font-size="15.80" font-weight="normal" fill="#000" text-anchor="start">124B</text><polygon points="151.28,1058.59 163.78,1058.59 157.53,1069.09" fill="#000"/><text transform="translate(159.53 1053.59) scale(1 1.000) rotate(-75.0)" font-size="15.80" font-weight="normal" fill="#000" text-anchor="start">123B</text><polygon points="176.42,1066.49 188.92,1066.49 182.67,1076.99" fill="#000"/><text transform="translate(184.67 1061.49) scale(1 1.000) rotate(-75.0)" font-size="15.80" font-weight="normal" fill="#000" text-anchor="start">122B</text><polygon points="195.71,1068.86 208.21,1068.86 201.96,1079.36" fill="#000"/><text transform="translate(203.96 1063.86) scale(1 1.000) rotate(-75.0)" font-size="15.80" font-weight="normal" fill="#000" text-anchor="start">121B</text><polygon points="223.26,1079.14 235.76,1079.14 229.51,1089.64" fill="#000"/><text transform="translate(231.51 1074.14) scale(1 1.000) rotate(-75.0)" font-size="15.80" font-weight="normal" fill="#000" text-anchor="start">120C</text><polygon points="248.06,1082.56 260.56,1082.56 254.31,1093.06" fill="#000"/><text transform="translate(256.31 1077.56) scale(1 1.000) rotate(-75.0)" font-size="15.80" font-weight="normal" fill="#000" text-anchor="start">A059B</text><polygon points="265.97,1087.17 278.47,1087.17 272.22,1097.67" fill="#000"/><text transform="translate(274.22 1082.17) scale(1 1.000) rotate(-75.0)" font-size="15.80" font-weight="normal" fill="#000" text-anchor="start">119B</text><polygon points="278.37,1089.41 290.87,1089.41 284.62,1099.91" fill="#000"/><text transform="translate(286.62 1084.41) scale(1 1.000) rotate(-75.0)" font-size="15.80" font-weight="normal" fill="#000" text-anchor="start">118B</text><polygon points="297.31,1091.78 309.81,1091.78 303.56,1102.28" fill="#000"/><text transform="translate(305.56 1086.78) scale(1 1.000) rotate(-75.0)" font-size="15.80" font-weight="normal" fill="#000" text-anchor="start">074C</text><polygon points="312.12,1090.59 324.62,1090.59 318.37,1101.09" fill="#000"/><text transform="translate(320.37 1085.59) scale(1 1.000) rotate(-75.0)" font-size="15.80" font-weight="normal" fill="#000" text-anchor="start">117B</text><polygon points="331.40,1085.59 343.90,1085.59 337.65,1096.09" fill="#000"/><text transform="translate(339.65 1080.59) scale(1 1.000) rotate(-75.0)" font-size="15.80" font-weight="normal" fill="#000" text-anchor="start">116B</text><polygon points="356.89,1083.09 369.39,1083.09 363.14,1093.59" fill="#000"/><text transform="translate(365.14 1078.09) scale(1 1.000) rotate(-75.0)" font-size="15.80" font-weight="normal" fill="#000" text-anchor="start">115B</text><polygon points="377.90,1080.58 390.40,1080.58 384.15,1091.08" fill="#000"/><text transform="translate(386.15 1075.58) scale(1 1.000) rotate(-75.0)" font-size="15.80" font-weight="normal" fill="#000" text-anchor="start">114B</text><polygon points="400.97,1083.09 413.47,1083.09 407.22,1093.59" fill="#000"/><text transform="translate(409.22 1078.09) scale(1 1.000) rotate(-75.0)" font-size="15.80" font-weight="normal" fill="#000" text-anchor="start">113B</text><polygon points="424.39,1080.58 436.89,1080.58 430.64,1091.08" fill="#000"/><text transform="translate(432.64 1075.58) scale(1 1.000) rotate(-75.0)" font-size="15.80" font-weight="normal" fill="#000" text-anchor="start">112C</text><polygon points="456.76,1065.44 469.26,1065.44 463.01,1075.94" fill="#000"/><text transform="translate(465.01 1060.44) scale(1 1.000) rotate(-75.0)" font-size="15.80" font-weight="normal" fill="#000" text-anchor="start">111B</text><polygon points="490.86,1042.79 503.36,1042.79 497.11,1053.29" fill="#000"/><text transform="translate(499.11 1037.79) scale(1 1.000) rotate(-75.0)" font-size="15.80" font-weight="normal" fill="#000" text-anchor="start">110B</text><polygon points="514.62,1023.95 527.12,1023.95 520.87,1034.45" fill="#000"/><text transform="translate(522.87 1018.95) scale(1 1.000) rotate(-75.0)" font-size="15.80" font-weight="normal" fill="#000" text-anchor="start">109B</text><polygon points="533.57,1003.80 546.07,1003.80 539.82,1014.30" fill="#000"/><text transform="translate(541.82 998.80) scale(1 1.000) rotate(-75.0)" font-size="15.80" font-weight="normal" fill="#000" text-anchor="start">097C</text><polygon points="547.34,989.98 559.84,989.98 553.59,1000.48" fill="#000"/><text transform="translate(555.59 984.98) scale(1 1.000) rotate(-75.0)" font-size="15.80" font-weight="normal" fill="#000" text-anchor="start">098B</text><polygon points="568.69,972.46 581.19,972.46 574.94,982.96" fill="#000"/><text transform="translate(576.94 967.46) scale(1 1.000) rotate(-75.0)" font-size="15.80" font-weight="normal" fill="#000" text-anchor="start">108B</text><polygon points="582.13,943.48 594.63,943.48 588.38,953.98" fill="#000"/><text transform="translate(590.38 938.48) scale(1 1.000) rotate(-75.0)" font-size="15.80" font-weight="normal" fill="#000" text-anchor="start">107B</text><polygon points="627.93,900.95 640.43,900.95 634.18,911.45" fill="#000"/><text transform="translate(636.18 895.95) scale(1 1.000) rotate(-75.0)" font-size="15.80" font-weight="normal" fill="#000" text-anchor="start">105B</text><text transform="translate(91.53 1050.15) scale(1 1.000) rotate(-75.0)" font-size="15.80" font-weight="normal" fill="#4a4ad8" text-anchor="start">L100</text><text transform="translate(248.92 1084.40) scale(1 1.000) rotate(-75.0)" font-size="15.80" font-weight="normal" fill="#4a4ad8" text-anchor="start">Sc119</text><text transform="translate(393.57 1082.95) scale(1 1.000) rotate(-75.0)" font-size="15.80" font-weight="normal" fill="#4a4ad8" text-anchor="start">Sc136</text><text transform="translate(509.29 1036.46) scale(1 1.000) rotate(-75.0)" font-size="15.80" font-weight="normal" fill="#4a4ad8" text-anchor="start">Sc100</text><text transform="translate(69.70 896.00) scale(1.0130 1)" font-size="18.26" font-weight="normal" fill="#000">NW</text><text transform="translate(70.80 949.60) scale(0.9449 1)" font-size="32.57" font-weight="bold" fill="#000">P3</text><text transform="translate(542.30 898.80) scale(0.9984 1)" font-size="17.86" font-weight="normal" fill="#000">SE</text><text transform="translate(578.70 894.50) scale(1.0343 1)" font-size="13.10" font-weight="normal" fill="#000">V/H: 38</text><text transform="translate(541.00 1198.90) scale(0.9049 1)" font-size="25.00" font-weight="bold" fill="#000">?</text>
<defs><linearGradient id="p7_g1" gradientUnits="userSpaceOnUse" x1="712.30" y1="0" x2="767.92" y2="0"><stop offset="0.0000" stop-color="#0088ff"/><stop offset="0.4444" stop-color="#00c8ff"/><stop offset="0.6667" stop-color="#00ffff"/><stop offset="1.0000" stop-color="#00ffa8"/></linearGradient><linearGradient id="p7_g2" gradientUnits="userSpaceOnUse" x1="712.30" y1="0" x2="835.90" y2="0"><stop offset="0.0000" stop-color="#0088ff"/><stop offset="0.3000" stop-color="#0050ff"/><stop offset="0.5500" stop-color="#0088ff"/><stop offset="0.8000" stop-color="#00c8ff"/><stop offset="0.9500" stop-color="#00ffff"/><stop offset="1.0000" stop-color="#00ffa8"/></linearGradient><linearGradient id="p7_g3" gradientUnits="userSpaceOnUse" x1="835.90" y1="0" x2="891.52" y2="0"><stop offset="0.0000" stop-color="#00ffa8"/><stop offset="0.4444" stop-color="#00ff50"/><stop offset="1.0000" stop-color="#00ff50"/></linearGradient><linearGradient id="p7_g4" gradientUnits="userSpaceOnUse" x1="885.34" y1="0" x2="953.32" y2="0"><stop offset="0.0000" stop-color="#00ff50"/><stop offset="1.0000" stop-color="#00ff50"/></linearGradient><linearGradient id="p7_g5" gradientUnits="userSpaceOnUse" x1="872.98" y1="0" x2="940.96" y2="0"><stop offset="0.0000" stop-color="#ff0a00"/><stop offset="0.1091" stop-color="#ff8c00"/><stop offset="0.2000" stop-color="#ffff00"/><stop offset="0.3091" stop-color="#a0ff00"/><stop offset="0.5455" stop-color="#50ff00"/><stop offset="0.8182" stop-color="#50ff00"/><stop offset="1.0000" stop-color="#00ff50"/></linearGradient><linearGradient id="p7_g6" gradientUnits="userSpaceOnUse" x1="939.72" y1="0" x2="974.33" y2="0"><stop offset="0.0000" stop-color="#00ff50"/><stop offset="0.2143" stop-color="#00ffa8"/><stop offset="0.3929" stop-color="#00ffff"/><stop offset="0.5714" stop-color="#00c8ff"/><stop offset="0.7500" stop-color="#00ffff"/><stop offset="1.0000" stop-color="#00ff50"/></linearGradient><linearGradient id="p7_g7" gradientUnits="userSpaceOnUse" x1="971.86" y1="0" x2="1002.76" y2="0"><stop offset="0.0000" stop-color="#00ff50"/><stop offset="0.4000" stop-color="#50ff00"/><stop offset="1.0000" stop-color="#a0ff00"/></linearGradient><linearGradient id="p7_g8" gradientUnits="userSpaceOnUse" x1="1002.76" y1="0" x2="1070.74" y2="0"><stop offset="0.0000" stop-color="#a0ff00"/><stop offset="0.1818" stop-color="#ffff00"/><stop offset="0.4545" stop-color="#ffff00"/><stop offset="0.6364" stop-color="#a0ff00"/><stop offset="0.8182" stop-color="#00ff50"/><stop offset="1.0000" stop-color="#00ffa8"/></linearGradient><linearGradient id="p7_g9" gradientUnits="userSpaceOnUse" x1="1052.20" y1="0" x2="1107.82" y2="0"><stop offset="0.0000" stop-color="#00ffa8"/><stop offset="0.2222" stop-color="#00c8ff"/><stop offset="0.5556" stop-color="#00ffff"/><stop offset="1.0000" stop-color="#00ffa8"/></linearGradient><linearGradient id="p7_g10" gradientUnits="userSpaceOnUse" x1="1018.83" y1="0" x2="1064.56" y2="0"><stop offset="0.0000" stop-color="#00ff50"/><stop offset="0.0541" stop-color="#ff8c00"/><stop offset="0.4595" stop-color="#ffff00"/><stop offset="0.8649" stop-color="#ff8c00"/><stop offset="1.0000" stop-color="#ff0a00"/></linearGradient><linearGradient id="p7_g11" gradientUnits="userSpaceOnUse" x1="1021.30" y1="0" x2="1052.20" y2="0"><stop offset="0.0000" stop-color="#0050ff"/><stop offset="0.4000" stop-color="#00c8ff"/><stop offset="1.0000" stop-color="#00ffff"/></linearGradient><linearGradient id="p7_g12" gradientUnits="userSpaceOnUse" x1="1083.10" y1="0" x2="1151.08" y2="0"><stop offset="0.0000" stop-color="#ff0a00"/><stop offset="0.0727" stop-color="#ff8c00"/><stop offset="0.1818" stop-color="#ffff00"/><stop offset="0.3273" stop-color="#a0ff00"/><stop offset="0.4909" stop-color="#00ff50"/><stop offset="0.6545" stop-color="#a0ff00"/><stop offset="0.8000" stop-color="#ffff00"/><stop offset="0.9091" stop-color="#ff8c00"/><stop offset="1.0000" stop-color="#ff0a00"/></linearGradient><linearGradient id="p7_g13" gradientUnits="userSpaceOnUse" x1="1157.26" y1="0" x2="1200.52" y2="0"><stop offset="0.0000" stop-color="#00ffa8"/><stop offset="1.0000" stop-color="#00ffa8"/></linearGradient><linearGradient id="p7_g14" gradientUnits="userSpaceOnUse" x1="1159.73" y1="0" x2="1200.52" y2="0"><stop offset="0.0000" stop-color="#a0ff00"/><stop offset="0.2424" stop-color="#00ff50"/><stop offset="0.5455" stop-color="#50ff00"/><stop offset="0.6970" stop-color="#ffff00"/><stop offset="0.8485" stop-color="#ff8c00"/><stop offset="1.0000" stop-color="#ff0a00"/></linearGradient><linearGradient id="p7_g15" gradientUnits="userSpaceOnUse" x1="1200.52" y1="0" x2="1225.24" y2="0"><stop offset="0.0000" stop-color="#00ffa8"/><stop offset="0.2500" stop-color="#00ffff"/><stop offset="0.7500" stop-color="#00ffff"/><stop offset="1.0000" stop-color="#00ffa8"/></linearGradient><linearGradient id="p7_g16" gradientUnits="userSpaceOnUse" x1="1243.78" y1="0" x2="1274.68" y2="0"><stop offset="0.0000" stop-color="#00ffa8"/><stop offset="0.2000" stop-color="#a0ff00"/><stop offset="0.6000" stop-color="#ffff00"/><stop offset="1.0000" stop-color="#ff8c00"/></linearGradient><linearGradient id="p7_g17" gradientUnits="userSpaceOnUse" x1="1262.32" y1="0" x2="1291.98" y2="0"><stop offset="0.0000" stop-color="#ffff00"/><stop offset="0.4167" stop-color="#ffc000"/><stop offset="1.0000" stop-color="#ff8c00"/></linearGradient><linearGradient id="p7_g18" gradientUnits="userSpaceOnUse" x1="817.36" y1="0" x2="872.98" y2="0"><stop offset="0.0000" stop-color="#ff8c00"/><stop offset="0.2222" stop-color="#ffff00"/><stop offset="0.4444" stop-color="#a0ff00"/><stop offset="0.6667" stop-color="#ffff00"/><stop offset="1.0000" stop-color="#ff8c00"/></linearGradient><linearGradient id="p7_g19" gradientUnits="userSpaceOnUse" x1="984.22" y1="0" x2="1015.12" y2="0"><stop offset="0.0000" stop-color="#ffff00"/><stop offset="0.4000" stop-color="#ff8c00"/><stop offset="1.0000" stop-color="#ff0a00"/></linearGradient><linearGradient id="p7_g20" gradientUnits="userSpaceOnUse" x1="1144.90" y1="0" x2="1157.26" y2="0"><stop offset="0.0000" stop-color="#ff0a00"/><stop offset="1.0000" stop-color="#ff0a00"/></linearGradient><linearGradient id="p7_g21" gradientUnits="userSpaceOnUse" x1="1237.60" y1="0" x2="1262.32" y2="0"><stop offset="0.0000" stop-color="#ffff00"/><stop offset="1.0000" stop-color="#ff8c00"/></linearGradient><clipPath id="p7_clip"><polygon points="712.30,1241.30 712.30,976.59 786.46,976.59 835.90,975.37 897.70,973.75 959.50,973.75 991.64,968.87 1021.30,966.84 1065.80,969.69 1120.18,968.87 1153.55,970.90 1169.62,966.84 1219.06,965.63 1249.96,961.16 1268.50,946.95 1277.15,935.18 1291.98,935.18 1291.98,1241.30"/></clipPath></defs><g clip-path="url(#p7_clip)"><rect x="712.00" y="916.20" width="580.28" height="325.40" fill="#00ffa8"/><rect x="712.00" y="1016.89" width="56.22" height="14.61" fill="url(#p7_g1)"/><rect x="712.00" y="1030.89" width="124.20" height="31.66" fill="url(#p7_g2)"/><rect x="835.60" y="1030.89" width="56.22" height="38.15" fill="url(#p7_g3)"/><rect x="885.04" y="1042.06" width="68.58" height="16.84" fill="url(#p7_g4)"/><rect x="872.68" y="1058.30" width="68.58" height="183.30" fill="url(#p7_g5)"/><rect x="939.42" y="1052.21" width="35.21" height="189.39" fill="url(#p7_g6)"/><rect x="971.56" y="966.95" width="31.50" height="274.65" fill="url(#p7_g7)"/><rect x="1002.46" y="956.80" width="68.58" height="106.16" fill="url(#p7_g8)"/><rect x="1051.90" y="1052.21" width="56.22" height="10.75" fill="url(#p7_g9)"/><rect x="1018.53" y="1062.36" width="46.33" height="31.05" fill="url(#p7_g10)"/><rect x="1021.00" y="1076.57" width="31.50" height="6.69" fill="url(#p7_g11)"/><rect x="1021.00" y="1076.57" width="6.78" height="22.93" fill="#0050ff"/><rect x="1082.80" y="1060.33" width="68.58" height="169.09" fill="url(#p7_g12)"/><rect x="1156.96" y="1038.00" width="43.86" height="59.47" fill="url(#p7_g13)"/><rect x="1159.43" y="1096.87" width="41.39" height="144.73" fill="url(#p7_g14)"/><rect x="1187.86" y="956.80" width="62.40" height="112.25" fill="#00ffa8"/><rect x="1200.22" y="977.10" width="25.32" height="6.69" fill="url(#p7_g15)"/><rect x="1243.48" y="936.50" width="31.50" height="116.31" fill="url(#p7_g16)"/><rect x="1262.02" y="926.35" width="30.26" height="31.05" fill="url(#p7_g17)"/><polygon points="712.30,1056.57 817.36,1056.57 817.36,1082.96 872.98,1082.96 872.98,1066.72 876.69,1066.72 876.69,1241.30 712.30,1241.30" fill="#ff0a00"/><polygon points="953.32,1241.30 953.32,1191.57 984.22,1191.57 984.22,1162.13 1002.76,1162.13 1002.76,1139.80 1015.12,1139.80 1015.12,1093.11 1027.48,1093.11 1027.48,1068.75 1064.56,1068.75 1064.56,1046.42 1083.10,1046.42 1083.10,1241.30" fill="#ff0a00"/><polygon points="1144.90,1241.30 1144.90,1062.66 1159.73,1062.66 1159.73,1225.06 1179.51,1225.06 1179.51,1241.30" fill="#ff0a00"/><polygon points="1196.81,1241.30 1196.81,1061.64 1212.88,1061.64 1237.60,1068.75 1237.60,1034.24 1262.32,1018.00 1262.32,957.10 1291.98,957.10 1291.98,1241.30" fill="#ff0a00"/><rect x="817.06" y="1066.42" width="56.22" height="16.84" fill="url(#p7_g18)"/><rect x="983.92" y="1139.50" width="31.50" height="51.35" fill="url(#p7_g19)"/><rect x="1144.60" y="1062.36" width="12.96" height="163.00" fill="url(#p7_g20)"/><rect x="1070.44" y="1228.82" width="87.12" height="14.81" fill="#ff0a00"/><rect x="1237.30" y="1017.70" width="25.32" height="16.84" fill="url(#p7_g21)"/></g><path d="M713.54,1055.35 C716.93,1054.98 728.16,1054.47 733.93,1053.12 C739.70,1051.77 743.30,1047.64 748.14,1047.23 C752.99,1046.83 757.62,1049.33 762.98,1050.68 C768.33,1052.04 774.72,1054.37 780.28,1055.35 C785.84,1056.33 790.79,1056.57 796.35,1056.57 C801.91,1056.57 809.94,1054.03 813.65,1055.35 C817.36,1056.67 816.54,1060.33 818.60,1064.49 C820.66,1068.65 822.10,1076.94 826.01,1080.32 C829.93,1083.70 837.55,1084.21 842.08,1084.79 C846.61,1085.36 849.50,1086.41 853.20,1083.77 C856.91,1081.13 860.21,1072.00 864.33,1068.95 C868.45,1065.91 874.22,1066.08 877.92,1065.50 C881.63,1064.93 885.13,1065.50 886.58,1065.50" fill="none" stroke="#000" stroke-width="4.2" stroke-dasharray="4.2 3.2"/><path d="M953.32,1192.17 C956.00,1191.43 964.86,1190.35 969.39,1187.71 C973.92,1185.07 977.42,1180.13 980.51,1176.34 C983.60,1172.55 985.66,1167.41 987.93,1164.97 C990.19,1162.54 991.22,1162.87 994.11,1161.72 C996.99,1160.57 1002.35,1161.52 1005.23,1158.07 C1008.12,1154.62 1009.97,1149.54 1011.41,1141.02 C1012.85,1132.49 1012.65,1115.44 1013.88,1106.91 C1015.12,1098.39 1015.53,1095.55 1018.83,1089.86 C1022.12,1084.18 1027.48,1076.87 1033.66,1072.81 C1039.84,1068.75 1050.35,1069.97 1055.91,1065.50 C1061.47,1061.04 1063.53,1049.87 1067.03,1046.01 C1070.53,1042.16 1073.62,1041.92 1076.92,1042.36 C1080.22,1042.80 1084.75,1043.95 1086.81,1048.65 C1088.87,1053.36 1088.66,1042.60 1089.28,1070.58 C1089.90,1098.56 1088.87,1190.18 1090.52,1216.53 C1092.16,1242.89 1094.02,1226.28 1099.17,1228.71 C1104.32,1231.15 1115.24,1231.56 1121.42,1231.15 C1127.60,1230.74 1133.16,1240.93 1136.25,1226.28 C1139.34,1211.63 1138.10,1172.48 1139.96,1143.25 C1141.81,1114.02 1144.90,1066.69 1147.37,1050.89 C1149.84,1035.09 1152.73,1045.17 1154.79,1048.45 C1156.85,1051.73 1158.70,1054.78 1159.73,1070.58 C1160.76,1086.38 1160.14,1120.14 1160.97,1143.25 C1161.79,1166.36 1161.59,1195.39 1164.68,1209.23 C1167.77,1223.06 1177.04,1223.44 1179.51,1226.28" fill="none" stroke="#000" stroke-width="4.2" stroke-dasharray="4.2 3.2"/><path d="M1196.81,1063.07 C1199.70,1063.47 1208.35,1064.08 1214.12,1065.50 C1219.88,1066.92 1227.09,1075.28 1231.42,1071.59 C1235.75,1067.90 1237.39,1052.10 1240.07,1043.38 C1242.75,1034.65 1243.37,1024.50 1247.49,1019.22 C1251.61,1013.94 1261.08,1015.39 1264.79,1011.71 C1268.50,1008.02 1268.71,1005.55 1269.74,997.09 C1270.77,988.63 1269.74,968.03 1270.97,960.96 C1272.21,953.89 1273.65,956.12 1277.15,954.66 C1280.65,953.21 1289.51,952.63 1291.98,952.23" fill="none" stroke="#000" stroke-width="4.2" stroke-dasharray="4.2 3.2"/><polyline points="712.30,976.59 786.46,976.59 835.90,975.37 897.70,973.75 959.50,973.75 991.64,968.87 1021.30,966.84 1065.80,969.69 1120.18,968.87 1153.55,970.90 1169.62,966.84 1219.06,965.63 1249.96,961.16 1268.50,946.95 1277.15,935.18 1291.98,935.18" fill="none" stroke="#333" stroke-width="0.6"/><line x1="712.30" y1="919.34" x2="712.30" y2="1242.10" stroke="#000" stroke-width="1.6"/><line x1="711.50" y1="1241.30" x2="1291.98" y2="1241.30" stroke="#000" stroke-width="1.6"/><line x1="1291.98" y1="935.18" x2="1291.98" y2="1241.30" stroke="#000" stroke-width="1.6"/><line x1="707.80" y1="957.10" x2="712.30" y2="957.10" stroke="#000" stroke-width="1"/><text x="706.30" y="960.88" font-size="10.50" text-anchor="end" fill="#222" font-weight="normal" >10</text><line x1="707.80" y1="997.70" x2="712.30" y2="997.70" stroke="#000" stroke-width="1"/><text x="706.30" y="1001.48" font-size="10.50" text-anchor="end" fill="#222" font-weight="normal" >-10</text><line x1="707.80" y1="1038.30" x2="712.30" y2="1038.30" stroke="#000" stroke-width="1"/><text x="706.30" y="1042.08" font-size="10.50" text-anchor="end" fill="#222" font-weight="normal" >-30</text><line x1="707.80" y1="1078.90" x2="712.30" y2="1078.90" stroke="#000" stroke-width="1"/><text x="706.30" y="1082.68" font-size="10.50" text-anchor="end" fill="#222" font-weight="normal" >-50</text><line x1="707.80" y1="1119.50" x2="712.30" y2="1119.50" stroke="#000" stroke-width="1"/><text x="706.30" y="1123.28" font-size="10.50" text-anchor="end" fill="#222" font-weight="normal" >-70</text><line x1="707.80" y1="1160.10" x2="712.30" y2="1160.10" stroke="#000" stroke-width="1"/><text x="706.30" y="1163.88" font-size="10.50" text-anchor="end" fill="#222" font-weight="normal" >-090</text><line x1="707.80" y1="1200.70" x2="712.30" y2="1200.70" stroke="#000" stroke-width="1"/><text x="706.30" y="1204.48" font-size="10.50" text-anchor="end" fill="#222" font-weight="normal" >-110</text><line x1="707.80" y1="1241.30" x2="712.30" y2="1241.30" stroke="#000" stroke-width="1"/><text x="706.30" y="1245.08" font-size="10.50" text-anchor="end" fill="#222" font-weight="normal" >-130</text><line x1="712.30" y1="1241.30" x2="712.30" y2="1245.80" stroke="#000" stroke-width="1"/><text x="712.30" y="1257.85" font-size="11.00" text-anchor="middle" fill="#222" font-weight="normal" >0</text><line x1="835.90" y1="1241.30" x2="835.90" y2="1245.80" stroke="#000" stroke-width="1"/><text x="835.90" y="1257.85" font-size="11.00" text-anchor="middle" fill="#222" font-weight="normal" >1</text><line x1="959.50" y1="1241.30" x2="959.50" y2="1245.80" stroke="#000" stroke-width="1"/><text x="959.50" y="1257.85" font-size="11.00" text-anchor="middle" fill="#222" font-weight="normal" >2</text><line x1="1083.10" y1="1241.30" x2="1083.10" y2="1245.80" stroke="#000" stroke-width="1"/><text x="1083.10" y="1257.85" font-size="11.00" text-anchor="middle" fill="#222" font-weight="normal" >3</text><line x1="1206.70" y1="1241.30" x2="1206.70" y2="1245.80" stroke="#000" stroke-width="1"/><text x="1206.70" y="1257.85" font-size="11.00" text-anchor="middle" fill="#222" font-weight="normal" >4</text><rect x="921.18" y="973.14" width="8.65" height="207.26" fill="none" stroke="#6a6a6a" stroke-width="1.4"/><line x1="921.18" y1="981.79" x2="929.84" y2="981.79" stroke="#222" stroke-width="1.3"/><rect x="921.18" y="973.14" width="8.65" height="8.65" fill="none" stroke="#222" stroke-width="1.3"/><rect x="1112.76" y="963.80" width="8.65" height="216.60" fill="none" stroke="#6a6a6a" stroke-width="1.4"/><rect x="1112.26" y="963.30" width="9.65" height="7.00" fill="#000"/><rect x="1160.97" y="967.05" width="8.65" height="227.56" fill="none" stroke="#6a6a6a" stroke-width="1.4"/><rect x="1160.47" y="966.55" width="9.65" height="7.00" fill="#000"/><polygon points="717.17,969.34 729.67,969.34 723.42,979.84" fill="#000"/><text transform="translate(725.42 966.34) scale(1 1.000) rotate(-78.0)" font-size="17.50" font-weight="normal" fill="#000" text-anchor="start">A017C</text><polygon points="746.84,969.34 759.34,969.34 753.09,979.84" fill="#000"/><text transform="translate(755.09 966.34) scale(1 1.000) rotate(-78.0)" font-size="17.50" font-weight="normal" fill="#000" text-anchor="start">A018C</text><polygon points="774.03,969.34 786.53,969.34 780.28,979.84" fill="#000"/><text transform="translate(782.28 966.34) scale(1 1.000) rotate(-78.0)" font-size="17.50" font-weight="normal" fill="#000" text-anchor="start">A019C</text><polygon points="807.40,967.91 819.90,967.91 813.65,978.41" fill="#000"/><text transform="translate(815.65 964.91) scale(1 1.000) rotate(-78.0)" font-size="17.50" font-weight="normal" fill="#000" text-anchor="start">A020C</text><polygon points="835.83,969.34 848.33,969.34 842.08,979.84" fill="#000"/><text transform="translate(844.08 966.34) scale(1 1.000) rotate(-78.0)" font-size="17.50" font-weight="normal" fill="#000" text-anchor="start">A021C</text><polygon points="866.73,969.34 879.23,969.34 872.98,979.84" fill="#000"/><text transform="translate(874.98 966.34) scale(1 1.000) rotate(-78.0)" font-size="17.50" font-weight="normal" fill="#000" text-anchor="start">A022C</text><polygon points="893.92,966.29 906.42,966.29 900.17,976.79" fill="#000"/><text transform="translate(902.17 963.29) scale(1 1.000) rotate(-78.0)" font-size="17.50" font-weight="normal" fill="#000" text-anchor="start">A026D</text><polygon points="929.77,969.34 942.27,969.34 936.02,979.84" fill="#000"/><text transform="translate(938.02 966.34) scale(1 1.000) rotate(-78.0)" font-size="17.50" font-weight="normal" fill="#000" text-anchor="start">A024F</text><polygon points="950.78,967.91 963.28,967.91 957.03,978.41" fill="#000"/><text transform="translate(959.03 964.91) scale(1 1.000) rotate(-78.0)" font-size="17.50" font-weight="normal" fill="#000" text-anchor="start">A027D</text><polygon points="985.39,960.20 997.89,960.20 991.64,970.70" fill="#000"/><text transform="translate(993.64 957.20) scale(1 1.000) rotate(-78.0)" font-size="17.50" font-weight="normal" fill="#000" text-anchor="start">A028D</text><polygon points="1001.45,958.78 1013.95,958.78 1007.70,969.28" fill="#000"/><text transform="translate(1009.70 955.78) scale(1 1.000) rotate(-78.0)" font-size="17.50" font-weight="normal" fill="#000" text-anchor="start">A031E</text><polygon points="1007.63,958.78 1020.13,958.78 1013.88,969.28" fill="#000"/><text transform="translate(1015.88 955.78) scale(1 1.000) rotate(-78.0)" font-size="17.50" font-weight="normal" fill="#000" text-anchor="start">A033D</text><polygon points="1016.29,957.76 1028.79,957.76 1022.54,968.26" fill="#000"/><text transform="translate(1024.54 954.76) scale(1 1.000) rotate(-78.0)" font-size="17.50" font-weight="normal" fill="#000" text-anchor="start">A034B</text><polygon points="1059.55,961.22 1072.05,961.22 1065.80,971.72" fill="#000"/><text transform="translate(1067.80 958.22) scale(1 1.000) rotate(-78.0)" font-size="17.50" font-weight="normal" fill="#000" text-anchor="start">083B</text><polygon points="1118.87,960.00 1131.37,960.00 1125.12,970.50" fill="#000"/><text transform="translate(1127.12 957.00) scale(1 1.000) rotate(-78.0)" font-size="17.50" font-weight="normal" fill="#000" text-anchor="start">A009C</text><polygon points="1147.30,962.64 1159.80,962.64 1153.55,973.14" fill="#000"/><text transform="translate(1155.55 959.64) scale(1 1.000) rotate(-78.0)" font-size="17.50" font-weight="normal" fill="#000" text-anchor="start">A008C</text><polygon points="1164.61,957.76 1177.11,957.76 1170.86,968.26" fill="#000"/><text transform="translate(1172.86 954.76) scale(1 1.000) rotate(-78.0)" font-size="17.50" font-weight="normal" fill="#000" text-anchor="start">A029D</text><polygon points="1180.67,960.00 1193.17,960.00 1186.92,970.50" fill="#000"/><text transform="translate(1188.92 957.00) scale(1 1.000) rotate(-78.0)" font-size="17.50" font-weight="normal" fill="#000" text-anchor="start">A007B</text><polygon points="1199.21,960.00 1211.71,960.00 1205.46,970.50" fill="#000"/><text transform="translate(1207.46 957.00) scale(1 1.000) rotate(-78.0)" font-size="17.50" font-weight="normal" fill="#000" text-anchor="start">A030C</text><polygon points="1214.05,958.78 1226.55,958.78 1220.30,969.28" fill="#000"/><text transform="translate(1222.30 955.78) scale(1 1.000) rotate(-78.0)" font-size="17.50" font-weight="normal" fill="#000" text-anchor="start">A006C</text><polygon points="1243.71,952.69 1256.21,952.69 1249.96,963.19" fill="#000"/><text transform="translate(1251.96 949.69) scale(1 1.000) rotate(-78.0)" font-size="17.50" font-weight="normal" fill="#000" text-anchor="start">A005C</text><polygon points="1270.90,925.89 1283.40,925.89 1277.15,936.39" fill="#000"/><text transform="translate(1279.15 922.89) scale(1 1.000) rotate(-78.0)" font-size="17.50" font-weight="normal" fill="#000" text-anchor="start">A000C</text><text transform="translate(926.39 970.14) scale(1 1.000) rotate(-78.0)" font-size="17.50" font-weight="normal" fill="#4a4ad8" text-anchor="start">Sc99</text><text transform="translate(1117.97 960.80) scale(1 1.000) rotate(-78.0)" font-size="17.50" font-weight="normal" fill="#4a4ad8" text-anchor="start">L97</text><text transform="translate(1166.18 964.05) scale(1 1.000) rotate(-78.0)" font-size="17.50" font-weight="normal" fill="#4a4ad8" text-anchor="start">L109</text><text transform="translate(721.70 865.70) scale(0.9933 1)" font-size="18.57" font-weight="normal" fill="#000">SW</text><text transform="translate(719.40 901.80) scale(0.9150 1)" font-size="33.19" font-weight="bold" fill="#000">P7</text><text opacity="0.45" transform="translate(799.00 859.60) scale(1.0179 1)" font-size="16.28" font-weight="bold" font-style="italic" fill="#000">Known low to high</text><text stroke="#4262b4" stroke-width="0.5" transform="translate(798.20 858.80) scale(1.0179 1)" font-size="16.28" font-weight="bold" font-style="italic" fill="#4262b4">Known low to high</text><text opacity="0.45" transform="translate(771.68 882.00) scale(1.0493 1)" font-size="15.72" font-weight="bold" font-style="italic" fill="#000">gravity anomaly transition</text><text stroke="#4262b4" stroke-width="0.5" transform="translate(770.88 881.20) scale(1.0493 1)" font-size="15.72" font-weight="bold" font-style="italic" fill="#4262b4">gravity anomaly transition</text><path d="M786.8,891.5 V907.5 M786.8,900 H961 M961,891.5 V907.5" stroke="#333" stroke-width="2.6" fill="none"/><text opacity="0.45" transform="translate(1141.10 837.20) scale(1.0473 1)" font-size="15.72" font-weight="bold" font-style="italic" fill="#000">Known high to low</text><text stroke="#4262b4" stroke-width="0.5" transform="translate(1140.30 836.40) scale(1.0473 1)" font-size="15.72" font-weight="bold" font-style="italic" fill="#4262b4">Known high to low</text><text opacity="0.45" transform="translate(1085.88 857.70) scale(1.1872 1)" font-size="13.93" font-weight="bold" font-style="italic" fill="#000">gravity anomaly transition</text><text stroke="#4262b4" stroke-width="0.5" transform="translate(1085.08 856.90) scale(1.1872 1)" font-size="13.93" font-weight="bold" font-style="italic" fill="#4262b4">gravity anomaly transition</text><path d="M1181.3,864.4 V880.3 M1181.3,872.8 H1290.1 M1290.1,864.4 V880.3" stroke="#333" stroke-width="2.6" fill="none"/><text transform="translate(1138.60 886.70) scale(0.9208 1)" font-size="18.99" font-weight="normal" fill="#000">NE</text><text transform="translate(1209.80 896.20) scale(0.9826 1)" font-size="13.79" font-weight="normal" fill="#000">V/H: 16</text>
<defs><linearGradient id="p4_g1" gradientUnits="userSpaceOnUse" x1="150.69" y1="0" x2="165.07" y2="0"><stop offset="0.0000" stop-color="#ff0a00"/><stop offset="0.2500" stop-color="#ff8c00"/><stop offset="0.4688" stop-color="#ffff00"/><stop offset="0.7813" stop-color="#ff8c00"/><stop offset="1.0000" stop-color="#ff4800"/></linearGradient><linearGradient id="p4_g2" gradientUnits="userSpaceOnUse" x1="165.07" y1="0" x2="191.14" y2="0"><stop offset="0.0000" stop-color="#50ff00"/><stop offset="0.3103" stop-color="#00ff50"/><stop offset="0.6552" stop-color="#00ff50"/><stop offset="1.0000" stop-color="#00ff50"/></linearGradient><linearGradient id="p4_g3" gradientUnits="userSpaceOnUse" x1="188.89" y1="0" x2="233.84" y2="0"><stop offset="0.0000" stop-color="#00ff50"/><stop offset="0.1500" stop-color="#a0ff00"/><stop offset="0.3500" stop-color="#ffff00"/><stop offset="0.5500" stop-color="#ff8c00"/><stop offset="0.7000" stop-color="#ffff00"/><stop offset="0.8500" stop-color="#a0ff00"/><stop offset="1.0000" stop-color="#00ff50"/></linearGradient><linearGradient id="p4_g4" gradientUnits="userSpaceOnUse" x1="165.07" y1="0" x2="233.84" y2="0"><stop offset="0.0000" stop-color="#ff0a00"/><stop offset="0.2484" stop-color="#ff0a00"/><stop offset="0.4118" stop-color="#ff8c00"/><stop offset="0.5752" stop-color="#ffff00"/><stop offset="0.7059" stop-color="#ffff00"/><stop offset="0.8366" stop-color="#a0ff00"/><stop offset="1.0000" stop-color="#00ff50"/></linearGradient><linearGradient id="p4_g5" gradientUnits="userSpaceOnUse" x1="233.84" y1="0" x2="285.53" y2="0"><stop offset="0.0000" stop-color="#00ff50"/><stop offset="1.0000" stop-color="#00ff50"/></linearGradient><linearGradient id="p4_g6" gradientUnits="userSpaceOnUse" x1="233.84" y1="0" x2="285.53" y2="0"><stop offset="0.0000" stop-color="#00ff50"/><stop offset="0.4783" stop-color="#00ff50"/><stop offset="0.5217" stop-color="#a0ff00"/><stop offset="1.0000" stop-color="#a0ff00"/></linearGradient><linearGradient id="p4_g7" gradientUnits="userSpaceOnUse" x1="285.53" y1="0" x2="359.70" y2="0"><stop offset="0.0000" stop-color="#00ff50"/><stop offset="1.0000" stop-color="#00ff50"/></linearGradient><linearGradient id="p4_g8" gradientUnits="userSpaceOnUse" x1="137.20" y1="0" x2="233.84" y2="0"><stop offset="0.0000" stop-color="#ff0a00"/><stop offset="0.4186" stop-color="#ff0a00"/><stop offset="0.4884" stop-color="#ff8c00"/><stop offset="0.5814" stop-color="#ffff00"/><stop offset="0.6744" stop-color="#a0ff00"/><stop offset="0.7674" stop-color="#00ffa8"/><stop offset="1.0000" stop-color="#00ffa8"/></linearGradient><linearGradient id="p4_g9" gradientUnits="userSpaceOnUse" x1="231.59" y1="0" x2="258.56" y2="0"><stop offset="0.0000" stop-color="#00ffa8"/><stop offset="0.3333" stop-color="#00ffff"/><stop offset="1.0000" stop-color="#00ffff"/></linearGradient><linearGradient id="p4_g10" gradientUnits="userSpaceOnUse" x1="258.56" y1="0" x2="290.03" y2="0"><stop offset="0.0000" stop-color="#ff8c00"/><stop offset="0.2143" stop-color="#ff0a00"/><stop offset="0.4286" stop-color="#ff8c00"/><stop offset="0.7143" stop-color="#ffff00"/><stop offset="1.0000" stop-color="#a0ff00"/></linearGradient><linearGradient id="p4_g11" gradientUnits="userSpaceOnUse" x1="296.77" y1="0" x2="350.71" y2="0"><stop offset="0.0000" stop-color="#00ffff"/><stop offset="0.2917" stop-color="#00c8ff"/><stop offset="0.5000" stop-color="#0088ff"/><stop offset="0.6250" stop-color="#0010f0"/><stop offset="0.7917" stop-color="#0088ff"/><stop offset="1.0000" stop-color="#00ffff"/></linearGradient><linearGradient id="p4_g12" gradientUnits="userSpaceOnUse" x1="233.84" y1="0" x2="451.85" y2="0"><stop offset="0.0000" stop-color="#00ffff"/><stop offset="0.3814" stop-color="#00ffff"/><stop offset="0.5876" stop-color="#00ffff"/><stop offset="0.6907" stop-color="#00c8ff"/><stop offset="0.7938" stop-color="#00ffff"/><stop offset="1.0000" stop-color="#00ffff"/></linearGradient><linearGradient id="p4_g13" gradientUnits="userSpaceOnUse" x1="285.53" y1="0" x2="361.95" y2="0"><stop offset="0.0000" stop-color="#00ffa8"/><stop offset="0.4118" stop-color="#00ff50"/><stop offset="1.0000" stop-color="#00ffa8"/></linearGradient><linearGradient id="p4_g14" gradientUnits="userSpaceOnUse" x1="359.70" y1="0" x2="451.85" y2="0"><stop offset="0.0000" stop-color="#00ffff"/><stop offset="0.2683" stop-color="#00c8ff"/><stop offset="0.5122" stop-color="#00ffff"/><stop offset="1.0000" stop-color="#00ffff"/></linearGradient><linearGradient id="p4_g15" gradientUnits="userSpaceOnUse" x1="359.70" y1="0" x2="386.67" y2="0"><stop offset="0.0000" stop-color="#00ff50"/><stop offset="0.2500" stop-color="#a0ff00"/><stop offset="0.4167" stop-color="#ffff00"/><stop offset="0.6667" stop-color="#ff8c00"/><stop offset="1.0000" stop-color="#ff0a00"/></linearGradient><linearGradient id="p4_g16" gradientUnits="userSpaceOnUse" x1="386.67" y1="0" x2="438.37" y2="0"><stop offset="0.0000" stop-color="#ff8c00"/><stop offset="0.1304" stop-color="#ffff00"/><stop offset="0.2609" stop-color="#a0ff00"/><stop offset="0.3913" stop-color="#00ffff"/><stop offset="0.5652" stop-color="#0088ff"/><stop offset="0.7391" stop-color="#00ffff"/><stop offset="0.8696" stop-color="#a0ff00"/><stop offset="1.0000" stop-color="#ffff00"/></linearGradient><linearGradient id="p4_g17" gradientUnits="userSpaceOnUse" x1="415.89" y1="0" x2="519.28" y2="0"><stop offset="0.0000" stop-color="#0088ff"/><stop offset="0.2609" stop-color="#0050ff"/><stop offset="0.5217" stop-color="#0010f0"/><stop offset="0.7826" stop-color="#0050ff"/><stop offset="1.0000" stop-color="#0088ff"/></linearGradient><linearGradient id="p4_g18" gradientUnits="userSpaceOnUse" x1="496.80" y1="0" x2="555.24" y2="0"><stop offset="0.0000" stop-color="#0050ff"/><stop offset="0.4615" stop-color="#0010f0"/><stop offset="1.0000" stop-color="#0088ff"/></linearGradient><linearGradient id="p4_g19" gradientUnits="userSpaceOnUse" x1="555.24" y1="0" x2="582.21" y2="0"><stop offset="0.0000" stop-color="#0088ff"/><stop offset="1.0000" stop-color="#00c8ff"/></linearGradient><linearGradient id="p4_g20" gradientUnits="userSpaceOnUse" x1="451.85" y1="0" x2="483.31" y2="0"><stop offset="0.0000" stop-color="#ffff00"/><stop offset="0.2143" stop-color="#ff8c00"/><stop offset="0.4286" stop-color="#ff4800"/><stop offset="0.6429" stop-color="#ff8c00"/><stop offset="0.8571" stop-color="#ffff00"/><stop offset="1.0000" stop-color="#a0ff00"/></linearGradient><linearGradient id="p4_g21" gradientUnits="userSpaceOnUse" x1="397.91" y1="0" x2="438.37" y2="0"><stop offset="0.0000" stop-color="#00ffff"/><stop offset="0.2222" stop-color="#00ff50"/><stop offset="0.3889" stop-color="#00ffff"/><stop offset="0.5556" stop-color="#a0ff00"/><stop offset="0.7222" stop-color="#ffff00"/><stop offset="0.8889" stop-color="#ff8c00"/><stop offset="1.0000" stop-color="#a0ff00"/></linearGradient><linearGradient id="p4_g22" gradientUnits="userSpaceOnUse" x1="568.72" y1="0" x2="613.67" y2="0"><stop offset="0.0000" stop-color="#ff8c00"/><stop offset="0.1000" stop-color="#ffff00"/><stop offset="0.2000" stop-color="#00ff50"/><stop offset="0.6000" stop-color="#00ffa8"/><stop offset="1.0000" stop-color="#00ffa8"/></linearGradient><linearGradient id="p4_g23" gradientUnits="userSpaceOnUse" x1="611.42" y1="0" x2="645.13" y2="0"><stop offset="0.0000" stop-color="#00ff50"/><stop offset="0.1333" stop-color="#ffff00"/><stop offset="0.2667" stop-color="#ff8c00"/><stop offset="0.4667" stop-color="#ff4800"/><stop offset="0.6000" stop-color="#ff8c00"/><stop offset="0.7333" stop-color="#ffff00"/><stop offset="0.8667" stop-color="#a0ff00"/><stop offset="1.0000" stop-color="#00ff50"/></linearGradient><linearGradient id="p4_g24" gradientUnits="userSpaceOnUse" x1="613.67" y1="0" x2="645.13" y2="0"><stop offset="0.0000" stop-color="#00ffff"/><stop offset="0.2143" stop-color="#0088ff"/><stop offset="0.7143" stop-color="#0088ff"/><stop offset="1.0000" stop-color="#00ffff"/></linearGradient><linearGradient id="p4_g25" gradientUnits="userSpaceOnUse" x1="642.89" y1="0" x2="681.10" y2="0"><stop offset="0.0000" stop-color="#00ffa8"/><stop offset="1.0000" stop-color="#00ffa8"/></linearGradient><linearGradient id="p4_g26" gradientUnits="userSpaceOnUse" x1="642.89" y1="0" x2="681.10" y2="0"><stop offset="0.0000" stop-color="#00ff50"/><stop offset="0.2941" stop-color="#00ff50"/><stop offset="0.4706" stop-color="#a0ff00"/><stop offset="1.0000" stop-color="#a0ff00"/></linearGradient><linearGradient id="p4_g27" gradientUnits="userSpaceOnUse" x1="681.10" y1="0" x2="710.31" y2="0"><stop offset="0.0000" stop-color="#ffff00"/><stop offset="0.3077" stop-color="#ff8c00"/><stop offset="0.6154" stop-color="#ffc000"/><stop offset="0.8462" stop-color="#ffff00"/><stop offset="1.0000" stop-color="#a0ff00"/></linearGradient><linearGradient id="p4_g28" gradientUnits="userSpaceOnUse" x1="710.31" y1="0" x2="725.15" y2="0"><stop offset="0.0000" stop-color="#00ff50"/><stop offset="1.0000" stop-color="#00ff50"/></linearGradient><linearGradient id="p4_g29" gradientUnits="userSpaceOnUse" x1="685.59" y1="0" x2="725.15" y2="0"><stop offset="0.0000" stop-color="#ff8c00"/><stop offset="0.3409" stop-color="#ff4800"/><stop offset="1.0000" stop-color="#ff0a00"/></linearGradient><clipPath id="p4_clip"><polygon points="137.20,1691.18 137.20,1370.13 147.54,1370.13 179.45,1465.83 217.66,1521.39 242.83,1543.42 266.66,1545.06 296.32,1540.53 327.79,1538.48 357.46,1535.80 384.87,1539.30 416.79,1543.42 444.21,1539.30 460.84,1539.92 472.53,1544.65 488.71,1545.47 501.30,1544.65 512.08,1544.65 606.03,1544.65 627.15,1539.92 648.28,1536.83 663.12,1531.69 688.74,1517.28 714.81,1509.05 725.15,1505.96 725.15,1691.18"/></clipPath></defs><g clip-path="url(#p4_clip)"><rect x="136.90" y="1351.31" width="588.55" height="340.17" fill="#00ffff"/><rect x="136.90" y="1351.31" width="18.58" height="31.47" fill="#00ffa8"/><rect x="136.90" y="1382.18" width="18.58" height="66.46" fill="#00ff50"/><rect x="136.90" y="1448.04" width="54.54" height="23.24" fill="#00ffa8"/><rect x="152.63" y="1382.18" width="38.81" height="89.09" fill="#00ffa8"/><rect x="136.90" y="1470.67" width="32.07" height="220.81" fill="#ff0a00"/><rect x="150.38" y="1470.67" width="14.98" height="90.33" fill="url(#p4_g1)"/><rect x="164.77" y="1470.67" width="26.67" height="90.33" fill="url(#p4_g2)"/><rect x="188.59" y="1505.66" width="45.55" height="55.34" fill="url(#p4_g3)"/><rect x="164.77" y="1560.40" width="69.37" height="71.40" fill="url(#p4_g4)"/><rect x="233.54" y="1546.82" width="52.29" height="43.82" fill="url(#p4_g5)"/><rect x="233.54" y="1590.04" width="52.29" height="41.76" fill="url(#p4_g6)"/><rect x="285.23" y="1546.82" width="74.77" height="144.66" fill="url(#p4_g7)"/><rect x="233.54" y="1546.82" width="52.29" height="17.06" fill="#00ffff"/><rect x="136.90" y="1631.20" width="97.24" height="60.28" fill="url(#p4_g8)"/><rect x="231.29" y="1631.20" width="29.82" height="60.28" fill="url(#p4_g9)"/><rect x="258.26" y="1643.55" width="32.06" height="47.93" fill="url(#p4_g10)"/><rect x="296.47" y="1668.24" width="54.54" height="23.24" fill="url(#p4_g11)"/><rect x="233.54" y="1526.24" width="218.61" height="37.64" fill="url(#p4_g12)"/><rect x="285.23" y="1563.28" width="77.02" height="29.41" fill="url(#p4_g13)"/><rect x="359.40" y="1563.28" width="92.75" height="31.47" fill="url(#p4_g14)"/><rect x="359.40" y="1594.15" width="27.57" height="97.33" fill="url(#p4_g15)"/><rect x="386.37" y="1594.15" width="52.29" height="29.41" fill="url(#p4_g16)"/><rect x="415.59" y="1581.81" width="103.99" height="16.04" fill="url(#p4_g17)"/><rect x="496.50" y="1597.24" width="59.04" height="21.18" fill="url(#p4_g18)"/><rect x="554.94" y="1597.24" width="27.57" height="7.80" fill="url(#p4_g19)"/><rect x="451.55" y="1557.11" width="32.06" height="20.56" fill="url(#p4_g20)"/><rect x="397.61" y="1597.24" width="41.06" height="26.32" fill="url(#p4_g21)"/><rect x="568.42" y="1604.44" width="45.55" height="87.04" fill="url(#p4_g22)"/><rect x="611.12" y="1610.62" width="34.31" height="80.86" fill="url(#p4_g23)"/><rect x="613.37" y="1602.39" width="32.06" height="8.83" fill="url(#p4_g24)"/><rect x="642.59" y="1501.54" width="38.81" height="91.15" fill="url(#p4_g25)"/><rect x="642.59" y="1592.10" width="38.81" height="99.38" fill="url(#p4_g26)"/><rect x="680.80" y="1532.41" width="29.82" height="159.07" fill="url(#p4_g27)"/><rect x="710.01" y="1485.08" width="15.43" height="206.40" fill="url(#p4_g28)"/><polygon points="386.67,1691.18 386.67,1623.27 438.37,1623.27 438.37,1593.43 483.31,1593.43 483.31,1620.18 548.49,1620.18 548.49,1650.02 566.47,1650.02 566.47,1631.50 570.97,1631.50 570.97,1691.18" fill="#ff0a00"/><rect x="685.29" y="1681.62" width="40.16" height="9.86" fill="url(#p4_g29)"/></g><path d="M141.69,1470.56 C143.64,1470.12 149.94,1466.62 153.38,1467.89 C156.83,1469.16 160.42,1464.46 162.37,1478.18 C164.32,1491.90 164.24,1536.45 165.07,1550.21 C165.89,1563.96 159.00,1558.95 167.32,1560.70 C175.63,1562.45 207.02,1560.70 214.96,1560.70" fill="none" stroke="#000" stroke-width="4.2" stroke-dasharray="4.2 3.2"/><path d="M234.29,1681.51 C237.06,1681.30 246.80,1686.28 250.92,1680.27 C255.04,1674.27 255.12,1651.94 259.01,1645.49 C262.91,1639.04 269.58,1641.79 274.30,1641.58 C279.02,1641.38 285.16,1643.81 287.33,1644.26" fill="none" stroke="#000" stroke-width="4.2" stroke-dasharray="4.2 3.2"/><path d="M369.59,1595.48 C372.59,1595.07 382.85,1590.24 387.57,1593.01 C392.29,1595.79 393.42,1607.01 397.91,1612.15 C402.41,1617.30 408.85,1622.17 414.54,1623.88 C420.24,1625.60 427.58,1625.05 432.07,1622.44 C436.57,1619.84 437.69,1612.80 441.51,1608.24 C445.33,1603.68 449.75,1597.71 455.00,1595.07 C460.24,1592.43 468.63,1590.68 472.98,1592.40 C477.32,1594.11 478.00,1601.49 481.07,1605.36 C484.14,1609.24 486.99,1613.04 491.41,1615.65 C495.83,1618.26 501.89,1620.11 507.59,1621.00 C513.28,1621.89 519.95,1621.24 525.57,1621.00 C531.19,1620.76 537.40,1618.70 541.30,1619.56 C545.20,1620.42 547.44,1622.00 548.94,1626.15 C550.44,1630.30 549.24,1640.35 550.29,1644.46 C551.34,1648.58 553.14,1650.84 555.24,1650.84 C557.33,1650.84 561.15,1647.48 562.88,1644.46 C564.60,1641.45 563.85,1634.89 565.57,1632.73 C567.30,1630.57 571.94,1631.70 573.21,1631.50" fill="none" stroke="#000" stroke-width="4.2" stroke-dasharray="4.2 3.2"/><path d="M615.02,1613.39 C619.51,1613.39 637.49,1613.39 641.99,1613.39" fill="none" stroke="#000" stroke-width="4.2" stroke-dasharray="4.2 3.2"/><path d="M688.74,1682.95 C691.58,1682.61 699.97,1681.06 705.82,1680.89 C711.66,1680.72 720.80,1681.75 723.80,1681.92" fill="none" stroke="#000" stroke-width="4.2" stroke-dasharray="4.2 3.2"/><polyline points="137.20,1370.13 147.54,1370.13 179.45,1465.83 217.66,1521.39 242.83,1543.42 266.66,1545.06 296.32,1540.53 327.79,1538.48 357.46,1535.80 384.87,1539.30 416.79,1543.42 444.21,1539.30 460.84,1539.92 472.53,1544.65 488.71,1545.47 501.30,1544.65 512.08,1544.65 606.03,1544.65 627.15,1539.92 648.28,1536.83 663.12,1531.69 688.74,1517.28 714.81,1509.05 725.15,1505.96" fill="none" stroke="#333" stroke-width="0.6"/><line x1="137.20" y1="1357.78" x2="137.20" y2="1691.98" stroke="#000" stroke-width="1.6"/><line x1="136.40" y1="1691.18" x2="725.15" y2="1691.18" stroke="#000" stroke-width="1.6"/><line x1="725.15" y1="1505.96" x2="725.15" y2="1588.28" stroke="#000" stroke-width="1.6"/><line x1="132.70" y1="1361.90" x2="137.20" y2="1361.90" stroke="#000" stroke-width="1"/><text x="131.20" y="1365.68" font-size="10.50" text-anchor="end" fill="#222" font-weight="normal" >90</text><line x1="132.70" y1="1403.06" x2="137.20" y2="1403.06" stroke="#000" stroke-width="1"/><text x="131.20" y="1406.84" font-size="10.50" text-anchor="end" fill="#222" font-weight="normal" >70</text><line x1="132.70" y1="1444.22" x2="137.20" y2="1444.22" stroke="#000" stroke-width="1"/><text x="131.20" y="1448.00" font-size="10.50" text-anchor="end" fill="#222" font-weight="normal" >50</text><line x1="132.70" y1="1485.38" x2="137.20" y2="1485.38" stroke="#000" stroke-width="1"/><text x="131.20" y="1489.16" font-size="10.50" text-anchor="end" fill="#222" font-weight="normal" >30</text><line x1="132.70" y1="1526.54" x2="137.20" y2="1526.54" stroke="#000" stroke-width="1"/><text x="131.20" y="1530.32" font-size="10.50" text-anchor="end" fill="#222" font-weight="normal" >10</text><line x1="132.70" y1="1567.70" x2="137.20" y2="1567.70" stroke="#000" stroke-width="1"/><text x="131.20" y="1571.48" font-size="10.50" text-anchor="end" fill="#222" font-weight="normal" >-10</text><line x1="132.70" y1="1608.86" x2="137.20" y2="1608.86" stroke="#000" stroke-width="1"/><text x="131.20" y="1612.64" font-size="10.50" text-anchor="end" fill="#222" font-weight="normal" >-30</text><line x1="132.70" y1="1650.02" x2="137.20" y2="1650.02" stroke="#000" stroke-width="1"/><text x="131.20" y="1653.80" font-size="10.50" text-anchor="end" fill="#222" font-weight="normal" >-50</text><line x1="132.70" y1="1691.18" x2="137.20" y2="1691.18" stroke="#000" stroke-width="1"/><text x="131.20" y="1694.96" font-size="10.50" text-anchor="end" fill="#222" font-weight="normal" >-70</text><line x1="137.20" y1="1691.18" x2="137.20" y2="1695.68" stroke="#000" stroke-width="1"/><text x="137.20" y="1707.73" font-size="11.00" text-anchor="middle" fill="#222" font-weight="normal" >0</text><line x1="182.15" y1="1691.18" x2="182.15" y2="1695.68" stroke="#000" stroke-width="1"/><text x="182.15" y="1707.73" font-size="11.00" text-anchor="middle" fill="#222" font-weight="normal" >1</text><line x1="227.10" y1="1691.18" x2="227.10" y2="1695.68" stroke="#000" stroke-width="1"/><text x="227.10" y="1707.73" font-size="11.00" text-anchor="middle" fill="#222" font-weight="normal" >2</text><line x1="272.05" y1="1691.18" x2="272.05" y2="1695.68" stroke="#000" stroke-width="1"/><text x="272.05" y="1707.73" font-size="11.00" text-anchor="middle" fill="#222" font-weight="normal" >3</text><line x1="317.00" y1="1691.18" x2="317.00" y2="1695.68" stroke="#000" stroke-width="1"/><text x="317.00" y="1707.73" font-size="11.00" text-anchor="middle" fill="#222" font-weight="normal" >4</text><line x1="361.95" y1="1691.18" x2="361.95" y2="1695.68" stroke="#000" stroke-width="1"/><text x="361.95" y="1707.73" font-size="11.00" text-anchor="middle" fill="#222" font-weight="normal" >5</text><line x1="406.90" y1="1691.18" x2="406.90" y2="1695.68" stroke="#000" stroke-width="1"/><text x="406.90" y="1707.73" font-size="11.00" text-anchor="middle" fill="#222" font-weight="normal" >6</text><line x1="451.85" y1="1691.18" x2="451.85" y2="1695.68" stroke="#000" stroke-width="1"/><text x="451.85" y="1707.73" font-size="11.00" text-anchor="middle" fill="#222" font-weight="normal" >7</text><line x1="496.80" y1="1691.18" x2="496.80" y2="1695.68" stroke="#000" stroke-width="1"/><text x="496.80" y="1707.73" font-size="11.00" text-anchor="middle" fill="#222" font-weight="normal" >8</text><line x1="541.75" y1="1691.18" x2="541.75" y2="1695.68" stroke="#000" stroke-width="1"/><text x="541.75" y="1707.73" font-size="11.00" text-anchor="middle" fill="#222" font-weight="normal" >9</text><line x1="586.70" y1="1691.18" x2="586.70" y2="1695.68" stroke="#000" stroke-width="1"/><text x="586.70" y="1707.73" font-size="11.00" text-anchor="middle" fill="#222" font-weight="normal" >10</text><line x1="631.65" y1="1691.18" x2="631.65" y2="1695.68" stroke="#000" stroke-width="1"/><text x="631.65" y="1707.73" font-size="11.00" text-anchor="middle" fill="#222" font-weight="normal" >11</text><line x1="676.60" y1="1691.18" x2="676.60" y2="1695.68" stroke="#000" stroke-width="1"/><text x="676.60" y="1707.73" font-size="11.00" text-anchor="middle" fill="#222" font-weight="normal" >12</text><rect x="165.07" y="1438.25" width="8.99" height="22.43" fill="none" stroke="#6a6a6a" stroke-width="1.4"/><rect x="164.57" y="1437.75" width="9.99" height="6.00" fill="#000"/><rect x="496.35" y="1544.65" width="8.54" height="146.53" fill="none" stroke="#6a6a6a" stroke-width="1.4"/><line x1="496.35" y1="1553.19" x2="504.89" y2="1553.19" stroke="#222" stroke-width="1.3"/><rect x="496.35" y="1544.65" width="8.54" height="8.54" fill="none" stroke="#222" stroke-width="1.3"/><rect x="657.72" y="1522.84" width="7.64" height="168.34" fill="none" stroke="#6a6a6a" stroke-width="1.4"/><rect x="657.22" y="1522.34" width="8.64" height="7.00" fill="#000"/><rect x="673.00" y="1515.84" width="8.09" height="175.34" fill="none" stroke="#6a6a6a" stroke-width="1.4"/><rect x="672.50" y="1515.34" width="9.09" height="7.00" fill="#000"/><polygon points="141.29,1364.78 153.79,1364.78 147.54,1375.28" fill="#000"/><text transform="translate(149.54 1359.78) scale(1 1.000) rotate(-79.0)" font-size="17.40" font-weight="normal" fill="#000" text-anchor="start">128B</text><polygon points="173.20,1460.06 185.70,1460.06 179.45,1470.56" fill="#000"/><text transform="translate(181.45 1455.06) scale(1 1.000) rotate(-79.0)" font-size="17.40" font-weight="normal" fill="#000" text-anchor="start">129B</text><polygon points="211.41,1512.75 223.91,1512.75 217.66,1523.25" fill="#000"/><text transform="translate(219.66 1507.75) scale(1 1.000) rotate(-79.0)" font-size="17.40" font-weight="normal" fill="#000" text-anchor="start">130B</text><polygon points="236.58,1536.00 249.08,1536.00 242.83,1546.50" fill="#000"/><text transform="translate(244.83 1531.00) scale(1 1.000) rotate(-79.0)" font-size="17.40" font-weight="normal" fill="#000" text-anchor="start">131B</text><polygon points="260.41,1538.47 272.91,1538.47 266.66,1548.97" fill="#000"/><text transform="translate(268.66 1533.47) scale(1 1.000) rotate(-79.0)" font-size="17.40" font-weight="normal" fill="#000" text-anchor="start">132C</text><polygon points="290.07,1533.33 302.57,1533.33 296.32,1543.83" fill="#000"/><text transform="translate(298.32 1528.33) scale(1 1.000) rotate(-79.0)" font-size="17.40" font-weight="normal" fill="#000" text-anchor="start">133B</text><polygon points="321.54,1532.09 334.04,1532.09 327.79,1542.59" fill="#000"/><text transform="translate(329.79 1527.09) scale(1 1.000) rotate(-79.0)" font-size="17.40" font-weight="normal" fill="#000" text-anchor="start">134B</text><polygon points="351.21,1528.39 363.71,1528.39 357.46,1538.89" fill="#000"/><text transform="translate(359.46 1523.39) scale(1 1.000) rotate(-79.0)" font-size="17.40" font-weight="normal" fill="#000" text-anchor="start">135B</text><polygon points="378.62,1532.09 391.12,1532.09 384.87,1542.59" fill="#000"/><text transform="translate(386.87 1527.09) scale(1 1.000) rotate(-79.0)" font-size="17.40" font-weight="normal" fill="#000" text-anchor="start">136B</text><polygon points="410.54,1534.56 423.04,1534.56 416.79,1545.06" fill="#000"/><text transform="translate(418.79 1529.56) scale(1 1.000) rotate(-79.0)" font-size="17.40" font-weight="normal" fill="#000" text-anchor="start">137B</text><polygon points="437.96,1531.68 450.46,1531.68 444.21,1542.18" fill="#000"/><text transform="translate(446.21 1526.68) scale(1 1.000) rotate(-79.0)" font-size="17.40" font-weight="normal" fill="#000" text-anchor="start">138B</text><polygon points="466.28,1537.85 478.78,1537.85 472.53,1548.35" fill="#000"/><text transform="translate(474.53 1532.85) scale(1 1.000) rotate(-79.0)" font-size="17.40" font-weight="normal" fill="#000" text-anchor="start">139B</text><polygon points="482.46,1538.47 494.96,1538.47 488.71,1548.97" fill="#000"/><text transform="translate(490.71 1533.47) scale(1 1.000) rotate(-79.0)" font-size="17.40" font-weight="normal" fill="#000" text-anchor="start">140B</text><polygon points="505.83,1537.85 518.33,1537.85 512.08,1548.35" fill="#000"/><text transform="translate(517.08 1537.35) scale(1 1.250) rotate(-90.0)" font-size="14.50" font-weight="normal" fill="#000" text-anchor="start">A017C</text><polygon points="516.17,1537.85 528.67,1537.85 522.42,1548.35" fill="#000"/><text transform="translate(527.42 1537.35) scale(1 1.250) rotate(-90.0)" font-size="14.50" font-weight="normal" fill="#000" text-anchor="start">A018C</text><polygon points="526.96,1537.85 539.46,1537.85 533.21,1548.35" fill="#000"/><text transform="translate(538.21 1537.35) scale(1 1.250) rotate(-90.0)" font-size="14.50" font-weight="normal" fill="#000" text-anchor="start">A019C</text><polygon points="540.00,1537.85 552.50,1537.85 546.25,1548.35" fill="#000"/><text transform="translate(551.25 1537.35) scale(1 1.250) rotate(-90.0)" font-size="14.50" font-weight="normal" fill="#000" text-anchor="start">A020C</text><polygon points="550.33,1537.85 562.83,1537.85 556.58,1548.35" fill="#000"/><text transform="translate(561.58 1537.35) scale(1 1.250) rotate(-90.0)" font-size="14.50" font-weight="normal" fill="#000" text-anchor="start">A021C</text><polygon points="561.57,1537.85 574.07,1537.85 567.82,1548.35" fill="#000"/><text transform="translate(572.82 1537.35) scale(1 1.250) rotate(-90.0)" font-size="14.50" font-weight="normal" fill="#000" text-anchor="start">A022C</text><polygon points="572.36,1537.85 584.86,1537.85 578.61,1548.35" fill="#000"/><text transform="translate(583.61 1537.35) scale(1 1.250) rotate(-90.0)" font-size="14.50" font-weight="normal" fill="#000" text-anchor="start">A026D</text><polygon points="584.94,1537.85 597.44,1537.85 591.19,1548.35" fill="#000"/><text transform="translate(596.19 1537.35) scale(1 1.250) rotate(-90.0)" font-size="14.50" font-weight="normal" fill="#000" text-anchor="start">A024F</text><polygon points="599.78,1537.85 612.28,1537.85 606.03,1548.35" fill="#000"/><text transform="translate(611.03 1537.35) scale(1 1.250) rotate(-90.0)" font-size="14.50" font-weight="normal" fill="#000" text-anchor="start">143C</text><polygon points="620.90,1532.92 633.40,1532.92 627.15,1543.42" fill="#000"/><text transform="translate(632.15 1532.42) scale(1 1.250) rotate(-90.0)" font-size="14.50" font-weight="normal" fill="#000" text-anchor="start">083B</text><polygon points="642.03,1529.01 654.53,1529.01 648.28,1539.51" fill="#000"/><text transform="translate(653.28 1528.51) scale(1 1.250) rotate(-90.0)" font-size="14.50" font-weight="normal" fill="#000" text-anchor="start">A009C</text><polygon points="682.49,1508.43 694.99,1508.43 688.74,1518.93" fill="#000"/><text transform="translate(693.74 1507.93) scale(1 1.250) rotate(-90.0)" font-size="14.50" font-weight="normal" fill="#000" text-anchor="start">144D</text><polygon points="708.56,1500.81 721.06,1500.81 714.81,1511.31" fill="#000"/><text transform="translate(719.81 1500.31) scale(1 1.250) rotate(-90.0)" font-size="14.50" font-weight="normal" fill="#000" text-anchor="start">A004C</text><text transform="translate(171.06 1435.25) scale(1 1.000) rotate(-79.0)" font-size="17.40" font-weight="normal" fill="#4a4ad8" text-anchor="start">L9</text><text transform="translate(505.85 1542.65) scale(1 1.250) rotate(-90.0)" font-size="14.50" font-weight="normal" fill="#4a4ad8" text-anchor="start">Sc99</text><text transform="translate(666.32 1520.84) scale(1 1.250) rotate(-90.0)" font-size="14.50" font-weight="normal" fill="#4a4ad8" text-anchor="start">L97</text><text transform="translate(682.05 1513.84) scale(1 1.250) rotate(-90.0)" font-size="14.50" font-weight="normal" fill="#4a4ad8" text-anchor="start">L 109</text><line x1="461.3" y1="1540" x2="461.3" y2="1482" stroke="#000" stroke-width="1.3"/><polygon points="461.3,1477.5 457.8,1486 464.8,1486" fill="#000"/><circle cx="461.3" cy="1542.7" r="2.8" fill="#fff" stroke="#000" stroke-width="1.1"/><text transform="translate(136.70 1321.20) scale(0.9954 1)" font-size="31.74" font-weight="bold" fill="#000">P4</text><text transform="translate(161.20 1389.40) scale(1.0862 1)" font-size="17.54" font-weight="normal" fill="#000">W</text><text transform="translate(699 1450.4) scale(1 1.4) rotate(-90)" font-size="14.3" fill="#000">E</text><text transform="translate(681.50 1349.90) scale(0.9379 1)" font-size="14.48" font-weight="normal" fill="#000">V/H: 46</text><text opacity="0.45" transform="translate(182.50 1358.00) scale(1.1502 1)" font-size="14.07" font-weight="bold" font-style="italic" fill="#000">Zone of</text><text stroke="#b3263c" stroke-width="0.5" transform="translate(181.70 1357.20) scale(1.1502 1)" font-size="14.07" font-weight="bold" font-style="italic" fill="#b3263c">Zone of</text><text opacity="0.45" transform="translate(200.60 1379.90) scale(1.1453 1)" font-size="14.21" font-weight="bold" font-style="italic" fill="#000">known</text><text stroke="#b3263c" stroke-width="0.5" transform="translate(199.80 1379.10) scale(1.1453 1)" font-size="14.21" font-weight="bold" font-style="italic" fill="#b3263c">known</text><text opacity="0.45" transform="translate(223.80 1401.10) scale(1.1791 1)" font-size="13.71" font-weight="bold" font-style="italic" fill="#000">Quaternary</text><text stroke="#b3263c" stroke-width="0.5" transform="translate(223.00 1400.30) scale(1.1791 1)" font-size="13.71" font-weight="bold" font-style="italic" fill="#b3263c">Quaternary</text><text opacity="0.45" transform="translate(250.80 1421.80) scale(1.4144 1)" font-size="11.59" font-weight="bold" font-style="italic" fill="#000">normal</text><text stroke="#b3263c" stroke-width="0.5" transform="translate(250.00 1421.00) scale(1.4144 1)" font-size="11.59" font-weight="bold" font-style="italic" fill="#b3263c">normal</text><text opacity="0.45" transform="translate(274.00 1444.80) scale(1.2515 1)" font-size="13.10" font-weight="bold" font-style="italic" fill="#000">faulting</text><text stroke="#b3263c" stroke-width="0.5" transform="translate(273.20 1444.00) scale(1.2515 1)" font-size="13.10" font-weight="bold" font-style="italic" fill="#b3263c">faulting</text><path d="M160,1356 L311.8,1493.7 M155,1361 L165,1351 M306.8,1498.7 L316.8,1488.7" stroke="#222" stroke-width="2.6" fill="none"/><text opacity="0.45" transform="translate(619.90 1381.60) scale(1.0540 1)" font-size="15.72" font-weight="bold" font-style="italic" fill="#000">Known high</text><text stroke="#4262b4" stroke-width="0.5" transform="translate(619.10 1380.80) scale(1.0540 1)" font-size="15.72" font-weight="bold" font-style="italic" fill="#4262b4">Known high</text><text opacity="0.45" transform="translate(607.48 1404.50) scale(1.2296 1)" font-size="13.38" font-weight="bold" font-style="italic" fill="#000">gravity anomaly</text><text stroke="#4262b4" stroke-width="0.5" transform="translate(606.68 1403.70) scale(1.2296 1)" font-size="13.38" font-weight="bold" font-style="italic" fill="#4262b4">gravity anomaly</text><path d="M611.1,1416.2 V1432.8 M611.1,1424.2 H727 M727,1416.2 V1432.8" stroke="#333" stroke-width="2.6" fill="none"/>
<defs><linearGradient id="cbar" x1="0" y1="1373" x2="0" y2="1672" gradientUnits="userSpaceOnUse"><stop offset="0.0000" stop-color="#e8281c"/><stop offset="0.1137" stop-color="#ff6200"/><stop offset="0.2007" stop-color="#ffa000"/><stop offset="0.2776" stop-color="#ffee00"/><stop offset="0.3512" stop-color="#b8e400"/><stop offset="0.4548" stop-color="#48d820"/><stop offset="0.4649" stop-color="#20e060"/><stop offset="0.5585" stop-color="#00e8a0"/><stop offset="0.6488" stop-color="#00f0d0"/><stop offset="0.7090" stop-color="#00e8ff"/><stop offset="0.7826" stop-color="#20a0ff"/><stop offset="0.8562" stop-color="#2060f0"/><stop offset="1.0000" stop-color="#1010c8"/></linearGradient></defs><rect x="21.6" y="1372.3" width="18.4" height="300.9" fill="#000"/><rect x="24" y="1374.5" width="12.7" height="296.5" fill="url(#cbar)"/><line x1="40" y1="1373.4" x2="48" y2="1373.4" stroke="#000" stroke-width="2.2"/><line x1="40" y1="1453.5" x2="48" y2="1453.5" stroke="#000" stroke-width="2.2"/><line x1="40" y1="1622.2" x2="48" y2="1622.2" stroke="#000" stroke-width="2.2"/><line x1="40" y1="1402.3" x2="44" y2="1402.3" stroke="#000" stroke-width="2"/><line x1="40" y1="1459.1" x2="44" y2="1459.1" stroke="#000" stroke-width="2"/><line x1="40" y1="1463.5" x2="44" y2="1463.5" stroke="#000" stroke-width="2"/><line x1="40" y1="1469.1" x2="44" y2="1469.1" stroke="#000" stroke-width="2"/><line x1="40" y1="1478.0" x2="44" y2="1478.0" stroke="#000" stroke-width="2"/><line x1="40" y1="1490.2" x2="44" y2="1490.2" stroke="#000" stroke-width="2"/><line x1="40" y1="1503.6" x2="44" y2="1503.6" stroke="#000" stroke-width="2"/><line x1="40" y1="1519.2" x2="44" y2="1519.2" stroke="#000" stroke-width="2"/><line x1="40" y1="1541.4" x2="44" y2="1541.4" stroke="#000" stroke-width="2"/><line x1="40" y1="1570.4" x2="44" y2="1570.4" stroke="#000" stroke-width="2"/><line x1="40" y1="1627.1" x2="44" y2="1627.1" stroke="#000" stroke-width="2"/><line x1="40" y1="1631.6" x2="44" y2="1631.6" stroke="#000" stroke-width="2"/><line x1="40" y1="1637.1" x2="44" y2="1637.1" stroke="#000" stroke-width="2"/><line x1="40" y1="1647.1" x2="44" y2="1647.1" stroke="#000" stroke-width="2"/><line x1="40" y1="1658.3" x2="44" y2="1658.3" stroke="#000" stroke-width="2"/><text transform="translate(56.80 1377.40) scale(1.1134 1)" font-size="13.71" font-weight="bold" fill="#000">300</text><text transform="translate(56.80 1456.20) scale(1.0907 1)" font-size="14.00" font-weight="bold" fill="#000">100</text><text transform="translate(56.80 1624.40) scale(1.0263 1)" font-size="14.57" font-weight="bold" fill="#000">10</text><text transform="translate(22.30 1694.50) scale(1.1560 1)" font-size="14.29" font-weight="bold" fill="#000">Ohm-m</text><defs><clipPath id="phc"><rect x="338.6" y="1280.2" width="256.4" height="192.8"/></clipPath><linearGradient id="sky" x1="0" y1="40" x2="0" y2="320" gradientUnits="userSpaceOnUse"><stop offset="0" stop-color="#b0cae8"/><stop offset="0.6" stop-color="#d0e0ee"/><stop offset="1" stop-color="#e6eaec"/></linearGradient><linearGradient id="wat" x1="0" y1="470" x2="0" y2="978" gradientUnits="userSpaceOnUse"><stop offset="0" stop-color="#34486a"/><stop offset="0.5" stop-color="#3e5878"/><stop offset="1" stop-color="#2a3a52"/></linearGradient><filter id="pblur" x="-5%" y="-5%" width="110%" height="110%"><feGaussianBlur stdDeviation="6"/></filter><filter id="rub" color-interpolation-filters="sRGB" x="0" y="0" width="100%" height="100%"><feTurbulence type="fractalNoise" baseFrequency="0.035" numOctaves="3" seed="4" result="n"/><feColorMatrix in="n" type="matrix" values="0 0 0 0 0.45  0 0 0 0 0.42  0 0 0 0 0.38  0 0 0 1.6 -0.55" result="c"/><feComposite in="c" in2="SourceGraphic" operator="in" result="t"/><feMerge><feMergeNode in="SourceGraphic"/><feMergeNode in="t"/></feMerge></filter></defs><g clip-path="url(#phc)"><g transform="translate(330,1272) scale(0.205465)"><rect x="0" y="0" width="1400" height="1100" fill="url(#sky)"/><g filter="url(#pblur)"><polygon points="0.0,330.0 380.0,268.0 1400.0,220.0 1400.0,1100.0 0.0,1100.0" fill="#9a8a72"/><polygon points="0.0,300.0 100.0,288.0 200.0,292.0 260.0,280.0 320.0,295.0 360.0,320.0 0.0,340.0" fill="#7d8ca2"/><polygon points="0.0,330.0 200.0,318.0 300.0,300.0 380.0,268.0 430.0,330.0 400.0,420.0 360.0,470.0 250.0,480.0 150.0,480.0 100.0,480.0 0.0,480.0" fill="#c2ac8c"/><polygon points="0.0,470.0 100.0,460.0 120.0,500.0 100.0,560.0 130.0,620.0 170.0,680.0 230.0,730.0 290.0,800.0 400.0,880.0 500.0,960.0 500.0,1100.0 0.0,1100.0" fill="#b09878"/><polygon filter="url(#rub)" points="380.0,270.0 450.0,240.0 520.0,200.0 600.0,180.0 700.0,170.0 800.0,165.0 900.0,170.0 1000.0,185.0 1100.0,200.0 1150.0,215.0 1230.0,215.0 1400.0,220.0 1400.0,1100.0 500.0,1100.0 420.0,470.0 360.0,430.0" fill="#8a7e70"/><polygon points="580.0,300.0 700.0,285.0 900.0,275.0 1050.0,262.0 1150.0,250.0 1300.0,240.0 1300.0,340.0 1150.0,360.0 1000.0,390.0 900.0,405.0 750.0,385.0 600.0,335.0" fill="#d6cdb4"/><polygon points="350.0,410.0 420.0,355.0 500.0,345.0 560.0,372.0 540.0,425.0 420.0,445.0 360.0,435.0" fill="#5e8a48"/><polygon points="560.0,372.0 650.0,365.0 740.0,380.0 760.0,420.0 680.0,445.0 580.0,432.0" fill="#6c9652"/><polygon points="1030.0,420.0 1150.0,380.0 1300.0,330.0 1300.0,600.0 1200.0,580.0 1100.0,530.0 1040.0,480.0" fill="#5a8646"/><polygon filter="url(#rub)" points="560.0,440.0 800.0,430.0 1000.0,440.0 1100.0,540.0 1300.0,620.0 1300.0,900.0 1000.0,820.0 850.0,700.0 700.0,600.0" fill="#a29682"/><polygon points="150.0,470.0 250.0,462.0 330.0,472.0 420.0,500.0 540.0,525.0 620.0,565.0 700.0,610.0 800.0,650.0 880.0,690.0 950.0,770.0 1020.0,810.0 1120.0,840.0 1300.0,860.0 1300.0,1100.0 560.0,1100.0 480.0,955.0 400.0,885.0 285.0,805.0 230.0,745.0 180.0,685.0 130.0,625.0 108.0,560.0 128.0,500.0" fill="url(#wat)"/></g><ellipse cx="200" cy="670" rx="25" ry="14" fill="#c8c8c8" opacity="0.85"/><ellipse cx="720" cy="650" rx="70" ry="25" fill="#b8c8c0" opacity="0.85"/><ellipse cx="850" cy="745" rx="45" ry="16" fill="#3872c0" opacity="0.85"/><ellipse cx="610" cy="835" rx="40" ry="10" fill="#c83a3a" opacity="0.85"/><ellipse cx="1200" cy="720" rx="80" ry="40" fill="#cfcac0" opacity="0.85"/><ellipse cx="1230" cy="825" rx="40" ry="16" fill="#e8e8e8" opacity="0.85"/><ellipse cx="660" cy="710" rx="12" ry="8" fill="#d8d0c0" opacity="0.85"/><ellipse cx="400" cy="700" rx="10" ry="7" fill="#e0e0e0" opacity="0.85"/><ellipse cx="780" cy="500" rx="30" ry="20" fill="#d8d0c0" opacity="0.85"/><ellipse cx="930" cy="620" rx="40" ry="25" fill="#c8c0b0" opacity="0.85"/></g></g><rect x="338.6" y="1280.2" width="256.4" height="192.8" fill="none" stroke="#555" stroke-width="0.6"/><text transform="translate(347.50 1299.70) scale(0.8290 1)" font-size="10.84" font-weight="bold" style="font-family:&quot;Liberation Serif&quot;,serif" fill="#111">Waste disposal site (WDS)</text><defs><clipPath id="mapc"><rect x="780.0" y="1301.5" width="507.5" height="410.5"/></clipPath><filter id="mblur" x="-5%" y="-5%" width="110%" height="110%"><feGaussianBlur stdDeviation="3.5"/></filter><filter id="relief" color-interpolation-filters="sRGB" x="0" y="0" width="100%" height="100%"><feTurbulence type="fractalNoise" baseFrequency="0.018 0.03" numOctaves="4" seed="11" result="n"/><feDiffuseLighting in="n" surfaceScale="8" diffuseConstant="1.7" lighting-color="#ffffff" result="l"><feDistantLight azimuth="225" elevation="38"/></feDiffuseLighting><feComposite in="l" in2="SourceGraphic" operator="arithmetic" k1="1.05" k2="0" k3="0" k4="0" result="m"/><feComposite in="m" in2="SourceGraphic" operator="in"/></filter><filter id="relief2" color-interpolation-filters="sRGB" x="0" y="0" width="100%" height="100%"><feTurbulence type="fractalNoise" baseFrequency="0.06" numOctaves="3" seed="3" result="n"/><feDiffuseLighting in="n" surfaceScale="3" diffuseConstant="0.68" lighting-color="#ffffff" result="l"><feDistantLight azimuth="225" elevation="50"/></feDiffuseLighting><feComposite in="l" in2="SourceGraphic" operator="arithmetic" k1="1.0" k2="0" k3="0" k4="0" result="m"/><feComposite in="m" in2="SourceGraphic" operator="in"/></filter></defs><g clip-path="url(#mapc)"><g filter="url(#mblur)"><rect x="770" y="1290" width="530" height="430" fill="#9c7242"/><polygon points="826.0,1390.0 850.0,1372.0 885.0,1360.0 925.0,1352.0 955.0,1350.0 975.0,1358.0 990.0,1385.0 1005.0,1405.0 1035.0,1415.0 1075.0,1420.0 1110.0,1430.0 1140.0,1445.0 1160.0,1465.0 1170.0,1490.0 1150.0,1500.0 1110.0,1496.0 1070.0,1480.0 1040.0,1470.0 1000.0,1468.0 960.0,1470.0 930.0,1480.0 905.0,1500.0 890.0,1530.0 870.0,1540.0 850.0,1520.0 835.0,1480.0 826.0,1440.0" fill="#c0aa68"/><polygon points="1150.0,1520.0 1200.0,1530.0 1240.0,1560.0 1287.0,1600.0 1287.0,1712.0 1200.0,1712.0 1170.0,1660.0 1150.0,1600.0" fill="#b89c5c"/><polygon points="905.0,1428.0 950.0,1425.0 1000.0,1428.0 1040.0,1432.0 1080.0,1445.0 1110.0,1465.0 1135.0,1500.0 1138.0,1540.0 1128.0,1580.0 1150.0,1630.0 1175.0,1680.0 1190.0,1712.0 858.0,1712.0 850.0,1650.0 852.0,1600.0 866.0,1560.0 885.0,1520.0 898.0,1470.0" fill="#3c9a3c"/><polygon points="872.0,1560.0 900.0,1530.0 940.0,1515.0 990.0,1508.0 1050.0,1515.0 1095.0,1530.0 1112.0,1560.0 1105.0,1600.0 1118.0,1650.0 1135.0,1712.0 872.0,1712.0 865.0,1650.0 866.0,1600.0" fill="#7cbc80"/></g><g filter="url(#relief)"><g filter="url(#mblur)"><polygon points="983.5,1290.0 1300.0,1290.0 1300.0,1520.0 1287.0,1519.0 1247.0,1509.0 1222.0,1504.0 1198.0,1494.0 1178.0,1479.0 1158.0,1454.0 1138.0,1434.0 1108.0,1419.0 1073.0,1409.0 1038.0,1399.0 1023.0,1374.0 1008.0,1335.0" fill="#b6b8de"/><polygon points="770.0,1290.0 940.0,1290.0 929.0,1320.0 894.0,1330.0 869.0,1325.0 849.0,1335.0 824.0,1355.0 799.0,1360.0 770.0,1365.0" fill="#b6b8de"/><polygon points="770.0,1469.0 809.0,1474.0 824.0,1494.0 824.0,1529.0 809.0,1539.0 770.0,1542.0" fill="#b6b8de"/><polygon points="770.0,1549.0 824.0,1539.0 849.0,1549.0 859.0,1569.0 849.0,1599.0 829.0,1618.0 809.0,1638.0 770.0,1644.0" fill="#b6b8de"/><polygon points="770.0,1668.0 809.0,1673.0 824.0,1693.0 829.0,1720.0 770.0,1720.0" fill="#b6b8de"/><polygon points="1208.0,1545.0 1240.0,1540.0 1287.0,1545.0 1300.0,1640.0 1260.0,1638.0 1225.0,1615.0 1210.0,1580.0" fill="#b8b8de"/><polygon points="876.0,1524.0 895.0,1516.0 918.0,1522.0 923.0,1545.0 900.0,1553.0 880.0,1546.0" fill="#b6b8de"/><polygon points="1148.0,1676.0 1165.0,1670.0 1175.0,1690.0 1160.0,1700.0" fill="#b6b8de"/><polygon points="1258.0,1676.0 1287.0,1668.0 1300.0,1712.0 1262.0,1712.0" fill="#b6b8de"/></g></g><g filter="url(#mblur)"><polygon points="1048.0,1362.0 1085.0,1362.0 1115.0,1375.0 1125.0,1395.0 1120.0,1410.0 1090.0,1410.0 1060.0,1400.0 1050.0,1380.0" fill="#a88050"/></g><g style="mix-blend-mode:overlay" opacity="0.7"><rect x="770" y="1290" width="530" height="430" fill="#ffffff" filter="url(#relief2)"/></g><polygon points="915.0,1713.0 920.0,1681.0 936.0,1655.0 967.0,1639.0 997.0,1631.0 1030.0,1629.0 1060.0,1637.0 1080.0,1653.0 1082.0,1667.0 1070.0,1681.0 1086.0,1694.0 1097.0,1713.0" fill="#98d4d4"/><polyline points="838.0,1421.2 865.4,1425.4 886.5,1429.7 920.2,1433.9 979.2,1435.1 1034.0,1432.6 1067.8,1431.8 1088.8,1432.6 1114.1,1442.3 1135.2,1447.8 1166.8,1446.5" fill="none" stroke="#0c0c5a" stroke-width="2.2" stroke-linejoin="round"/><polyline points="861.2,1461.3 886.5,1459.2 911.8,1462.1 941.3,1465.5 979.2,1465.5 1013.0,1465.5 1046.7,1471.8 1067.8,1476.0 1093.1,1478.1 1118.3,1475.2 1139.4,1478.1 1160.5,1475.2" fill="none" stroke="#0c0c5a" stroke-width="2.2" stroke-linejoin="round"/><polyline points="899.1,1405.6 920.2,1419.1 935.0,1425.4 958.1,1435.9 970.8,1444.4 979.2,1457.1 991.9,1465.5 1004.5,1473.9 1029.8,1482.4 1055.1,1486.6 1072.0,1487.4 1084.6,1495.0 1097.3,1507.7 1118.3,1511.9 1147.9,1514.0 1164.7,1511.9 1181.6,1503.4" fill="none" stroke="#0c0c5a" stroke-width="2.2" stroke-linejoin="round"/><polyline points="977.1,1364.3 983.4,1370.6 989.8,1391.7 987.7,1406.5 1002.4,1423.3 1013.0,1448.6 1025.6,1478.1 1036.1,1499.2 1036.1,1520.3 1050.9,1533.0 1062.7,1554.0 1062.7,1575.1 1067.8,1596.2 1080.4,1608.8 1086.7,1613.0" fill="none" stroke="#0c0c5a" stroke-width="2.2" stroke-linejoin="round"/><polyline points="863.3,1570.9 882.3,1575.1 899.1,1579.3 920.2,1587.8 949.7,1589.9 966.6,1586.5 979.2,1592.0 991.9,1596.2 1004.5,1597.0 1025.6,1602.5 1055.1,1606.7 1086.7,1613.0" fill="none" stroke="#0c0c5a" stroke-width="2.2" stroke-linejoin="round"/><polyline points="1029.8,1613.0 1055.1,1615.2 1086.7,1613.0" fill="none" stroke="#0c0c5a" stroke-width="2.2" stroke-linejoin="round"/><polyline points="1063.5,1646.8 1065.6,1625.7 1080.4,1617.3 1086.7,1613.0" fill="none" stroke="#0c0c5a" stroke-width="2.2" stroke-linejoin="round"/><polyline points="1086.7,1613.0 1110.0,1594.1 1131.0,1583.5 1139.4,1554.0 1156.3,1528.7 1173.1,1503.4 1181.6,1499.2 1190.0,1511.9 1219.5,1520.3" fill="none" stroke="#0c0c5a" stroke-width="2.2" stroke-linejoin="round"/><polyline points="1177.4,1465.5 1181.6,1499.2" fill="none" stroke="#0c0c5a" stroke-width="2.2" stroke-linejoin="round"/><polyline points="1086.7,1613.0 1093.0,1630.0 1097.3,1642.6 1105.0,1648.0" fill="none" stroke="#0c0c5a" stroke-width="2.2" stroke-linejoin="round"/><polyline points="1086.7,1613.0 1100.0,1612.0 1110.0,1625.0 1122.0,1640.0" fill="none" stroke="#0c0c5a" stroke-width="2.2" stroke-linejoin="round"/><polyline points="1092.0,1613.0 1105.0,1625.0 1112.0,1640.0 1122.0,1640.0" fill="none" stroke="#0c0c5a" stroke-width="2.2" stroke-linejoin="round"/><path d="M835.0,1421.0 h6 M838.0,1418.0 v6" stroke="#000" stroke-width="1.1"/><path d="M862.0,1425.0 h6 M865.0,1422.0 v6" stroke="#000" stroke-width="1.1"/><path d="M883.0,1429.0 h6 M886.0,1426.0 v6" stroke="#000" stroke-width="1.1"/><path d="M917.0,1434.0 h6 M920.0,1431.0 v6" stroke="#000" stroke-width="1.1"/><path d="M954.0,1435.0 h6 M957.0,1432.0 v6" stroke="#000" stroke-width="1.1"/><path d="M976.0,1435.0 h6 M979.0,1432.0 v6" stroke="#000" stroke-width="1.1"/><path d="M1000.0,1434.0 h6 M1003.0,1431.0 v6" stroke="#000" stroke-width="1.1"/><path d="M1031.0,1432.0 h6 M1034.0,1429.0 v6" stroke="#000" stroke-width="1.1"/><path d="M1065.0,1432.0 h6 M1068.0,1429.0 v6" stroke="#000" stroke-width="1.1"/><path d="M1086.0,1433.0 h6 M1089.0,1430.0 v6" stroke="#000" stroke-width="1.1"/><path d="M1111.0,1442.0 h6 M1114.0,1439.0 v6" stroke="#000" stroke-width="1.1"/><path d="M1132.0,1448.0 h6 M1135.0,1445.0 v6" stroke="#000" stroke-width="1.1"/><path d="M1164.0,1446.0 h6 M1167.0,1443.0 v6" stroke="#000" stroke-width="1.1"/><path d="M858.0,1461.0 h6 M861.0,1458.0 v6" stroke="#000" stroke-width="1.1"/><path d="M883.0,1459.0 h6 M886.0,1456.0 v6" stroke="#000" stroke-width="1.1"/><path d="M909.0,1462.0 h6 M912.0,1459.0 v6" stroke="#000" stroke-width="1.1"/><path d="M938.0,1465.0 h6 M941.0,1462.0 v6" stroke="#000" stroke-width="1.1"/><path d="M976.0,1465.0 h6 M979.0,1462.0 v6" stroke="#000" stroke-width="1.1"/><path d="M1010.0,1465.0 h6 M1013.0,1462.0 v6" stroke="#000" stroke-width="1.1"/><path d="M1044.0,1472.0 h6 M1047.0,1469.0 v6" stroke="#000" stroke-width="1.1"/><path d="M1065.0,1476.0 h6 M1068.0,1473.0 v6" stroke="#000" stroke-width="1.1"/><path d="M1090.0,1478.0 h6 M1093.0,1475.0 v6" stroke="#000" stroke-width="1.1"/><path d="M1115.0,1475.0 h6 M1118.0,1472.0 v6" stroke="#000" stroke-width="1.1"/><path d="M1136.0,1478.0 h6 M1139.0,1475.0 v6" stroke="#000" stroke-width="1.1"/><path d="M1157.0,1475.0 h6 M1160.0,1472.0 v6" stroke="#000" stroke-width="1.1"/><path d="M896.0,1405.0 h6 M899.0,1402.0 v6" stroke="#000" stroke-width="1.1"/><path d="M917.0,1419.0 h6 M920.0,1416.0 v6" stroke="#000" stroke-width="1.1"/><path d="M932.0,1425.0 h6 M935.0,1422.0 v6" stroke="#000" stroke-width="1.1"/><path d="M955.0,1436.0 h6 M958.0,1433.0 v6" stroke="#000" stroke-width="1.1"/><path d="M976.0,1457.0 h6 M979.0,1454.0 v6" stroke="#000" stroke-width="1.1"/><path d="M1001.0,1474.0 h6 M1004.0,1471.0 v6" stroke="#000" stroke-width="1.1"/><path d="M1027.0,1482.0 h6 M1030.0,1479.0 v6" stroke="#000" stroke-width="1.1"/><path d="M1052.0,1487.0 h6 M1055.0,1484.0 v6" stroke="#000" stroke-width="1.1"/><path d="M1069.0,1487.0 h6 M1072.0,1484.0 v6" stroke="#000" stroke-width="1.1"/><path d="M1094.0,1508.0 h6 M1097.0,1505.0 v6" stroke="#000" stroke-width="1.1"/><path d="M1115.0,1512.0 h6 M1118.0,1509.0 v6" stroke="#000" stroke-width="1.1"/><path d="M1145.0,1514.0 h6 M1148.0,1511.0 v6" stroke="#000" stroke-width="1.1"/><path d="M1162.0,1512.0 h6 M1165.0,1509.0 v6" stroke="#000" stroke-width="1.1"/><path d="M1179.0,1503.0 h6 M1182.0,1500.0 v6" stroke="#000" stroke-width="1.1"/><path d="M1187.0,1512.0 h6 M1190.0,1509.0 v6" stroke="#000" stroke-width="1.1"/><path d="M1199.0,1515.0 h6 M1202.0,1512.0 v6" stroke="#000" stroke-width="1.1"/><path d="M1216.0,1520.0 h6 M1219.0,1517.0 v6" stroke="#000" stroke-width="1.1"/><path d="M974.0,1364.0 h6 M977.0,1361.0 v6" stroke="#000" stroke-width="1.1"/><path d="M986.0,1392.0 h6 M989.0,1389.0 v6" stroke="#000" stroke-width="1.1"/><path d="M985.0,1406.0 h6 M988.0,1403.0 v6" stroke="#000" stroke-width="1.1"/><path d="M1010.0,1449.0 h6 M1013.0,1446.0 v6" stroke="#000" stroke-width="1.1"/><path d="M1033.0,1500.0 h6 M1036.0,1497.0 v6" stroke="#000" stroke-width="1.1"/><path d="M1048.0,1533.0 h6 M1051.0,1530.0 v6" stroke="#000" stroke-width="1.1"/><path d="M1060.0,1554.0 h6 M1063.0,1551.0 v6" stroke="#000" stroke-width="1.1"/><path d="M1060.0,1575.0 h6 M1063.0,1572.0 v6" stroke="#000" stroke-width="1.1"/><path d="M1065.0,1596.0 h6 M1068.0,1593.0 v6" stroke="#000" stroke-width="1.1"/><path d="M860.0,1571.0 h6 M863.0,1568.0 v6" stroke="#000" stroke-width="1.1"/><path d="M879.0,1575.0 h6 M882.0,1572.0 v6" stroke="#000" stroke-width="1.1"/><path d="M896.0,1579.0 h6 M899.0,1576.0 v6" stroke="#000" stroke-width="1.1"/><path d="M917.0,1588.0 h6 M920.0,1585.0 v6" stroke="#000" stroke-width="1.1"/><path d="M947.0,1590.0 h6 M950.0,1587.0 v6" stroke="#000" stroke-width="1.1"/><path d="M964.0,1586.0 h6 M967.0,1583.0 v6" stroke="#000" stroke-width="1.1"/><path d="M989.0,1596.0 h6 M992.0,1593.0 v6" stroke="#000" stroke-width="1.1"/><path d="M1002.0,1597.0 h6 M1005.0,1594.0 v6" stroke="#000" stroke-width="1.1"/><path d="M1023.0,1602.0 h6 M1026.0,1599.0 v6" stroke="#000" stroke-width="1.1"/><path d="M1037.0,1605.0 h6 M1040.0,1602.0 v6" stroke="#000" stroke-width="1.1"/><path d="M1052.0,1607.0 h6 M1055.0,1604.0 v6" stroke="#000" stroke-width="1.1"/><path d="M1067.0,1610.0 h6 M1070.0,1607.0 v6" stroke="#000" stroke-width="1.1"/><path d="M1027.0,1613.0 h6 M1030.0,1610.0 v6" stroke="#000" stroke-width="1.1"/><path d="M1037.0,1614.0 h6 M1040.0,1611.0 v6" stroke="#000" stroke-width="1.1"/><path d="M1047.0,1615.0 h6 M1050.0,1612.0 v6" stroke="#000" stroke-width="1.1"/><path d="M1057.0,1615.0 h6 M1060.0,1612.0 v6" stroke="#000" stroke-width="1.1"/><path d="M1067.0,1614.0 h6 M1070.0,1611.0 v6" stroke="#000" stroke-width="1.1"/><path d="M1107.0,1594.0 h6 M1110.0,1591.0 v6" stroke="#000" stroke-width="1.1"/><path d="M1128.0,1583.0 h6 M1131.0,1580.0 v6" stroke="#000" stroke-width="1.1"/><path d="M1137.0,1554.0 h6 M1140.0,1551.0 v6" stroke="#000" stroke-width="1.1"/><path d="M1144.0,1545.0 h6 M1147.0,1542.0 v6" stroke="#000" stroke-width="1.1"/><path d="M1153.0,1529.0 h6 M1156.0,1526.0 v6" stroke="#000" stroke-width="1.1"/><path d="M1170.0,1503.0 h6 M1173.0,1500.0 v6" stroke="#000" stroke-width="1.1"/><path d="M1017.0,1536.0 h6 M1020.0,1533.0 v6" stroke="#000" stroke-width="1.1"/><path d="M1032.0,1538.0 h6 M1035.0,1535.0 v6" stroke="#000" stroke-width="1.1"/><path d="M1052.0,1535.0 h6 M1055.0,1532.0 v6" stroke="#000" stroke-width="1.1"/><path d="M1067.0,1537.0 h6 M1070.0,1534.0 v6" stroke="#000" stroke-width="1.1"/><path d="M987.0,1547.0 h6 M990.0,1544.0 v6" stroke="#000" stroke-width="1.1"/><path d="M1002.0,1545.0 h6 M1005.0,1542.0 v6" stroke="#000" stroke-width="1.1"/><path d="M1092.0,1630.0 h6 M1095.0,1627.0 v6" stroke="#000" stroke-width="1.1"/><path d="M1094.0,1643.0 h6 M1097.0,1640.0 v6" stroke="#000" stroke-width="1.1"/><path d="M1109.0,1628.0 h6 M1112.0,1625.0 v6" stroke="#000" stroke-width="1.1"/><path d="M1115.0,1636.0 h6 M1118.0,1633.0 v6" stroke="#000" stroke-width="1.1"/><path d="M1102.0,1620.0 h6 M1105.0,1617.0 v6" stroke="#000" stroke-width="1.1"/><path d="M1097.0,1648.0 h6 M1100.0,1645.0 v6" stroke="#000" stroke-width="1.1"/><path d="M1107.0,1646.0 h6 M1110.0,1643.0 v6" stroke="#000" stroke-width="1.1"/><path d="M1119.0,1640.0 h6 M1122.0,1637.0 v6" stroke="#000" stroke-width="1.1"/></g><rect x="780.0" y="1301.5" width="507.5" height="410.5" fill="none" stroke="#111" stroke-width="1.2"/><text transform="translate(810.30 1429.10) scale(1.0418 1)" font-size="18.33" font-weight="bold" style="font-family:&quot;Liberation Serif&quot;,serif" fill="#ffffff">P1</text><text transform="translate(832.50 1468.50) scale(0.9715 1)" font-size="21.52" font-weight="bold" style="font-family:&quot;Liberation Serif&quot;,serif" fill="#ffffff">P2</text><text transform="translate(883.90 1394.80) scale(0.9622 1)" font-size="19.85" font-weight="bold" style="font-family:&quot;Liberation Serif&quot;,serif" fill="#ffffff">P3</text><text transform="translate(954.50 1389.80) scale(0.9709 1)" font-size="21.53" font-weight="bold" style="font-family:&quot;Liberation Serif&quot;,serif" fill="#ffffff">P5</text><text transform="translate(847.60 1589.80) scale(0.9550 1)" font-size="20.00" font-weight="bold" style="font-family:&quot;Liberation Serif&quot;,serif" fill="#ffffff">P4</text><text transform="translate(1004.90 1627.00) scale(0.9357 1)" font-size="21.37" font-weight="bold" style="font-family:&quot;Liberation Serif&quot;,serif" fill="#ffffff">P7</text><text transform="translate(1049.20 1667.40) scale(1.0530 1)" font-size="19.85" font-weight="bold" style="font-family:&quot;Liberation Serif&quot;,serif" fill="#ffffff">P6</text><text transform="translate(959.60 1675.50) scale(0.8995 1)" font-size="13.79" font-weight="normal" style="font-family:&quot;Liberation Serif&quot;,serif" fill="#333">Argolic Gulf</text>
</svg></body></html>
